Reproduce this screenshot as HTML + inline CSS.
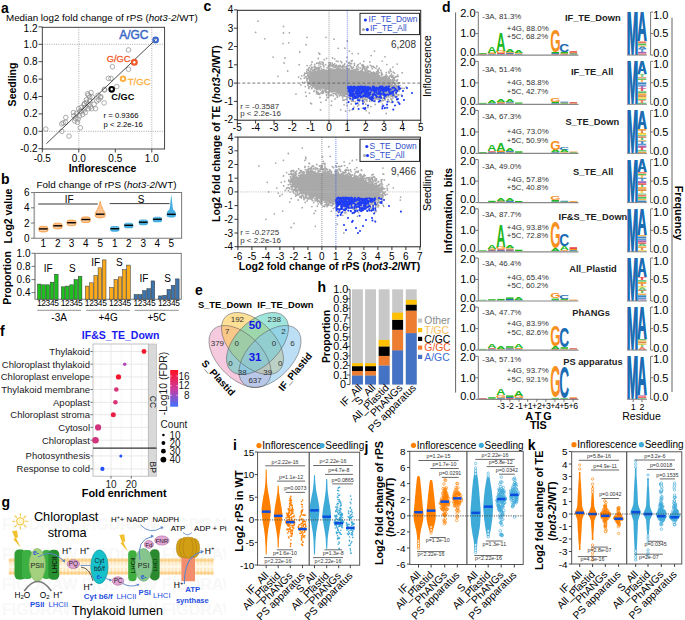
<!DOCTYPE html><html><head><meta charset="utf-8"><style>html,body{margin:0;padding:0;background:#fff}svg{display:block;font-family:"Liberation Sans",sans-serif}</style></head><body><svg width="685" height="620" viewBox="0 0 685 620" font-size="10"><g id="pa"><text x="1" y="12.5" font-size="14" font-weight="bold">a</text><text x="6" y="21" font-size="9.8">Median log2 fold change of rPS (<tspan font-style="italic">hot3-2</tspan>/WT)</text><line x1="78.8" y1="27.3" x2="78.8" y2="149" stroke="#888" stroke-width="0.7" stroke-dasharray="1 1.3"/><line x1="42.3" y1="131.3" x2="164.6" y2="131.3" stroke="#888" stroke-width="0.7" stroke-dasharray="1 1.3"/><line x1="151.8" y1="27.3" x2="151.8" y2="149" stroke="#888" stroke-width="0.7" stroke-dasharray="1 1.3"/><line x1="42.3" y1="44.3" x2="164.6" y2="44.3" stroke="#888" stroke-width="0.7" stroke-dasharray="1 1.3"/><g fill="none" stroke="#8a8a8a" stroke-width="0.7"><circle cx="45.8" cy="129.1" r="2.3"/><circle cx="61.9" cy="131.3" r="2.3"/><circle cx="69" cy="136.1" r="2.3"/><circle cx="80.3" cy="127.8" r="2.3"/><circle cx="61.7" cy="123.9" r="2.3"/><circle cx="65.5" cy="122.3" r="2.3"/><circle cx="65.8" cy="117.5" r="2.3"/><circle cx="63.2" cy="122.9" r="2.3"/><circle cx="73.5" cy="112.6" r="2.3"/><circle cx="73.8" cy="115.8" r="2.3"/><circle cx="75.5" cy="118.4" r="2.3"/><circle cx="77.4" cy="122.3" r="2.3"/><circle cx="74.8" cy="121" r="2.3"/><circle cx="78.1" cy="119" r="2.3"/><circle cx="82.6" cy="114.5" r="2.3"/><circle cx="81.3" cy="111.3" r="2.3"/><circle cx="83.9" cy="110" r="2.3"/><circle cx="85.2" cy="107.4" r="2.3"/><circle cx="84.5" cy="103.5" r="2.3"/><circle cx="86.5" cy="102.3" r="2.3"/><circle cx="89" cy="104.2" r="2.3"/><circle cx="90.3" cy="106.8" r="2.3"/><circle cx="91.6" cy="108.7" r="2.3"/><circle cx="88.4" cy="108.7" r="2.3"/><circle cx="94.2" cy="104.2" r="2.3"/><circle cx="95.5" cy="108.7" r="2.3"/><circle cx="89.7" cy="101" r="2.3"/><circle cx="88.4" cy="95.2" r="2.3"/><circle cx="91" cy="92.6" r="2.3"/><circle cx="89.7" cy="97.1" r="2.3"/><circle cx="92.3" cy="97.1" r="2.3"/><circle cx="98.1" cy="95.2" r="2.3"/><circle cx="100.6" cy="97.7" r="2.3"/><circle cx="98.7" cy="99.7" r="2.3"/><circle cx="104.1" cy="102.9" r="2.3"/><circle cx="104.5" cy="90" r="2.3"/><circle cx="108.4" cy="78.4" r="2.3"/><circle cx="111" cy="78.4" r="2.3"/><circle cx="116.8" cy="86.6" r="2.3"/><circle cx="80" cy="111.3" r="2.3"/><circle cx="78.7" cy="108.7" r="2.3"/><circle cx="81.3" cy="107.4" r="2.3"/><circle cx="96.8" cy="101" r="2.3"/><circle cx="86.5" cy="99.7" r="2.3"/><circle cx="83.9" cy="104.8" r="2.3"/><circle cx="85.2" cy="112.6" r="2.3"/><circle cx="128.5" cy="49.9" r="2.3"/><circle cx="112.4" cy="66.7" r="2.3"/><circle cx="128.5" cy="69.3" r="2.3"/><circle cx="104.4" cy="89.3" r="2.3"/><circle cx="100.7" cy="96.6" r="2.3"/><circle cx="87.5" cy="93.8" r="2.3"/><circle cx="76.5" cy="113.5" r="2.3"/><circle cx="79.5" cy="116" r="2.3"/></g><line x1="46.4" y1="143.7" x2="155.5" y2="39.7" stroke="#222" stroke-width="0.8" /><circle cx="155.6" cy="39.9" r="2.3" fill="none" stroke="#3a67c8" stroke-width="2.1" /><circle cx="134.3" cy="62.3" r="2.4" fill="none" stroke="#f05a28" stroke-width="2.2" /><circle cx="123" cy="78.7" r="2.3" fill="none" stroke="#fbb040" stroke-width="2.0" /><circle cx="111.7" cy="89.3" r="2.3" fill="none" stroke="#000" stroke-width="2.1" /><text x="119.2" y="39" font-size="12" fill="#3a67c8" stroke="#3a67c8" stroke-width="0.45">A/GC</text><text x="106.7" y="62.2" font-size="9.3" fill="#f05a28" stroke="#f05a28" stroke-width="0.3">G/GC</text><text x="127.8" y="85.2" font-size="9.5" fill="#fbb040" stroke="#fbb040" stroke-width="0.3">T/GC</text><text x="111.3" y="100.3" font-size="9.2" font-weight="bold">C/GC</text><text x="103.6" y="118.2" font-size="7.7">r = 0.9366</text><text x="103.6" y="127.3" font-size="7.7">p &lt; 2.2e-16</text><rect x="42.3" y="27.3" width="122.3" height="121.7" fill="none" stroke="#333" stroke-width="0.9"/><line x1="38.5" y1="26.9" x2="42.3" y2="26.9" stroke="#333" stroke-width="0.9" /><text x="37.5" y="32" text-anchor="end">1.2</text><line x1="38.5" y1="44.3" x2="42.3" y2="44.3" stroke="#333" stroke-width="0.9" /><text x="37.5" y="47.8" text-anchor="end">1.0</text><line x1="38.5" y1="61.7" x2="42.3" y2="61.7" stroke="#333" stroke-width="0.9" /><text x="37.5" y="65.2" text-anchor="end">0.8</text><line x1="38.5" y1="79.1" x2="42.3" y2="79.1" stroke="#333" stroke-width="0.9" /><text x="37.5" y="82.6" text-anchor="end">0.6</text><line x1="38.5" y1="96.5" x2="42.3" y2="96.5" stroke="#333" stroke-width="0.9" /><text x="37.5" y="100" text-anchor="end">0.4</text><line x1="38.5" y1="113.9" x2="42.3" y2="113.9" stroke="#333" stroke-width="0.9" /><text x="37.5" y="117.4" text-anchor="end">0.2</text><line x1="38.5" y1="131.3" x2="42.3" y2="131.3" stroke="#333" stroke-width="0.9" /><text x="37.5" y="134.8" text-anchor="end">0.0</text><line x1="38.5" y1="148.7" x2="42.3" y2="148.7" stroke="#333" stroke-width="0.9" /><text x="37.5" y="152.2" text-anchor="end">-0.2</text><line x1="42.3" y1="149" x2="42.3" y2="152.5" stroke="#333" stroke-width="0.9" /><text x="42.3" y="162" text-anchor="middle">-0.5</text><line x1="78.8" y1="149" x2="78.8" y2="152.5" stroke="#333" stroke-width="0.9" /><text x="78.8" y="162" text-anchor="middle">0.0</text><line x1="115.3" y1="149" x2="115.3" y2="152.5" stroke="#333" stroke-width="0.9" /><text x="115.3" y="162" text-anchor="middle">0.5</text><line x1="151.8" y1="149" x2="151.8" y2="152.5" stroke="#333" stroke-width="0.9" /><text x="151.8" y="162" text-anchor="middle">1.0</text><text x="102.5" y="172" font-size="10.5" text-anchor="middle" font-weight="bold">Inflorescence</text><text x="15.5" y="84.5" font-size="10.5" text-anchor="middle" font-weight="bold" transform="rotate(-90 15.5 84.5)">Seedling</text></g><g id="pb"><text x="1" y="184" font-size="14" font-weight="bold">b</text><text x="36.5" y="188.2" font-size="9.9">Fold change of rPS (<tspan font-style="italic">hot3-2</tspan>/WT)</text><rect x="34.3" y="192.6" width="147.4" height="45.6" fill="none" stroke="#555" stroke-width="0.8"/><line x1="34.3" y1="192.6" x2="34.3" y2="238.2" stroke="#aaa" stroke-width="1.6" /><line x1="31" y1="238.2" x2="34.3" y2="238.2" stroke="#555" stroke-width="0.8" /><text x="29.5" y="241.7" text-anchor="end">0</text><line x1="31" y1="223" x2="34.3" y2="223" stroke="#555" stroke-width="0.8" /><text x="29.5" y="226.5" text-anchor="end">2</text><line x1="31" y1="207.8" x2="34.3" y2="207.8" stroke="#555" stroke-width="0.8" /><text x="29.5" y="211.3" text-anchor="end">4</text><line x1="31" y1="192.6" x2="34.3" y2="192.6" stroke="#555" stroke-width="0.8" /><text x="29.5" y="196.1" text-anchor="end">6</text><line x1="38.2" y1="204" x2="97.8" y2="204" stroke="#7a7a7a" stroke-width="1.3" /><line x1="109.7" y1="203.6" x2="169.6" y2="203.6" stroke="#444" stroke-width="1.0" /><text x="69.3" y="203" text-anchor="middle">IF</text><text x="141" y="202.5" text-anchor="middle">S</text><rect x="38.7" y="226.3" width="9.4" height="5.6" rx="2.6" fill="#fbbd85" stroke="#f79a40" stroke-width="0.8"/><path d="M40.2 230.5h6.4" stroke="#fde8d0" stroke-width="0.9" stroke-dasharray="0.9 0.7"/><rect x="110.1" y="226.1" width="9.4" height="5.6" rx="2.6" fill="#46aee0"/><path d="M111.8 227.2h6" stroke="#bfe4f6" stroke-width="0.8" stroke-dasharray="0.8 1"/><rect x="53" y="223.2" width="9.4" height="5.6" rx="2.6" fill="#fbbd85" stroke="#f79a40" stroke-width="0.8"/><path d="M54.5 227.4h6.4" stroke="#fde8d0" stroke-width="0.9" stroke-dasharray="0.9 0.7"/><rect x="124" y="222.7" width="9.4" height="5.6" rx="2.6" fill="#46aee0"/><path d="M125.7 223.8h6" stroke="#bfe4f6" stroke-width="0.8" stroke-dasharray="0.8 1"/><rect x="66.8" y="220.1" width="9.4" height="5.6" rx="2.6" fill="#fbbd85" stroke="#f79a40" stroke-width="0.8"/><path d="M68.3 224.3h6.4" stroke="#fde8d0" stroke-width="0.9" stroke-dasharray="0.9 0.7"/><rect x="138.6" y="219.6" width="9.4" height="5.6" rx="2.6" fill="#46aee0"/><path d="M140.3 220.7h6" stroke="#bfe4f6" stroke-width="0.8" stroke-dasharray="0.8 1"/><rect x="81.1" y="216.9" width="9.4" height="5.6" rx="2.6" fill="#fbbd85" stroke="#f79a40" stroke-width="0.8"/><path d="M82.6 221.1h6.4" stroke="#fde8d0" stroke-width="0.9" stroke-dasharray="0.9 0.7"/><rect x="152.7" y="216.7" width="9.4" height="5.6" rx="2.6" fill="#46aee0"/><path d="M154.4 217.8h6" stroke="#bfe4f6" stroke-width="0.8" stroke-dasharray="0.8 1"/><path d="M100.2 201.4 L101.3 205.5 L103 209.5 L104.8 212.5 C105.3 214 105.3 215.5 105 216.5 C104 218.4 96.4 218.4 95.4 216.5 C95.1 215.5 95.1 214 95.6 212.5 L97.4 209.5 L99.1 205.5Z" fill="#fbbd85" stroke="#f79a40" stroke-width="0.8"/><path d="M100.2 204v8M98.4 209v6M102 209v6" stroke="#fde8d0" stroke-width="0.7" stroke-dasharray="0.8 0.9"/><path d="M171.3 194.8 C172.2 200 172.2 206 173.2 209.5 C175.5 211 176 212.5 176 215.5 C176 218.3 166.6 218.3 166.6 215.5 C166.6 212.5 167.1 211 169.4 209.5 C170.4 206 170.4 200 171.3 194.8Z" fill="#46aee0"/><line x1="39.1" y1="228.9" x2="47.7" y2="228.9" stroke="#000" stroke-width="1.4" /><line x1="110.5" y1="228.7" x2="119.1" y2="228.7" stroke="#000" stroke-width="1.4" /><line x1="53.4" y1="225.8" x2="62" y2="225.8" stroke="#000" stroke-width="1.4" /><line x1="124.4" y1="225.3" x2="133" y2="225.3" stroke="#000" stroke-width="1.4" /><line x1="67.2" y1="222.7" x2="75.8" y2="222.7" stroke="#000" stroke-width="1.4" /><line x1="139" y1="222.2" x2="147.6" y2="222.2" stroke="#000" stroke-width="1.4" /><line x1="81.5" y1="219.5" x2="90.1" y2="219.5" stroke="#000" stroke-width="1.4" /><line x1="153.1" y1="219.3" x2="161.7" y2="219.3" stroke="#000" stroke-width="1.4" /><line x1="95.9" y1="214.2" x2="104.5" y2="214.2" stroke="#000" stroke-width="1.4" /><line x1="167" y1="214.3" x2="175.6" y2="214.3" stroke="#000" stroke-width="1.4" /><text x="43.4" y="247.4" text-anchor="middle">1</text><text x="114.8" y="247.4" text-anchor="middle">1</text><text x="57.7" y="247.4" text-anchor="middle">2</text><text x="128.7" y="247.4" text-anchor="middle">2</text><text x="71.5" y="247.4" text-anchor="middle">3</text><text x="143.3" y="247.4" text-anchor="middle">3</text><text x="85.8" y="247.4" text-anchor="middle">4</text><text x="157.4" y="247.4" text-anchor="middle">4</text><text x="100.2" y="247.4" text-anchor="middle">5</text><text x="171.3" y="247.4" text-anchor="middle">5</text><text x="11.5" y="216" font-size="10.5" text-anchor="middle" font-weight="bold" transform="rotate(-90 11.5 216)">Log2 value</text><rect x="35" y="253.3" width="146.2" height="45.9" fill="none" stroke="#555" stroke-width="0.8"/><line x1="35" y1="253.3" x2="35" y2="299.2" stroke="#aaa" stroke-width="1.6" /><line x1="31.5" y1="253.3" x2="35" y2="253.3" stroke="#555" stroke-width="0.8" /><text x="30.5" y="256.9" text-anchor="end">1.0</text><line x1="31.5" y1="266.4" x2="35" y2="266.4" stroke="#555" stroke-width="0.8" /><text x="30.5" y="269.9" text-anchor="end">0.8</text><line x1="31.5" y1="279.6" x2="35" y2="279.6" stroke="#555" stroke-width="0.8" /><text x="30.5" y="283.1" text-anchor="end">0.6</text><line x1="31.5" y1="292.6" x2="35" y2="292.6" stroke="#555" stroke-width="0.8" /><text x="30.5" y="296.1" text-anchor="end">0.4</text><rect x="37.5" y="284.1" width="3.6" height="15.1" fill="#1ec01e" stroke="#333" stroke-width="0.5"/><rect x="41.8" y="284.8" width="3.6" height="14.4" fill="#1ec01e" stroke="#333" stroke-width="0.5"/><rect x="46" y="284.8" width="3.6" height="14.4" fill="#1ec01e" stroke="#333" stroke-width="0.5"/><rect x="50.2" y="282.2" width="3.6" height="17" fill="#1ec01e" stroke="#333" stroke-width="0.5"/><rect x="54.5" y="274.3" width="3.6" height="24.9" fill="#1ec01e" stroke="#333" stroke-width="0.5"/><text x="47.8" y="306.3" font-size="8.4" text-anchor="middle" letter-spacing="-0.3">12345</text><rect x="61.3" y="286.8" width="3.6" height="12.4" fill="#1ec01e" stroke="#333" stroke-width="0.5"/><rect x="65.5" y="286.1" width="3.6" height="13.1" fill="#1ec01e" stroke="#333" stroke-width="0.5"/><rect x="69.8" y="284.8" width="3.6" height="14.4" fill="#1ec01e" stroke="#333" stroke-width="0.5"/><rect x="74" y="279.6" width="3.6" height="19.6" fill="#1ec01e" stroke="#333" stroke-width="0.5"/><rect x="78.3" y="276.3" width="3.6" height="22.9" fill="#1ec01e" stroke="#333" stroke-width="0.5"/><text x="71.6" y="306.3" font-size="8.4" text-anchor="middle" letter-spacing="-0.3">12345</text><rect x="85.4" y="286.1" width="3.6" height="13.1" fill="#fbaa1a" stroke="#333" stroke-width="0.5"/><rect x="89.6" y="282.8" width="3.6" height="16.4" fill="#fbaa1a" stroke="#333" stroke-width="0.5"/><rect x="93.9" y="275.6" width="3.6" height="23.6" fill="#fbaa1a" stroke="#333" stroke-width="0.5"/><rect x="98.1" y="267.8" width="3.6" height="31.4" fill="#fbaa1a" stroke="#333" stroke-width="0.5"/><rect x="102.4" y="259.9" width="3.6" height="39.3" fill="#fbaa1a" stroke="#333" stroke-width="0.5"/><text x="95.7" y="306.3" font-size="8.4" text-anchor="middle" letter-spacing="-0.3">12345</text><rect x="109.7" y="287.4" width="3.6" height="11.8" fill="#fbaa1a" stroke="#333" stroke-width="0.5"/><rect x="114" y="279.6" width="3.6" height="19.6" fill="#fbaa1a" stroke="#333" stroke-width="0.5"/><rect x="118.2" y="276.9" width="3.6" height="22.3" fill="#fbaa1a" stroke="#333" stroke-width="0.5"/><rect x="122.5" y="269.7" width="3.6" height="29.5" fill="#fbaa1a" stroke="#333" stroke-width="0.5"/><rect x="126.7" y="265.1" width="3.6" height="34.1" fill="#fbaa1a" stroke="#333" stroke-width="0.5"/><text x="120" y="306.3" font-size="8.4" text-anchor="middle" letter-spacing="-0.3">12345</text><rect x="134.1" y="294.6" width="3.6" height="4.6" fill="#3d74ab" stroke="#333" stroke-width="0.5"/><rect x="138.4" y="294.6" width="3.6" height="4.6" fill="#3d74ab" stroke="#333" stroke-width="0.5"/><rect x="142.6" y="290.7" width="3.6" height="8.5" fill="#3d74ab" stroke="#333" stroke-width="0.5"/><rect x="146.9" y="288.7" width="3.6" height="10.5" fill="#3d74ab" stroke="#333" stroke-width="0.5"/><rect x="151.1" y="280.9" width="3.6" height="18.3" fill="#3d74ab" stroke="#333" stroke-width="0.5"/><text x="144.4" y="306.3" font-size="8.4" text-anchor="middle" letter-spacing="-0.3">12345</text><rect x="158.5" y="295.9" width="3.6" height="3.3" fill="#3d74ab" stroke="#333" stroke-width="0.5"/><rect x="162.8" y="295.3" width="3.6" height="3.9" fill="#3d74ab" stroke="#333" stroke-width="0.5"/><rect x="167" y="289.4" width="3.6" height="9.8" fill="#3d74ab" stroke="#333" stroke-width="0.5"/><rect x="171.2" y="285.4" width="3.6" height="13.8" fill="#3d74ab" stroke="#333" stroke-width="0.5"/><rect x="175.5" y="278.9" width="3.6" height="20.3" fill="#3d74ab" stroke="#333" stroke-width="0.5"/><text x="168.8" y="306.3" font-size="8.4" text-anchor="middle" letter-spacing="-0.3">12345</text><text x="48.2" y="272" text-anchor="middle">IF</text><text x="72.3" y="272" text-anchor="middle">S</text><text x="95.6" y="266.3" text-anchor="middle">IF</text><text x="119.3" y="266.3" text-anchor="middle">S</text><text x="143.9" y="282.3" text-anchor="middle">IF</text><text x="167.5" y="282.3" text-anchor="middle">S</text><line x1="37.2" y1="310.3" x2="81" y2="310.3" stroke="#777" stroke-width="0.8" /><text x="59.1" y="320.9" text-anchor="middle">-3A</text><line x1="86.1" y1="310.3" x2="130.1" y2="310.3" stroke="#777" stroke-width="0.8" /><text x="108.1" y="320.9" text-anchor="middle">+4G</text><line x1="134.6" y1="310.3" x2="178.8" y2="310.3" stroke="#777" stroke-width="0.8" /><text x="156.7" y="320.9" text-anchor="middle">+5C</text><text x="11" y="278" font-size="10.5" text-anchor="middle" font-weight="bold" transform="rotate(-90 11 278)">Proportion</text></g><g id="pg"><text x="1.5" y="506.5" font-size="14" font-weight="bold">g</text><clipPath id="gwm"><rect x="0" y="512" width="226" height="108"/></clipPath><g clip-path="url(#gwm)"><text x="2" y="530" font-size="16" font-weight="bold" fill="#f8f8f8">FIGDRAW  FIGDRAW  FIGDRAW  FIGDRAW</text><text x="2" y="560" font-size="16" font-weight="bold" fill="#f8f8f8">FIGDRAW  FIGDRAW  FIGDRAW  FIGDRAW</text><text x="2" y="590" font-size="16" font-weight="bold" fill="#f8f8f8">FIGDRAW  FIGDRAW  FIGDRAW  FIGDRAW</text><text x="2" y="615" font-size="16" font-weight="bold" fill="#f8f8f8">FIGDRAW  FIGDRAW  FIGDRAW  FIGDRAW</text></g><text x="33.9" y="520.8" font-size="12.75">Chloroplast</text><text x="67.2" y="537.4" font-size="12.75" text-anchor="middle">stroma</text><text x="71.9" y="614.7" font-size="12.5">Thylakoid lumen</text><g stroke="#f7c948" stroke-width="1.1" fill="none"><circle cx="20.3" cy="521.3" r="3.6" fill="#fff7d0"/><path d="M25.7 521.3L28.1 521.3M24.1 525.1L25.8 526.8M20.3 526.7L20.3 529.1M16.5 525.1L14.8 526.8M14.9 521.3L12.5 521.3M16.5 517.5L14.8 515.8M20.3 515.9L20.3 513.5M24.1 517.5L25.8 515.8" stroke-linecap="round"/></g><path d="M12.1 531l5 -0.6l0.9 7.2l-1.9 0.4l4.6 9.6l-7.6 -8.6l1.9 -0.5z" fill="#f2c12e"/><path d="M119.3 534.9l5 -0.6l0.9 7.2l-1.9 0.4l4.6 9.6l-7.6 -8.6l1.9 -0.5z" fill="#f2c12e"/><defs><pattern id="mem" x="8.7" y="558.3" width="3.6" height="16.6" patternUnits="userSpaceOnUse"><rect width="3.6" height="16.6" fill="#fff8e8"/><path d="M1.2 3v4M2.4 3v4M1.2 9.6v4M2.4 9.6v4" stroke="#fbd9a0" stroke-width="0.6"/><circle cx="1.8" cy="1.9" r="1.8" fill="#fcd086"/><circle cx="1.8" cy="14.7" r="1.8" fill="#fcd086"/></pattern></defs><rect x="8.7" y="558.3" width="205" height="16.6" fill="url(#mem)" /><rect x="14.5" y="549.4" width="11" height="30.1" rx="4.5" fill="#2f9e35"/><rect x="22" y="550" width="10" height="29" rx="4" fill="#3cb043"/><rect x="42" y="550" width="9" height="29" rx="4" fill="#3cb043"/><rect x="48.4" y="549.8" width="10.8" height="30" rx="4.5" fill="#279030"/><ellipse cx="37.3" cy="564.9" rx="8.2" ry="16.5" fill="#a3d17e" stroke="#7fb35a" stroke-width="0.6"/><text x="37.3" y="567.6" font-size="7.2" text-anchor="middle" fill="#222">PSII</text><text x="56.8" y="565" font-size="6.6" text-anchor="middle" font-weight="bold" fill="#123012" transform="rotate(-90 56.8 565)">LHCII</text><text x="35.9" y="554.6" font-size="6.5" text-anchor="middle" font-weight="bold" fill="#1f4fe0">e-</text><path d="M38 557 Q52 548 64 561" fill="none" stroke="#5b86c8" stroke-width="1"/><path d="M65.0 562.5L64.8 559.0L61.8 561.1Z" fill="#5b86c8"/><path d="M24.2 591 Q37.8 572 51.4 591" fill="none" stroke="#7a7a7a" stroke-width="1.6"/><text x="14.5" y="597.9" font-size="8.3">H<tspan font-size="6" dy="1">2</tspan><tspan dy="-1">O</tspan></text><text x="39.7" y="597.9" font-size="8.3">O<tspan font-size="6" dy="1">2</tspan></text><text x="53.3" y="597.9" font-size="8.3">H<tspan font-size="5.8" dy="-3.5">+</tspan></text><text x="30" y="606.6" font-size="7.6" font-weight="bold" fill="#1f4fe0">PSII</text><text x="48.4" y="606.6" font-size="7.7" fill="#1f4fe0">LHCII</text><text x="62.1" y="553.5" font-size="8.5">H<tspan font-size="5.9" dy="-3.5">+</tspan></text><text x="79.9" y="553.5" font-size="8.5">H<tspan font-size="5.9" dy="-3.5">+</tspan></text><ellipse cx="73.3" cy="564.1" rx="6.2" ry="4.4" fill="#e2a5d6" stroke="#a66a9c" stroke-width="0.6"/><text x="73.3" y="566.3" font-size="6.3" text-anchor="middle" fill="#222">PQ</text><ellipse cx="99.4" cy="566.8" rx="8.6" ry="16.9" fill="#17c1c9" stroke="#0b9aa2" stroke-width="0.7"/><text x="99.4" y="563" font-size="6.5" text-anchor="middle" fill="#123">Cyt</text><text x="99.4" y="571.2" font-size="6.5" text-anchor="middle" fill="#123">b6/f</text><text x="99.4" y="579" font-size="6.5" text-anchor="middle" font-weight="bold" fill="#1f4fe0">e-</text><path d="M81 567 Q90 568 93 581" fill="none" stroke="#333" stroke-width="0.8"/><line x1="80.5" y1="565.5" x2="90.5" y2="565.5" stroke="#5b86c8" stroke-width="0.8" /><text x="83.4" y="589.5" font-size="8.5">H<tspan font-size="5.9" dy="-3.5">+</tspan></text><path d="M104 576 Q106 580 111.5 580" fill="none" stroke="#5b86c8" stroke-width="0.9"/><path d="M112.0 580.2L109.5 578.4L109.3 581.5Z" fill="#5b86c8"/><ellipse cx="118" cy="581" rx="5.8" ry="4.2" fill="#e2a5d6" stroke="#a66a9c" stroke-width="0.6"/><text x="118" y="583.2" font-size="6.3" text-anchor="middle" fill="#222">PC</text><path d="M123 583.5 Q130 588 138.5 584.5" fill="none" stroke="#5b86c8" stroke-width="0.9"/><path d="M139.5 584.0L136.5 583.7L137.8 586.5Z" fill="#5b86c8"/><text x="83.8" y="598.8" font-size="7.9" font-weight="bold" fill="#1f4fe0">Cyt b6/f</text><text x="116.4" y="598.8" font-size="7.9" fill="#1f4fe0">LHCII</text><rect x="128.2" y="550.2" width="8.5" height="31" rx="4" fill="#3fae3f"/><rect x="149.8" y="549.3" width="9.8" height="31.1" rx="4.5" fill="#2b8a2f"/><ellipse cx="143.6" cy="564.9" rx="8.9" ry="16.4" fill="#86c68e" stroke="#5fa86a" stroke-width="0.6"/><text x="134.6" y="565.5" font-size="6.2" text-anchor="middle" font-weight="bold" fill="#173817" transform="rotate(-90 134.6 565.5)">LHCII</text><text x="156.9" y="565" font-size="5.6" text-anchor="middle" fill="#102810" transform="rotate(-90 156.9 565)">LHCI</text><text x="143.6" y="567.5" font-size="7.2" text-anchor="middle" fill="#222">PSI</text><text x="143.6" y="578.5" font-size="6.5" text-anchor="middle" font-weight="bold" fill="#1f4fe0">e-</text><path d="M140 560 Q136 540 152 536.5" fill="none" stroke="#5b86c8" stroke-width="1"/><path d="M154.0 536.0L150.9 534.5L151.2 538.1Z" fill="#5b86c8"/><ellipse cx="148.9" cy="544.4" rx="4.6" ry="3.9" fill="#e2a5d6" stroke="#a66a9c" stroke-width="0.6"/><text x="148.9" y="546.5" font-size="6.2" text-anchor="middle" fill="#222">Fd</text><ellipse cx="161.9" cy="540.5" rx="7.2" ry="4.6" fill="#e2a5d6" stroke="#a66a9c" stroke-width="0.6"/><text x="161.9" y="542.7" font-size="6.2" text-anchor="middle" fill="#222">FNR</text><text x="111" y="522.2" font-size="7.8">H<tspan font-size="5.5" dy="-3.5">+</tspan><tspan dy="3.5">+ NADP</tspan></text><text x="152.5" y="522.2" font-size="7.6">NADPH</text><path d="M140.5 525 Q150 535 162 527.5" fill="none" stroke="#5b86c8" stroke-width="0.9"/><path d="M163.5 526.7L160.2 526.6L161.9 529.6Z" fill="#5b86c8"/><text x="138.6" y="594.5" font-size="7.6" font-weight="bold" fill="#1f4fe0">PSI</text><text x="153" y="598.1" font-size="7.7" fill="#1f4fe0">LHCI</text><rect x="181.4" y="557" width="13.6" height="24.2" fill="#f28e6e" /><g fill="#d19e14" stroke="#a87a08" stroke-width="0.5"><ellipse cx="181.5" cy="548" rx="5.2" ry="9.5"/><ellipse cx="194.5" cy="548" rx="5.2" ry="9.5"/><ellipse cx="184.8" cy="547.6" rx="5.2" ry="10.4"/><ellipse cx="191.2" cy="547.6" rx="5.2" ry="10.4"/><ellipse cx="188" cy="547.6" rx="5" ry="10.7"/></g><text x="170.7" y="530.7" font-size="7.8">ATP</text><text x="194.1" y="530.7" font-size="8">ADP + Pi</text><path d="M192 532.5 Q188 537 183 532.5" fill="none" stroke="#5b86c8" stroke-width="0.8"/><path d="M184.4 584 Q184 556 202 551.8" fill="none" stroke="#5b86c8" stroke-width="1.1"/><path d="M204.0 551.3L200.5 550.1L201.3 553.8Z" fill="#5b86c8"/><text x="204.8" y="553.8" font-size="8.5">H<tspan font-size="5.9" dy="-3.5">+</tspan></text><text x="173.8" y="588.3" font-size="8.5">H<tspan font-size="5.9" dy="-3.5">+</tspan></text><text x="185.3" y="592.2" font-size="7.8" font-weight="bold" fill="#1f4fe0">ATP</text><text x="175.9" y="602.5" font-size="7.6" font-weight="bold" fill="#1f4fe0">synthase</text></g><text x="203.5" y="10.5" font-size="14" font-weight="bold">c</text><g id="pc"><clipPath id="c1"><rect x="237.3" y="10.3" width="183.4" height="109.9"/></clipPath><clipPath id="c2"><rect x="237.9" y="137.1" width="182.5" height="109.7"/></clipPath><g clip-path="url(#c1)"><ellipse cx="352" cy="82.5" rx="41" ry="12.5" transform="rotate(7 352 82.5)" fill="#a9a9a9"/><path d="M367.1 73.1h0M368.3 70.9h0M312.1 76.5h0M341.1 95.3h0M392.3 94.9h0M318.1 92.5h0M317.2 84.7h0M389.7 89.6h0M394.5 96.5h0M393.4 87.5h0M329.8 69.3h0M354.4 95.2h0M314.6 82.3h0M394.7 84.5h0M385 79.9h0M376 74.9h0M316.6 91.5h0M304.3 78.2h0M335.2 65.6h0M390 93.2h0M313.4 72.2h0M344.7 96h0M382.4 78.2h0M389.6 93.4h0M335.9 70.5h0M381.5 75.7h0M356.4 94.2h0M384.8 79.6h0M382.4 74.6h0M395.4 90.6h0M342.7 69.5h0M395.4 88h0M311.1 77.2h0M311.6 85.2h0M362.2 98.8h0M331.2 94.7h0M368 70.6h0M333.1 95.8h0M375.1 97.4h0M340.7 61.3h0M312 82.5h0M365.8 72.2h0M354.3 94.3h0M333.5 90.9h0M367.3 66.5h0M311.8 77.1h0M312.7 77.4h0M353.7 98.3h0M393.7 89.2h0M389.2 82.6h0M388.4 99.5h0M376.4 74.3h0M322.5 90.4h0M391.9 83h0M318.8 84.8h0M390.5 81.8h0M313 71.4h0M352.9 95.8h0M351.6 66.8h0M334.6 63.8h0M337.1 69.7h0M310.2 81.5h0M357.5 98.2h0M327.2 67.8h0M382.8 93.8h0M339 70.1h0M325.6 64.6h0M322.1 87h0M365.8 71.6h0M364.6 94.4h0M316.4 92.6h0M365.9 70.5h0M321.7 86.2h0M344.4 64.8h0M321.7 68.9h0M394.3 78.9h0M394.8 86.7h0M346.8 69h0M368.3 72h0M374 94.6h0M344.1 69.2h0M378.5 69.9h0M317.6 86.3h0M310.9 69h0M306.9 80.4h0M394.3 82.3h0M334.2 90.6h0M318 85.4h0M391.5 87.4h0M315.9 83.6h0M325.6 70.6h0M389.6 82.5h0M388.3 81.9h0M330.4 95.4h0M395.6 86.3h0M366.1 97h0M371.3 74.1h0M373.1 95.7h0M313.9 91.3h0M387.5 91.8h0M378.7 76h0M372.8 73.5h0M377.2 98.3h0M306.7 71.5h0M348 97.5h0M310.2 78.2h0M314.5 74.4h0M383.8 97.2h0M379.8 76.7h0M342.8 95.9h0M314 81h0M392.5 96.3h0M397.6 88.6h0M364.3 99.4h0M328.8 89.5h0M392.8 77.3h0M386.3 74.6h0M311.4 79.1h0M311.3 82.1h0M332.5 58h0M379 75.6h0M328.4 94h0M365.1 69.2h0M318 86.3h0M318.6 70.1h0M350.2 71h0M312 77.5h0M338.6 65.6h0M340.3 65.5h0M393.3 88.1h0M392.8 92.2h0M375.3 99.5h0M359.5 100.3h0M362.2 100.3h0M394.5 96.5h0M358.9 95.2h0M319.2 68h0M384.3 76.9h0M327.4 88.4h0M322.7 90.9h0M316 84.4h0M336.2 70.6h0M363.5 66h0M393.8 79.3h0M322 87.8h0M342.6 68.4h0M329 88.9h0M371.9 72.6h0M355.5 94.7h0M380.7 77.9h0M310.5 76.9h0M347.1 70.5h0M312.1 74.4h0M334.3 91.4h0M308.6 77.9h0M389.7 90.5h0M392.5 92.6h0M310.2 73.5h0M311.6 79.3h0M373.9 73.2h0M395.7 91h0M314.5 73.7h0M306.6 78.6h0M319.7 71.4h0M348.3 70.2h0M311.3 75.2h0M314.6 72.3h0M308.1 78.3h0M322.8 72h0M350.9 95.5h0M311.1 69.5h0M334.3 69.9h0M365.3 95.8h0M392 86.8h0M352.7 68.8h0M393.3 82.6h0M339.4 93.3h0M312.9 82.5h0M347.2 97.3h0M389.6 89.7h0M392.3 88.8h0M351.4 94.3h0M379 77.2h0M372 100.1h0M338.3 66.7h0M350.5 96.1h0M391 96.4h0M365 97h0M335.6 70h0M308.9 77h0M313.9 74.3h0M313.4 80.7h0M344 95.5h0M312.3 78.3h0M389.5 80h0M362.7 96.4h0M349.2 68.4h0M350.2 94.6h0M364.7 96.2h0M332.7 90.4h0M385.2 93.7h0M393.1 78.8h0M322 93.1h0M368.9 95.3h0M391.3 87.3h0M392.9 98h0M359.2 101.5h0M314.9 85.7h0M320.2 71.1h0M392.1 86.1h0M385.8 75.8h0M352.1 98.8h0M319.9 62h0M391.4 77.3h0M383.4 92.5h0M379.1 72.6h0M316.9 89.5h0M362.4 66.9h0M332.8 90.9h0M323.9 66.8h0M307.5 75.9h0M384.9 100h0M356.5 66.8h0M371.1 74.7h0M310.7 79h0M320 86.7h0M390.4 83.7h0M319.7 93.6h0M382.1 78.8h0M316.1 83.7h0M322.8 86.9h0M323.4 92h0M390.9 94.5h0M343.5 94.2h0M355.6 97.2h0M391.3 95.8h0M310.6 71.6h0M312.7 82.9h0M395.9 92.1h0M373.4 95.4h0M389.1 79.6h0M377.9 94.3h0M322 88.9h0M391.3 83.4h0M383.1 100.4h0M315.7 86.8h0M367.7 66.3h0M391.5 88.5h0M389.6 94.4h0M389 82.3h0M337 68.5h0M346.9 99.7h0M312.1 78.9h0M350.5 97.3h0M384.6 78.8h0M392.4 82.4h0M391.9 100.5h0M309.5 74h0M367 99.4h0M314.5 90.6h0M351.2 70.9h0M344.3 66.9h0M365.6 99.2h0M330.5 90.9h0M315.2 83.5h0M319.7 87.9h0M336.5 65.5h0M362.9 73h0M330.2 89.7h0M311.5 84.3h0M389 93.2h0M324.1 87.2h0M394.4 80.1h0M306.9 76.6h0M314.8 74h0M320.9 70.8h0M315.3 72.4h0M367 72.9h0M348.2 93.5h0M331.6 101.1h0M384.5 76.8h0M311 77.5h0M396.8 80.9h0M377.4 98.4h0M363.1 65h0M312.3 79.4h0M309.7 80.3h0M383.3 76.9h0M378.6 95h0M311.3 76.3h0M350.5 95.3h0M326.6 95.3h0M371.9 66.5h0M318.1 86.5h0M362.2 71.8h0M396.7 90.3h0M392.2 87.4h0M392.8 82.9h0M335.6 66.4h0M363.9 94.7h0M330.3 62.7h0M365.5 94.6h0M319.6 94.3h0M392.8 91.4h0M389.3 94.6h0M373.4 100.1h0M367.5 97.7h0M375.2 73.2h0M352 94.7h0M372.1 73h0M393 88.1h0M389.7 92h0M388.9 91.3h0M389.3 82.3h0M371.8 66.7h0M397.6 91.1h0M391.1 80.1h0M356.5 95.3h0M346 99.2h0M317.6 71.7h0M362 95.5h0M399.4 82.9h0M323.8 88.2h0M315.6 71.9h0M314.7 69.4h0M342.6 93.2h0M349.6 69.9h0M396.3 86.8h0M318.6 69h0M386.2 92.5h0M367.7 73.7h0M332.9 66.7h0M307.7 78.6h0M329.9 65.2h0M347.6 94.7h0M337.1 92.3h0M312.8 76.9h0M388.4 92.4h0M318 71.3h0M367.4 97.4h0M349.6 94.3h0M387.4 76.5h0M317 68.3h0M351.5 100.4h0M340.6 69.7h0M395.2 87.4h0M386.1 77.9h0M366.7 68h0M328.5 97.5h0M315.5 66.8h0M317.6 71.5h0M386.7 96h0M339.1 68.3h0M311.7 75.8h0M311.5 75.6h0M350.2 70.9h0M386.9 91.9h0M360 95.2h0M399.9 85.6h0M338 93h0M349.2 94.6h0M391.2 99.3h0M334.6 93.6h0M315.4 74.3h0M392.7 92.1h0M340.4 94.5h0M349 93.3h0M373.9 95.8h0M365.1 66.8h0M391.1 85h0M391.1 75.8h0M308.7 87.2h0M389.9 94.6h0M326.4 91.4h0M312.6 76h0M321.1 87.6h0M349.3 62.8h0M351.9 68.7h0M385.7 78.3h0M310.8 80.5h0M353.5 95h0M388.7 78.1h0M383.8 77.2h0M380 98.7h0M360.2 98.5h0M331.2 65.6h0M372.2 68.7h0M392.1 84.1h0M391 88.4h0M365.8 104.3h0M313.2 86.5h0M313.5 73.4h0M361.8 65.3h0M311.3 68.6h0M306.6 73.3h0M352.9 98h0M328.7 62.8h0M317.2 71.4h0M398 76.5h0M365.6 99.3h0M379.9 95.5h0M325.6 90.8h0M331.8 92h0M313 81h0M370 98.5h0M342.6 67h0M373.3 66.4h0M395 88.6h0M387.9 79h0M386.8 97.3h0M336.3 93.1h0M310.8 78.7h0M315.3 83.5h0M358.8 104.8h0M348.6 65.8h0M375.3 73.3h0M356.3 94.9h0M371.7 100.7h0M312.7 76.6h0M375.2 97.9h0M390.3 82.6h0M378 73.7h0M373.9 74.7h0M314.6 87.8h0M362.7 72.1h0M319.2 86.9h0M310.9 81.9h0M384 97.8h0M397.1 96.2h0M333.9 69.9h0M364.8 95.9h0M391.6 84h0M315.9 74.2h0M314.8 68.2h0M388.8 71.8h0M338.3 94.1h0M399.2 90.7h0M358 99.1h0M310.5 82.2h0M374.2 94.7h0M342.9 92.5h0M350.7 66.5h0M321.6 88h0M329 89h0M354.8 94.3h0M310.5 73.5h0M392.7 87.1h0M371 106.6h0M375.5 75.9h0M360.3 68.2h0M317.9 63.1h0M311.2 72h0M311.8 76h0M383.9 95.3h0M311.5 64.3h0M397.6 86.1h0M348.7 63.3h0M311.8 80.3h0M311.3 84.2h0M381.8 74.8h0M396.1 88.9h0M363 102.3h0M397.2 80.2h0M329.8 65.9h0M374.2 67.6h0M309 71.8h0M391.9 91.6h0M310.3 72.5h0M325.3 70.8h0M386.2 94.5h0M312.4 78.8h0M391.3 82.1h0M391 95.4h0M394.4 95.7h0M383.3 93h0M336.5 65.2h0M384.4 79.3h0M373.3 94.9h0M376.6 73.5h0M357.4 98.1h0M308.5 70.2h0M356.9 71.7h0M381.3 95.8h0M312.2 79.1h0M381.4 74h0M325.3 90.9h0M365.2 73.1h0M311.5 82h0M391.1 82.4h0M318.7 84.7h0M371.6 72.6h0M388 93.8h0M328.6 92.1h0M375.9 98.2h0M317.8 85.1h0M317.5 85.2h0M352.9 94.9h0M316 83.8h0M336.3 61.1h0M314.2 66.3h0M352 96.1h0M343.6 70.4h0M343.2 65.9h0M311.8 88.7h0M309.1 82.9h0M369.7 100.7h0M374.4 73h0M325.3 89.7h0M340 91.7h0M390.6 80.1h0M336.1 94.7h0M363.6 94.6h0M320 89h0M304.9 73.2h0M320.9 63.9h0M317.5 87.6h0M337 67.1h0M392.6 89.6h0M388.2 82.6h0M312.1 80.7h0M312.5 82.1h0M313.4 81.5h0M343.6 96.1h0M370 71.2h0M309.6 83.7h0M384.4 92.7h0M325.8 92.5h0M312 78.6h0M323.4 92.9h0M383.7 94.2h0M385.4 75.9h0M375 100.9h0M348.7 62.8h0M312 87.7h0M310.7 77.8h0M335.3 67.4h0M393 89.2h0M309.7 78.5h0M311.5 81.3h0M313.3 85h0M398.9 88.5h0M395.1 89.3h0M308.8 78.5h0M313.1 80.6h0M329.8 91.6h0M382.4 99.9h0M324.4 88h0M334.3 67.6h0M370.3 74.6h0M357.3 69.8h0M392.9 87.7h0M329.5 89.4h0M312.8 78.2h0M369.9 71.3h0M313.8 70.5h0M366.4 72.6h0M338.2 68.6h0M388 92.8h0M395 85.4h0M312.7 70.6h0M320.5 70.9h0M348.2 94.3h0M391 71.5h0M401.9 88.2h0M326.7 95h0M307 78.8h0M388.5 91.2h0M357.2 68.9h0M326.6 58.3h0M354.6 96.8h0M373.5 72.1h0M312.7 73h0M388.9 82.2h0M370.8 73.2h0M384.7 96.5h0M353.6 96.9h0M378.2 71.3h0M396.9 94.4h0M379 97.3h0M389.6 79.2h0M370.4 65.4h0M349.3 94h0M328.9 91.4h0M393.1 92.2h0M380.4 101.1h0M392.5 88.4h0M317.9 71.5h0M320.7 66.4h0M375.8 94.1h0M373.4 75.2h0M309.6 78.7h0M318.9 67.8h0M332.1 70.3h0M361.8 96.7h0M368.1 67.3h0M315.8 86.2h0M312 77.7h0M379.8 96.5h0M349.2 95.2h0M311.8 81.7h0M346.9 70.4h0M309.8 82.7h0M314 71.9h0M355.2 71.1h0M316.7 87.4h0M396.1 90.5h0M313 69.9h0M393.7 80.2h0M391 90.1h0M313.3 79.8h0M330.3 70.4h0M312.6 78.2h0M384.1 96.5h0M310.3 75.9h0M388.2 96h0M387.8 91.7h0M327.1 97.4h0M368.6 95.8h0M308.7 76.6h0M392.5 81.3h0M359.4 95.2h0M396.7 86.2h0M326.5 91.1h0M374 74.9h0M312.2 76h0M361.4 70.5h0M379.9 77.1h0M376.6 71.6h0M375.4 97.2h0M385 77.6h0M382.5 104.1h0M349.9 65.2h0M393.3 94.1h0M337.2 96h0M378.3 94.5h0M323.8 70.9h0M334.6 91.5h0M314.6 71.3h0M358.5 95.9h0M317.7 86.9h0M387.6 76.7h0M318.9 69.2h0M309.4 78.8h0M347.6 65.7h0M392.6 86.9h0M329.9 91.7h0M382.6 95.1h0M352.5 98.5h0M373.7 101h0M317 86h0M351.7 68.1h0M357.8 69.7h0M383.4 97.1h0M372.1 96.6h0M324.3 90.3h0M376.8 72.7h0M312.8 78.5h0M310.5 72.1h0M340.3 92.3h0M309.2 67.7h0M320.7 70.6h0M328.9 93.1h0M319.4 68.1h0M354.4 71.2h0M326.2 89h0M313.1 80.6h0M379 97h0M346.9 102.8h0M390.3 89.7h0M392 95.2h0M386.4 93.2h0M386.4 77.4h0M349.1 69.1h0M317.3 70.4h0M365.5 72.8h0M368.9 97.7h0M327 88.1h0M316.2 69.1h0M377.7 77.1h0M313.4 75h0M380.7 101.5h0M394.8 95.6h0M392 90.7h0M355.2 69.6h0M385.6 77.6h0M375.9 97.6h0M368.2 73.5h0M392.4 92.2h0M376 68.2h0M341.4 70.6h0M304.9 82.3h0M312.1 79.1h0M358.2 96h0M389.7 81.6h0M344.7 94.9h0M346.4 96.4h0M360.1 63.5h0M317 73.2h0M311.4 76.1h0M316.5 73.7h0M383.2 98.2h0M382.6 94.3h0M395.2 85h0M341.8 62.6h0M322.5 71h0M315.4 74.3h0M354.4 95h0M373.4 97.7h0M314.8 64.4h0M397.2 89.9h0M391.6 89.4h0M327.4 92.5h0M317.4 70.6h0M390.7 80.2h0M308 85h0M336.8 91.6h0M392.4 83.1h0M338.4 93.9h0M307 80.1h0M312.8 78.9h0M394 94.6h0M383.3 94.8h0M391.7 87.9h0M365.2 69.1h0M320.2 89.9h0M336.2 69.3h0M310.4 84.3h0M312.2 77.9h0M381.5 72.4h0M318.8 86.5h0M385.1 98.9h0M333.3 66.5h0M396 93.1h0M305.2 73.3h0M321.6 92.1h0M312.4 86.7h0M348 68.6h0M374.9 74.8h0M396.5 81.7h0M361 71.7h0M370.8 72.7h0M392.8 79.5h0M320.6 86.8h0M326.5 95.2h0M390.9 88.9h0M313.4 80.6h0M389.3 91h0M359.4 99.1h0M314.8 87.3h0M315.4 86.7h0M358.2 64.7h0M308.7 82.4h0M342.5 69.2h0M395.6 91.4h0M346.3 67.2h0M356.7 69h0M398.6 90.9h0M327.2 88.1h0M326.7 71.2h0M377.8 99h0M367.7 71.5h0M396 83.8h0M362.4 69.5h0M323.2 69.9h0M362.8 67.6h0M395.3 77.2h0M397.4 79.6h0M329.1 95.5h0M328.4 66h0M385.7 96.1h0M388.4 79.7h0M389.3 91.4h0M341.2 92.6h0M316.1 72.4h0M357.2 98h0M314.5 85.3h0M326.2 90.9h0M332.8 65.7h0M308.1 74.3h0M372.5 75.4h0M322 62.1h0M346.2 68.4h0M391.4 88.3h0M334.7 58.8h0M389.9 75.9h0M377.6 94.9h0M361.7 72.9h0M362.2 71.8h0M386.2 92.4h0M322.5 70.7h0M335.5 91.4h0M323.5 87.1h0M394.1 87h0M315.7 72.4h0M302.4 82.4h0M365.2 72.7h0M319.3 86.9h0M379 95.8h0M393.1 85.8h0M372.2 95.1h0M386 79.4h0M391.6 85.9h0M312.7 79.6h0M381 96.9h0M308 83.4h0M312.9 74h0M362.5 72.9h0M396.1 87.8h0M351.4 98.4h0M390.7 89.4h0M391.9 86.2h0M391.3 87.4h0M394.7 82.8h0M384.2 79.8h0M389.2 73.1h0M316 88.7h0M363 97.7h0M319.3 69.9h0M313.6 83.8h0M343.4 66.7h0M365.1 95.8h0M312.8 79.4h0M389.1 78h0M318.3 71.6h0M389 81.9h0M353.5 70.9h0M378.1 96.7h0M328.1 67.9h0M366.9 101.2h0M389.1 94.8h0M320.4 70.4h0M391.4 87.8h0M390.8 92.4h0M318.1 89.3h0M367.9 107.4h0M332.4 66.1h0M342.7 97.8h0M351.9 101.3h0M313.5 73.3h0M311.9 75.6h0M377.1 72.7h0M370.6 74.3h0M393.9 77.5h0M382.3 94.6h0M391.7 94.7h0M354.5 65.2h0M317.4 87h0M392.1 94.5h0M312.2 75.2h0M333.2 91.5h0M359.4 100.7h0M332.2 63.2h0M349.5 69.9h0M348 93.5h0M332.8 69.3h0M356.5 97.6h0M386.3 72.6h0M319.1 84.7h0M309.7 80.4h0M370.9 99.6h0M309.2 82h0M343.3 95.7h0M362.7 68h0M377.5 93.9h0M310.8 73.4h0M317 86.3h0M387.7 80h0M330.3 68.8h0M311.8 67.3h0M375.3 94.2h0M383.6 94.9h0M319.9 67.5h0M389 80.2h0M388 96.2h0M314.8 84.7h0M321.1 92.7h0M395.8 91.5h0M324 69.3h0M310.6 81.3h0M312.1 78.7h0M372.6 75.2h0M322.8 64.4h0M353 95.1h0M394.6 82.6h0M388.2 82.1h0M339.1 68.3h0M380.4 95.8h0M324.3 59.7h0M396.6 88.2h0M341.6 92.1h0M308.9 88.5h0M309.8 82.1h0M363.1 72.1h0M315.1 74.2h0M328.8 69.7h0M308.4 85.3h0M348.7 69.7h0M366.2 97.1h0M390.4 70.4h0M374.7 75.8h0M388.1 79.4h0M390.6 84.1h0M363.8 61.3h0M340.3 93.3h0M390.9 75.9h0M368.3 74.2h0M312.9 79.2h0M384.2 93.4h0M391.6 85.8h0M359.5 99.8h0M369.8 101.3h0M313.8 73.2h0M379.2 75.6h0M344.4 100.1h0M361 94.4h0M362.3 71.1h0M312.6 67.6h0M315.8 73.4h0M318.4 68.7h0M368.4 71.8h0M362.4 65h0M346.8 93.8h0M322.5 93.4h0M393.2 87.4h0M374.7 74.3h0M311.7 73.2h0M333.3 91.4h0M385.3 80.2h0M341.8 95.7h0M312.4 80.3h0M318.7 70.7h0M358.5 67.3h0M342.7 66.9h0M337.7 68.8h0M361.2 97.7h0M326.1 100.2h0M353.5 70.2h0M317.2 73.3h0M391.5 74.2h0M391.6 99.6h0M392.9 86.2h0M311 78h0M339 93h0M384 93.7h0M387.7 91h0M398.3 86.5h0M362.8 71.4h0M393.2 85.6h0M377.1 73.8h0M312.8 85.2h0M365 99h0M311.9 74h0M353.2 95.6h0M372.7 96.7h0M314.4 73.8h0M315 70.8h0M394 86h0M366.8 73.4h0M393.5 89.5h0M369.8 94.7h0M313.7 71.8h0M342.9 65.5h0M391.7 86.7h0M313.2 73.1h0M307.3 82.1h0M393.1 88.5h0M312.4 84.6h0M381.3 72.2h0M390.6 93.6h0M307.9 72.8h0M391.1 83.6h0M390.9 85.1h0M394.5 89.8h0M335.9 94h0M364.4 102h0M393.4 85.8h0M366 70.4h0M344.1 104.8h0M316.9 93.7h0M334.8 67.2h0M394.7 91.3h0M371.1 97.3h0M364 68.4h0M335.1 98.9h0M353.6 97.6h0M388.4 78.2h0M346.5 61.4h0M380.8 70.2h0M362.6 67.5h0M308.1 75h0M366.8 95.3h0M339.7 66.4h0M307.1 65.6h0M348.3 69.5h0M334.8 69.8h0M364.5 66.7h0M391.1 93.5h0M371.6 99h0M383.1 78.1h0M337.3 68.9h0M381.7 73.6h0M390.9 93.5h0M310.9 75.3h0M395.8 89.7h0M373.1 96.9h0M390.6 91.1h0M365.7 104.1h0M348.7 94.7h0M387.7 92.1h0M328.7 65.3h0M318 72.4h0M337.3 69h0M398.1 83.8h0M342.5 93.2h0M351.2 104h0M336.3 94.7h0M369.8 71.5h0M329.8 64.6h0M354.4 63.5h0M353.5 101.1h0M378.7 99.6h0M309.7 80.5h0M386.8 78.8h0M348.1 94.7h0M357.5 65.4h0M341.5 67.1h0M320 97.5h0M340.9 66.5h0M389.6 79.5h0M360.4 94.5h0M347.8 94.5h0M318.6 88.7h0M363.6 100h0M317.4 86.9h0M348.8 70.9h0M378.1 76.6h0M332.5 69.5h0M310.7 71.7h0M388.9 80.4h0M366.3 100.2h0M340.1 66.4h0M318.2 94.2h0M389.4 83h0M364.3 99h0M348.9 97.3h0M382.9 100.5h0M305.3 86.6h0M338 61.5h0M339.4 95.9h0M385 79.6h0M366.9 68.9h0M345.1 94.6h0M319 65.1h0M330.3 64.2h0M377.3 94h0M328.8 67.5h0M323.2 63.1h0M382.2 74.5h0M338.9 91.5h0M377.8 99.3h0M310.4 71h0M378.2 77.3h0M381.7 100.7h0M361.3 97.3h0M382.9 92.6h0M391.3 86.7h0M356.7 66.7h0M384.9 92.8h0M379.2 68.2h0M310.2 86.6h0M395.6 91.7h0M389.9 93.2h0M350.8 95.3h0M390.1 89.3h0M370.6 95h0M389.1 92.2h0M376.5 95.4h0M384.9 96.2h0M312.8 86.6h0M372.1 73.6h0M362.5 69.1h0M312.9 75.7h0M389.9 93.3h0M391.7 82.7h0M389.5 93.8h0M394 89.1h0M353.5 67.2h0M323.6 65.5h0M355.3 71.6h0M343.1 100h0M385.9 76.6h0M382.4 74.5h0M396.5 97.6h0M396.2 80.7h0M358.5 69.7h0M378 75.3h0M309.9 79.6h0M365.1 70.6h0M389.2 77.3h0M385.1 79.5h0M313.5 80.2h0M310.7 80.5h0M394.9 94.2h0M311.5 103.8h0M341.5 93.6h0M310.4 82.2h0M340.7 109.8h0M381.8 78.5h0M360.5 71.2h0M397.2 64.1h0M337.3 97.3h0M310.4 65.8h0M318.8 53.1h0M389.1 101.5h0M375.2 104.5h0M305.5 92.3h0M305.5 76.9h0M383.7 92.4h0M306.2 96.2h0M391.2 90.8h0M379.3 99.1h0M352.2 53.6h0M334 64.6h0M378.5 76.2h0M355.4 69.4h0M349.3 51.1h0M316.8 68h0M386.2 113.5h0M344.9 48.2h0M375.7 99.2h0M340 68.4h0M398.1 82.9h0M385 56.8h0M391.4 74.4h0M326.2 100h0M312.5 75.4h0M304.6 74h0M323.2 62.7h0M391.9 86.9h0M387.9 99.6h0M319.8 88.4h0M277.9 76.3h0M312 62h0M357.6 106.1h0M311.1 77h0M394.5 73.2h0M350.4 95.6h0M389 97.1h0M309 76h0M318.3 58.5h0M393.2 81.1h0M367.3 72.2h0M304.1 75.4h0M350.7 63.4h0M352.3 109.7h0M392.2 76.9h0M395.7 86.6h0M333.2 93.6h0M370.3 74.6h0M362.9 94.9h0M384.3 98.7h0M331 68.4h0M404.1 88.4h0M314.6 68.5h0M347 57.3h0M334.7 91.3h0M397.8 75.1h0M382 93.5h0M349.6 110.5h0M362.6 72.5h0M390.1 81.5h0M386.8 64.6h0M351.5 61h0M358.5 100.6h0M320.5 109.9h0M315.5 71.4h0M319.8 54.2h0M307.1 69.6h0M352.2 60.7h0M355.3 101.9h0M331.2 105.3h0M401.4 94.9h0M398.8 95h0M346.1 66.7h0M311.9 79.7h0M366.2 110.6h0M391.2 102.4h0M299.2 64.7h0M395.9 85.7h0M385.6 80.8h0M351.6 63.7h0M374.5 51.1h0M331.5 94.9h0M382.8 93h0M309.5 93.2h0M398.7 85.8h0M325.9 88.7h0M392 77h0M332.4 64.6h0M364.6 72.4h0M346.2 94.1h0M321 102.3h0M369.2 112.9h0M300.8 78.7h0M385.1 107.9h0M390.3 69.2h0M345.6 111.2h0M347 105.7h0M392.6 93.9h0M377.5 74.6h0M358 98h0M353.9 107.3h0M358.3 53.6h0M311.3 77.9h0M342.9 95h0M377.7 70h0M392 89h0M376.8 66.2h0M343.6 66h0M348.9 69.9h0M355.7 96.1h0M311.6 77.4h0M319.3 63.1h0M387.9 91.8h0M396.3 76.5h0M318.4 67.5h0M383.1 92.8h0M301.8 75.8h0M391.3 82.9h0M393.1 75.6h0M316.8 63.2h0M358.1 97.5h0M326.4 70.2h0M317.4 87.5h0M308.6 69h0M369.8 62h0M349.3 62.3h0M300.8 84.8h0M402.2 72.7h0M356.4 71.5h0M343 100.3h0M393 67.1h0M393.4 95.6h0M391 98.7h0M346.9 67.8h0M311.1 83h0M344.8 63.8h0M392.4 91.8h0M397.6 101.9h0M298.6 77.1h0M258 21.2h0M255.6 32.4h0M264.8 38.8h0M283.5 26.4h0M283.5 33h0M289.4 32.8h0M283.1 43.6h0M288.7 42.8h0M307 37.3h0M325.9 37.3h0M334 39.2h0M338.2 48.3h0M347.3 41h0M273.1 57.1h0M285 58h0M284.1 63h0M287.7 71h0M306.1 44.7h0M299.7 52h0M371.2 55.6h0M382.2 61.1h0M393.2 72.1h0M406 86.8h0M296 94.1h0M310.7 103.2h0" stroke="#a9a9a9" stroke-width="1.8" stroke-linecap="round" fill="none"/><line x1="329" y1="10.3" x2="329" y2="120.2" stroke="#777" stroke-width="0.7" stroke-dasharray="1 1"/><line x1="237.3" y1="83.1" x2="420.7" y2="83.1" stroke="#555" stroke-width="0.8" stroke-dasharray="3 2"/><path d="M368 90.8h0M371.4 90.4h0M389 86.6h0M358.7 89h0M374.6 92h0M365.8 88.4h0M349.3 95.6h0M369.4 93.6h0M382.1 88.9h0M376.2 87.5h0M389.2 91.9h0M356.1 91.7h0M354.4 95.2h0M358.7 95.3h0M354.2 87.9h0M348.2 88.4h0M373.9 90.1h0M348.5 89.4h0M370.4 88.9h0M397.2 91.1h0M358 86.9h0M374.9 88.6h0M352.5 89.2h0M370.6 99h0M358.7 93.7h0M355.8 87.4h0M363.8 91.3h0M349 90.3h0M379.3 91.4h0M352.6 92.8h0M364.3 87.4h0M397 99.2h0M373.6 88h0M368 88.4h0M356 97.9h0M395.4 88.7h0M381.5 87.4h0M348.6 87.5h0M351.4 94.2h0M361.5 89.1h0M370.9 89.7h0M360.3 89.5h0M367.1 88.8h0M365.3 90.2h0M375.6 89.9h0M372.6 96h0M364.7 87.9h0M369.9 92.5h0M379.1 97.2h0M382.1 86.6h0M365.8 96.4h0M360.7 94.1h0M366.8 93.3h0M368.7 89.5h0M380.5 96.3h0M354.5 89.9h0M355.7 97.7h0M388.4 89.4h0M376.9 96.5h0M367.3 87h0M367.3 96.8h0M359 89.7h0M351.9 93.2h0M349.1 87.5h0M374.6 92.2h0M382.2 89.3h0M367 92.6h0M375.6 91.3h0M373.2 94.3h0M369.2 98.1h0M361.9 88.1h0M358.3 87.9h0M384.5 90.1h0M380.2 86.6h0M384.2 87.7h0M384 89.5h0M380.7 88.7h0M373.4 98.5h0M377.3 89.3h0M366.1 88.5h0M379 92.5h0M349.8 92.9h0M373.4 87.3h0M394.8 90.2h0M363.3 96.1h0M375.8 89.9h0M351.6 87.2h0M365.5 95.1h0M350.8 91.7h0M376.9 87.9h0M382 89.4h0M357.9 92.1h0M383.5 92.7h0M360.8 87.9h0M357.1 90.1h0M373.8 89.4h0M348.7 90.8h0M383.9 88.2h0M363.7 87.4h0M355.2 93.6h0M378.8 90.9h0M365.2 92.3h0M349.1 89.4h0M374 86.9h0M381.1 97.9h0M363.3 91.4h0M381.7 89.7h0M365.2 88.4h0M357 90.9h0M350.5 93.4h0M360.2 89.4h0M353.2 89.4h0M361.4 96.8h0M357.9 91.4h0M362.7 101h0M360.4 87.4h0M366.4 90.6h0M399 87.3h0M370.2 87.6h0M361.5 86.8h0M361.1 89.1h0M374.6 91.1h0M364.5 95h0M353.8 87.3h0M353.2 93.9h0M368.2 87h0M359.3 89.5h0M374.8 92.2h0M366.5 93.2h0M356.8 88.3h0M367.9 88.9h0M378.5 89.4h0M359 95.7h0M352.3 91h0M353.1 91.5h0M354.7 87.6h0M381 90.5h0M358.7 90.7h0M354.9 86.7h0M359.5 100.3h0M399.5 87.5h0M352.3 95.9h0M358.9 94.9h0M369.6 93.7h0M358.9 93.3h0M372.9 89.1h0M348.6 91h0M353.1 97.7h0M378.8 87.7h0M354.3 89.5h0M390.8 93.1h0M362.5 90.6h0M365.3 92.9h0M366.6 87.5h0M384.7 94.3h0M364.8 94h0M350.9 88.7h0M386 86.9h0M364.9 89.8h0M369.8 87.9h0M384.9 88.5h0M351.8 95.4h0M350.5 91.1h0M400.2 88.7h0M349.7 89.1h0M367.6 92.9h0M360 88.3h0M358.5 92.7h0M376.5 89h0M369 88h0M352.1 90.6h0M356.2 87.9h0M360.7 89h0M393.3 92.8h0M353.6 86.7h0M358.1 92.7h0M386.9 89.3h0M369.2 89.7h0M351.7 88.8h0M354.6 88.5h0M373 94.5h0M398.4 86.9h0M372.9 87.5h0M369.2 94.9h0M396.9 90.8h0M370.4 92.4h0M360.4 93h0M371 97.3h0M364.2 89.1h0M366 87.7h0M363.5 89.1h0M372.1 100.4h0M363.8 89.2h0M359.9 88.8h0M369.7 93.1h0M372.7 86.7h0M365.5 93.2h0M361.8 90.7h0M363.7 91h0M396.2 92.7h0M358.8 86.8h0M357.2 94.6h0M356.7 91h0M369.3 93.3h0M354.9 97.4h0M350.1 94.5h0M366.1 94.1h0M366.5 92.8h0M359 91.1h0M376 90.6h0M350.6 95.9h0M372.2 98.7h0M361.6 93.1h0M357 89h0M361.5 88.3h0M363.5 91.6h0M397 99.5h0M382.6 88.8h0M355.8 92.9h0M357.8 97.6h0M358.5 87.4h0M361.4 91.3h0M365.9 88.1h0M357.6 88.6h0M359.6 87.7h0M353.7 86.8h0M362.7 96h0M350.7 89.4h0M349.7 91.2h0M353.1 94h0M385.9 87.6h0M360.1 96h0M354.5 87.5h0M359.4 96.2h0M348.8 88h0M391 92.3h0M388 87.9h0M395.7 89.7h0M380 92.8h0M366 88.7h0M363.2 92.3h0M350.9 86.6h0M348.1 88.3h0M350.6 93.3h0M358.8 91.4h0M373.8 94.6h0M359.4 90.1h0M379.9 94h0M366.4 88.1h0M384.4 90.4h0M398.8 89.1h0M373.1 89.1h0M376.6 91.6h0M356.8 87.8h0M362.2 96.8h0M356 92.3h0M367.5 89.9h0M389.4 89.1h0M360.9 93.2h0M361.9 87.6h0M383.2 91.8h0M385.4 89.1h0M374.5 89.9h0M367.2 93.5h0M370.8 88.2h0M354.2 90.7h0M354.7 88.5h0M357.7 100.2h0M375.9 95.8h0M357 94.6h0M383.9 91.3h0M351.2 91.1h0M381.1 93.9h0M353.3 89.6h0M372.6 97.4h0M376.8 88.7h0M350 90.6h0M367 91.6h0M379.9 88.1h0M388.3 90h0M393.4 91.6h0M352.4 89.4h0M387.1 87.7h0M359.1 93.9h0M348.2 86.7h0M382.6 86.6h0M356.4 96.7h0M369.8 87.6h0M356 88.2h0M358.5 87.8h0M350.4 93.9h0M387 104.6h0M367.7 91.2h0M363.9 87.5h0M363.5 90.7h0M368.3 87.4h0M370.4 94.3h0M376.7 97.1h0M358.2 89.2h0M353.9 95.8h0M362.7 86.7h0M358.7 86.7h0M373 86.9h0M373.7 86.8h0M350.2 87.3h0M379.8 86.7h0M368.8 92.5h0M361.8 90h0M376.1 90.3h0M356.7 89.5h0M349 87.1h0M360.6 97.1h0M377.1 93.6h0M348.9 91.4h0M371.8 90.3h0M357.5 94.1h0M365 95.7h0M354.5 90.4h0M358.1 95.6h0M378.8 94h0M374.2 94.5h0M352.1 87.7h0M363.4 91.9h0M373.1 95.8h0M379.5 91.9h0M390.2 93.8h0M352.6 92.4h0M351 93.5h0M352.8 89.5h0M363.4 90h0M384.6 95.4h0M375.5 95h0M380.3 96.4h0M380.3 88.8h0M370.2 92.5h0M357.6 87.5h0M355.8 92.5h0M373 90.4h0M388.9 94.6h0M386.9 90h0M384.7 89.8h0M364 87.6h0M374.4 88.6h0M390.8 89.6h0M373.6 86.8h0M350.5 92.3h0M393.2 95.2h0M369.2 96h0M381.7 87.9h0M353.2 87.8h0M371.1 89.2h0M388.4 87h0M363.4 95.4h0M394 87.5h0M352.8 90.3h0M363.2 90.5h0M392.5 87.9h0M373.2 87.4h0M358.4 87.5h0M384.1 95.2h0M387.5 94.5h0M372.7 89.6h0M373.1 88.4h0M368.1 94.7h0M364.1 89.3h0M362.7 91h0M367.4 96h0M357.2 95.6h0M352 88.1h0M381.8 86.8h0M352.4 87.4h0M392.8 91.5h0M374.5 93.6h0M386.1 95.1h0M352 91.5h0M365 95.2h0M380.7 94.3h0M360.7 86.6h0M374.5 92.1h0M387.8 89h0M385.1 96.2h0M374.2 91.4h0M369.4 89h0M359.9 92.1h0M389 91h0M365.1 86.5h0M384.1 93.9h0M388.6 86.6h0M362.9 91.5h0M366.9 90.6h0M386.1 91h0M359.2 88.4h0M383.1 93.9h0M383.3 93.8h0M351.8 88.2h0M373.8 89.1h0M351.2 95.7h0M382.5 90.7h0M358.4 94.1h0M391.7 93.5h0M363.9 96.3h0M352.1 93.5h0M354.7 95.8h0M348.6 102.1h0M354.8 98.3h0M387.5 101.8h0M395 105.5h0M370.1 98.7h0M358.6 109h0M378.8 101.7h0M382.3 108.5h0M371.5 97.3h0M350.1 98.7h0M357.5 103.3h0M387.2 107.7h0M384.5 98.1h0M380 100.6h0M393.3 109.6h0M382.5 106.5h0M363.4 108.3h0M398.6 102.5h0M399.5 103.9h0M363 103.8h0M364.9 108.9h0M352.8 99.8h0M365.4 108.1h0M353.2 108.9h0M355.9 103.7h0M392.6 102.1h0M383.4 105.8h0M374.4 101.3h0M368 105.6h0M384.8 108.1h0M403 91h0M407 88h0M402 96h0M398 99h0M396 97h0M412 93h0M404 100h0" stroke="#1f3df5" stroke-width="2.1" stroke-linecap="round" fill="none"/><line x1="347.3" y1="10.3" x2="347.3" y2="120.2" stroke="#3355ee" stroke-width="0.7" stroke-dasharray="1 1"/></g><rect x="237.3" y="10.3" width="183.4" height="109.9" fill="none" stroke="#222" stroke-width="1"/><line x1="234" y1="119.7" x2="237.3" y2="119.7" stroke="#222" stroke-width="0.9" /><text x="233.2" y="123.2" text-anchor="end">-2</text><line x1="234" y1="101.4" x2="237.3" y2="101.4" stroke="#222" stroke-width="0.9" /><text x="233.2" y="104.9" text-anchor="end">-1</text><line x1="234" y1="83.1" x2="237.3" y2="83.1" stroke="#222" stroke-width="0.9" /><text x="233.2" y="86.6" text-anchor="end">0</text><line x1="234" y1="64.8" x2="237.3" y2="64.8" stroke="#222" stroke-width="0.9" /><text x="233.2" y="68.3" text-anchor="end">1</text><line x1="234" y1="46.5" x2="237.3" y2="46.5" stroke="#222" stroke-width="0.9" /><text x="233.2" y="50" text-anchor="end">2</text><line x1="234" y1="28.2" x2="237.3" y2="28.2" stroke="#222" stroke-width="0.9" /><text x="233.2" y="31.7" text-anchor="end">3</text><line x1="234" y1="9.9" x2="237.3" y2="9.9" stroke="#222" stroke-width="0.9" /><text x="233.2" y="13.4" text-anchor="end">4</text><line x1="237.3" y1="120.2" x2="237.3" y2="123.5" stroke="#222" stroke-width="0.9" /><text x="237.3" y="130.9" text-anchor="middle">-5</text><line x1="255.6" y1="120.2" x2="255.6" y2="123.5" stroke="#222" stroke-width="0.9" /><text x="255.6" y="130.9" text-anchor="middle">-4</text><line x1="274" y1="120.2" x2="274" y2="123.5" stroke="#222" stroke-width="0.9" /><text x="274" y="130.9" text-anchor="middle">-3</text><line x1="292.3" y1="120.2" x2="292.3" y2="123.5" stroke="#222" stroke-width="0.9" /><text x="292.3" y="130.9" text-anchor="middle">-2</text><line x1="310.7" y1="120.2" x2="310.7" y2="123.5" stroke="#222" stroke-width="0.9" /><text x="310.7" y="130.9" text-anchor="middle">-1</text><line x1="329" y1="120.2" x2="329" y2="123.5" stroke="#222" stroke-width="0.9" /><text x="329" y="130.9" text-anchor="middle">0</text><line x1="347.3" y1="120.2" x2="347.3" y2="123.5" stroke="#222" stroke-width="0.9" /><text x="347.3" y="130.9" text-anchor="middle">1</text><line x1="365.7" y1="120.2" x2="365.7" y2="123.5" stroke="#222" stroke-width="0.9" /><text x="365.7" y="130.9" text-anchor="middle">2</text><line x1="384" y1="120.2" x2="384" y2="123.5" stroke="#222" stroke-width="0.9" /><text x="384" y="130.9" text-anchor="middle">3</text><line x1="402.4" y1="120.2" x2="402.4" y2="123.5" stroke="#222" stroke-width="0.9" /><text x="402.4" y="130.9" text-anchor="middle">4</text><line x1="420.7" y1="120.2" x2="420.7" y2="123.5" stroke="#222" stroke-width="0.9" /><text x="420.7" y="130.9" text-anchor="middle">5</text><rect x="360" y="13.3" width="59.5" height="21.3" fill="#fff" stroke="#222" stroke-width="1"/><circle cx="365.4" cy="20" r="1.6" fill="#1f3df5" /><text x="368.6" y="21.8" font-size="8.4" fill="#3050c8">IF_TE_Down</text><circle cx="363.4" cy="29.6" r="1.5" fill="#aaa" /><circle cx="367.3" cy="29.6" r="1.6" fill="#1f3df5" /><text x="369.9" y="31.3" font-size="8.4" fill="#3050c8">IF_TE_All</text><text x="416" y="48.3" text-anchor="end" fill="#333">6,208</text><text x="240.2" y="108.7" font-size="8" fill="#333">r = -0.3587</text><text x="240.2" y="115.6" font-size="8" fill="#333">p &lt; 2.2e-16</text><g clip-path="url(#c2)"><ellipse cx="337" cy="188" rx="42" ry="13.8" transform="rotate(8 337 188)" fill="#a9a9a9"/><path d="M362.2 181.6h0M300.4 177.7h0M378.7 190.2h0M295.9 180.5h0M376.7 187.5h0M314.8 172.7h0M300.5 191.5h0M364.3 207.1h0M359.2 178.2h0M350.8 202.2h0M295.7 182.3h0M378.1 193.1h0M343.9 202.2h0M378.3 187.5h0M354.6 177.5h0M337.6 203.5h0M333.6 167.7h0M306 175.3h0M344 173.2h0M377.3 197h0M349.4 204.3h0M295.3 184.2h0M340.3 203.5h0M309.4 163.7h0M338.7 202.8h0M345.8 175h0M375.1 198.8h0M361.8 204h0M351.2 211.4h0M355 177.5h0M359.1 204.5h0M377 187.4h0M292.2 189.5h0M369.6 180.7h0M298.6 178h0M374.6 201.1h0M375.4 186.3h0M369.9 181.3h0M362.2 181.1h0M295.2 185h0M323.9 172.7h0M360.5 201.8h0M295.9 173.6h0M311.2 175.3h0M296.7 184.1h0M311.3 168.7h0M326.5 172.8h0M376.4 197.2h0M347.3 167.7h0M387.4 190.1h0M339.4 169.6h0M306.2 194.3h0M341.5 207.5h0M327 206.5h0M322 199.8h0M331.3 173h0M360.7 175.5h0M335 171.8h0M367 202.8h0M317.2 197.7h0M326.3 168.8h0M288.3 184.8h0M294.1 183.8h0M302.5 174.7h0M375.9 201.5h0M371.1 183.3h0M372.3 203h0M326.9 200.2h0M290.4 174.1h0M322.1 199.1h0M311.6 167.4h0M360.4 208.2h0M382.4 188.2h0M320.4 174h0M295.2 175.6h0M371.7 199.8h0M305.7 196h0M304.7 192.7h0M366.3 203.1h0M381.5 191h0M344.1 161.9h0M370.9 207.5h0M379.8 187.9h0M368.6 183h0M372.5 179.7h0M290.5 180.8h0M349.9 174h0M377.1 195h0M367 200.6h0M380.2 194.9h0M302.4 177.4h0M335.9 204.7h0M306.8 173.1h0M311.7 196.3h0M345.4 171.3h0M314.9 172h0M300.8 174.8h0M345.3 202.3h0M306.5 172.1h0M374.7 198.1h0M375.6 181h0M295.1 186.2h0M378.7 205.7h0M294.1 179.6h0M331.7 171.9h0M377.5 195.3h0M366.2 178.5h0M382.8 195.7h0M368.4 201.9h0M356.1 176.8h0M297.1 187.4h0M372.8 200.7h0M311.7 199.7h0M329.6 174.1h0M354 208.2h0M371.5 185.3h0M324.5 202.2h0M322.2 168.2h0M321.4 200h0M376.5 188.5h0M351.7 201.6h0M369.3 199.4h0M326.9 205.1h0M294.8 178.4h0M365.5 201.9h0M358.4 171.2h0M301.1 196.1h0M368 204.6h0M303.3 196.1h0M382.1 201.2h0M301.3 176.1h0M299.6 178.1h0M321.9 173.5h0M382.8 194.8h0M365.6 202.2h0M292.2 187h0M374.2 204.4h0M347.4 202.2h0M320.7 203.9h0M337.8 170.9h0M297.9 190.3h0M294.7 186.7h0M293.7 183.4h0M298.8 179.4h0M295.4 187.8h0M381.1 191.4h0M294.5 182.3h0M325.7 168.4h0M370.8 199.8h0M325.9 199.5h0M309.8 197.1h0M301.4 196.7h0M292 185.6h0M354.3 205.6h0M329 173.8h0M370.8 178.9h0M352.1 207h0M355.9 178.3h0M368.2 182.4h0M301.2 171.8h0M374.1 199.3h0M298.8 187.3h0M354 202h0M301 174.7h0M299.8 178.1h0M317.2 199.8h0M360.6 206.9h0M310.6 168.2h0M359.4 206.1h0M340.3 201.5h0M305.5 193.4h0M346.8 203.8h0M312.6 195.7h0M363.3 208.4h0M365.8 180.6h0M351.1 176.3h0M373.4 198.8h0M285.3 190.4h0M343.9 203.2h0M295.4 180.8h0M376.7 187.1h0M370.3 185.1h0M308.5 198.4h0M295.6 194.2h0M308.9 195.1h0M377.1 191.2h0M364.4 203.4h0M336.4 205h0M302.4 190.8h0M372.4 182.1h0M318.2 171.6h0M295.8 174.6h0M304.6 174.1h0M293.6 170.5h0M383.2 205.2h0M333.4 201h0M304.1 199.6h0M299.4 176h0M323.3 172h0M377.7 186.6h0M377.7 192.8h0M341.8 203.3h0M354.8 169.4h0M373.4 201.5h0M364.7 202.5h0M354.5 174.9h0M293.3 177.2h0M379.3 195.4h0M290.2 184.5h0M376.1 189.3h0M325.5 174.4h0M371.2 179.2h0M293.6 181.4h0M342.9 203.9h0M363 206.2h0M329.5 171.4h0M305.2 202.4h0M324.9 163.5h0M378.8 188.8h0M382.4 184.5h0M381.8 186.5h0M290.4 176.7h0M346.7 170.5h0M377 189.5h0M318.1 173.2h0M328.6 172.7h0M291.4 179.6h0M294.2 185.8h0M374.4 176.9h0M381.8 195.2h0M348.6 207.9h0M357.5 202.9h0M298.5 175.3h0M369.8 204.6h0M311.5 199h0M293.1 184.3h0M360.9 179h0M309.1 163.2h0M370 201.2h0M381.5 190.7h0M362.2 180.5h0M342.8 174.6h0M311 174h0M298.5 179.7h0M319.6 202h0M373.8 186h0M336.5 202.9h0M316.5 200.4h0M372.5 183.6h0M304.6 175.6h0M362.4 202.3h0M297.2 177.7h0M378.8 181.6h0M288.4 187.6h0M352.2 175h0M306.2 171.9h0M304.2 176.5h0M373.9 198.6h0M371.2 177.3h0M349.9 205.6h0M370.3 180.7h0M350.5 169.9h0M296.8 191.3h0M348.1 204.2h0M335.8 170.8h0M304.6 191.4h0M296.2 178.6h0M360.6 177.4h0M376.5 189.2h0M295.9 191.3h0M330.9 205.3h0M368.1 179.9h0M346.7 175.5h0M315.6 196.3h0M298.7 188.4h0M328 203.8h0M347.4 203.9h0M340.6 204.5h0M292.9 183.8h0M363.4 209.1h0M379.8 198.1h0M344.6 201.8h0M290.5 182.5h0M296.7 181.9h0M313.9 172h0M292 184.3h0M316.3 174.4h0M308.2 198.9h0M375.3 186.4h0M316.7 168.1h0M362.1 178.5h0M321.2 198.2h0M350.8 206.1h0M358.8 202.6h0M336.3 206.5h0M375.8 203.5h0M296.6 189.8h0M363.3 179.9h0M323.5 173.4h0M371 202.3h0M369.5 199.3h0M375.5 197.6h0M299.8 196.9h0M295.7 191.7h0M300.8 188.9h0M376.1 183.5h0M311.4 174.4h0M375.5 188.4h0M372.4 179h0M354.3 175.3h0M375.5 196.4h0M375.6 187.9h0M288.7 181h0M378 189.1h0M326.4 202.5h0M292.6 184.5h0M323.3 161.4h0M332.7 204.1h0M291.1 181h0M321.2 203.6h0M361.3 178.6h0M331.3 200.2h0M322.5 166.3h0M301.3 192h0M371.8 203.5h0M336.4 173.6h0M301.5 177.6h0M356.9 204.7h0M320.4 174.6h0M325.2 173.1h0M357.3 202.8h0M383.2 195.8h0M315.3 168h0M335.4 170.5h0M323.7 168.9h0M314.8 198.7h0M296.2 183.5h0M334.6 174.9h0M343.5 209.4h0M351.4 204.5h0M355.1 207h0M364.5 204.2h0M332.2 202.6h0M303.2 175.8h0M375.8 186.4h0M294.2 176.5h0M324.2 200h0M296.8 187.9h0M373.9 202.1h0M296 179.4h0M371.1 199.4h0M369.5 179.3h0M307.2 200.9h0M376.2 187.7h0M336.9 204.5h0M296.3 176.3h0M303.3 176h0M296.8 195.1h0M292 187.5h0M313.7 195.8h0M337.4 171.6h0M356.5 205h0M344.9 203.6h0M290.2 192.1h0M326.4 204h0M333.5 201.3h0M344.1 202.6h0M381.9 199.3h0M317.7 172.9h0M323.8 169.9h0M295.8 177.4h0M317.8 174.1h0M321.8 165.3h0M371 184.5h0M370.4 202h0M295.7 181.5h0M365.5 208.4h0M339.1 174.1h0M291 178.2h0M377 195.1h0M366.2 182.1h0M382.3 189.5h0M372.6 203.5h0M378.6 196.9h0M375.3 178.5h0M368.4 182.2h0M298.2 200h0M316 199.3h0M375.9 188.5h0M329.1 173.9h0M366.9 177.7h0M361.3 210.8h0M302.3 191.2h0M320.1 168.8h0M378.2 191.5h0M340.2 170.3h0M344.8 202.4h0M382.6 193.9h0M376.4 183.1h0M296.1 183.5h0M327.7 205h0M295.3 173.1h0M371.5 181.6h0M292.6 174.1h0M376.8 196.8h0M315.2 172.6h0M351.5 201.9h0M314.7 173.9h0M369.6 201.5h0M296.7 171.1h0M359.1 180h0M302.4 193.7h0M292.6 180.4h0M347.4 175.2h0M325 166.8h0M374.8 187.9h0M373.4 181.7h0M371.8 202.3h0M325.1 167.9h0M368.1 178h0M362.1 179.8h0M367.6 200.1h0M299.8 176.9h0M380.1 192.4h0M296.7 183.4h0M371.9 184.6h0M382.6 187.1h0M344.9 172.7h0M296 182.6h0M372.8 199.6h0M384.7 188.6h0M383 192.8h0M317.3 206.2h0M381.9 186.6h0M345.9 172.7h0M306.3 193.9h0M357.8 178.1h0M331.4 211.2h0M332.2 201.1h0M291 179h0M333.6 203.1h0M364.5 181.2h0M297.4 178.9h0M299.7 177.9h0M315.9 169.7h0M367.2 201.1h0M355 173.1h0M297 185.6h0M339.9 208.8h0M361 174.6h0M365.3 204.6h0M311.1 171.4h0M371.3 199.7h0M298.6 189.5h0M341.7 166h0M301.9 174.5h0M332.3 200.2h0M339.8 211.4h0M377.7 192.5h0M305.1 193.5h0M341.7 202.1h0M361.4 203.7h0M347.6 207.3h0M311 194.5h0M294.3 189.5h0M374.5 183.7h0M379.9 185.9h0M324.9 164.8h0M331.3 201.3h0M368.9 183.4h0M338.1 202h0M311 173h0M387 194.3h0M376.7 190.2h0M365.1 175.6h0M292.1 175.1h0M370.6 201.1h0M370.8 185h0M304 171.9h0M358.5 212.5h0M371.8 182.8h0M379.4 195.3h0M296.3 182.7h0M378.1 195.2h0M323.8 198.1h0M364 182.2h0M356 176.8h0M329.4 174.8h0M305.8 175.3h0M360.1 207h0M363.4 179.2h0M357.6 204.9h0M371 201.5h0M373.5 198.4h0M307.2 170.9h0M336.9 209.2h0M368.2 201.5h0M309.8 172.1h0M337.4 211.2h0M365.5 202h0M360.1 202.4h0M369.8 208.7h0M317.4 173.6h0M340.6 171.4h0M358.5 176.2h0M308.3 168.9h0M299.1 173.2h0M293.9 182.7h0M356.2 203h0M378.6 199.2h0M375.6 205.9h0M366.5 205.1h0M331 171.8h0M291.1 186.6h0M356.8 178.8h0M377.4 193.2h0M373.6 201.5h0M380.8 191.9h0M377.4 204.1h0M306.1 193.7h0M288.9 179.8h0M347.8 201.8h0M378.5 185.7h0M318.4 198.3h0M385.2 195.1h0M374.2 187.6h0M296.4 184h0M308.9 195h0M345.9 212.8h0M358 178.4h0M374.3 200.2h0M374.5 200.7h0M374.5 199.2h0M325.1 204.9h0M319.6 170.4h0M382.3 199.3h0M294.8 186.9h0M376.9 197.1h0M307.4 174.6h0M292.9 186.8h0M306.7 172.4h0M322.9 200.2h0M290.9 181.7h0M312.2 170.8h0M373.6 185.3h0M380.7 188.5h0M304 173.5h0M361 210.1h0M293.9 193.1h0M303.4 172h0M295.4 186.9h0M361.1 203.8h0M340 166.6h0M332.2 205.7h0M308.8 171.2h0M326.2 169.8h0M338.3 174.7h0M283.5 176h0M360.1 174.1h0M367.8 183.8h0M365.6 201.7h0M288.9 174.3h0M372.4 182.4h0M365.8 181.9h0M362.9 181.1h0M296.7 187h0M307.6 175.6h0M330.8 174.2h0M377.5 190.2h0M328.9 205h0M318 174.4h0M365.4 206.6h0M374.6 180.3h0M319.9 173.8h0M318.8 200.8h0M358.8 203.1h0M328.4 205.3h0M378.1 206.9h0M349.2 202.7h0M291.2 171.4h0M324.4 173.7h0M306.6 195.8h0M348.3 204.8h0M314.9 198.4h0M307 194.8h0M291.9 178.3h0M377.5 191.8h0M365.3 182.9h0M293 189.8h0M322 168.9h0M315.1 200.8h0M313.2 197.6h0M344.6 175.5h0M311.9 196.4h0M331.1 199.6h0M329.2 201.9h0M317.7 201.7h0M321 167.3h0M376.4 183.8h0M303 176.5h0M340.6 202.3h0M372.5 178.8h0M366.9 182.9h0M356.5 209h0M376.5 199.2h0M364.6 203.2h0M339.1 174.2h0M309.3 173.9h0M344.8 201.6h0M365.6 180.1h0M354.8 209h0M345.2 211.1h0M361.8 176.4h0M309.4 196.5h0M372 175h0M335.5 173.4h0M301.2 171.7h0M348 175.9h0M300.2 188h0M297.3 180.4h0M298.3 179.9h0M376 188.7h0M373.1 207.4h0M316.8 197.8h0M378.4 200.1h0M363.9 182.1h0M364.1 174.7h0M354.4 206.4h0M371.2 203.5h0M296.3 184.1h0M306.6 175.7h0M379 185.9h0M377.9 199.9h0M319.5 166h0M320.6 202.2h0M372.1 185.3h0M286.7 188.5h0M346 169.6h0M296.6 182.4h0M359.7 203.6h0M319.5 173.6h0M296.5 182.8h0M310.8 195.7h0M297.4 194.9h0M361.1 206h0M313.1 173.3h0M310.9 197.4h0M304.4 192.8h0M324.6 206.5h0M300.9 193.2h0M316.4 173.2h0M334.6 201.1h0M323 206.2h0M377.6 198.8h0M297.7 186.3h0M303.8 176.7h0M343.9 175.4h0M317.9 168.9h0M376.7 185.4h0M297 191.7h0M328.7 201.1h0M300.5 171.1h0M322 203.8h0M373.4 187.2h0M332.4 166.7h0M378.9 192.4h0M338.7 203.6h0M343.5 202.7h0M310.8 169.9h0M295.9 187.8h0M334.7 207.6h0M340 204.8h0M320.1 199h0M305.3 198.1h0M297.5 180.2h0M301.4 170.7h0M378.8 191.6h0M292.3 181.2h0M332.4 201.2h0M377.4 194.2h0M291.9 189.5h0M341.1 174.4h0M311.5 171.8h0M371.4 199h0M309.6 174.6h0M328 200.3h0M376.6 185.6h0M334.5 175h0M339.1 175.6h0M320 171.5h0M380.8 202.6h0M356 171.6h0M370.5 205.5h0M377.2 194.2h0M382.1 199.4h0M329.2 202.9h0M378.9 189.1h0M301.2 193.3h0M310.6 195.7h0M316.1 199.1h0M378.2 204.9h0M295.3 182.9h0M379.9 192.2h0M350.5 174.8h0M381.3 190.9h0M367.3 207.6h0M325.6 199.3h0M294.3 178.1h0M381.4 196.9h0M376.4 204.3h0M297.1 186.9h0M302.2 195.4h0M373.3 201.4h0M306.3 172.2h0M348.8 173h0M341.2 202.4h0M348.8 170.6h0M378.5 188.7h0M356.2 178.6h0M368.1 199.9h0M350.2 204.7h0M345 170.4h0M340.5 175.9h0M372.6 204.4h0M325.1 199.2h0M320.8 199.9h0M369.1 184.7h0M378.9 187.8h0M341.4 202.7h0M312.4 197.1h0M364.2 202.6h0M376.6 195.8h0M379 189.7h0M309.6 174h0M353.2 209.4h0M297 179.7h0M312.9 197.2h0M379.7 190.1h0M323.2 174.2h0M296.5 183.8h0M292 181.6h0M375.6 196.2h0M369.2 201.9h0M305.5 195.1h0M370.4 202.3h0M321 168.1h0M318.1 170.8h0M351.9 204.6h0M302.2 190.9h0M341.6 173.7h0M378.6 196.1h0M355.2 204.7h0M376 196.1h0M296.4 186.4h0M368.2 184h0M328.1 201.6h0M345.2 175.7h0M295.7 183.2h0M291.4 173.5h0M354.8 176.7h0M354.9 176.8h0M338.6 200.8h0M300 178.5h0M314.2 172.1h0M355.5 208.3h0M295 189.3h0M382.8 196.6h0M293.4 191.3h0M350.9 176.1h0M359.4 203.3h0M337.2 169.8h0M364.4 202.5h0M297.9 190.6h0M339.1 168.9h0M309.3 196.4h0M294.8 175.3h0M290.6 171.4h0M358.7 178.9h0M298.7 169h0M355 206.5h0M343.5 205.7h0M330.6 201.4h0M356.8 171.7h0M324.7 170.4h0M372 178h0M323 174.1h0M294.1 181.4h0M295.8 182.6h0M378.1 190.8h0M296.4 181.6h0M293.6 174.8h0M349.4 174.8h0M364.3 206h0M322 202.1h0M349.9 176.9h0M353.5 208.2h0M350.3 206.6h0M345 201.5h0M379.9 185.2h0M377.6 192.8h0M363.5 202.4h0M303.6 192.9h0M316.2 198.5h0M320.5 200.1h0M329.2 202.3h0M307.7 171.3h0M328.7 172.1h0M367.7 204.1h0M382 194.4h0M354.1 203.3h0M300.5 174.9h0M330.6 170.9h0M369.3 177.7h0M294.1 184.6h0M379.7 199.3h0M294.9 172.3h0M364.5 178.3h0M291.6 186.4h0M378.8 193.3h0M368.4 179.3h0M333.7 200.8h0M371.7 186.2h0M364.1 209.5h0M335.7 165.9h0M350 205.1h0M372.9 201.2h0M344.8 201.4h0M305 174.9h0M377.8 190.2h0M342.2 201.7h0M343.6 172.5h0M303.6 197.4h0M367.5 206.3h0M357.5 177.2h0M314.7 196.1h0M375.2 201.7h0M296.6 182.9h0M308.3 173.5h0M342.9 176h0M356.5 179.2h0M303.9 199.2h0M375.5 186.4h0M339.9 174.9h0M316.4 198.9h0M374.8 212.2h0M313.3 169.2h0M338 201.2h0M300.2 175.4h0M350.9 175.1h0M349.8 205.4h0M296.6 190.8h0M307.8 193.1h0M297.5 177.7h0M299.8 189.7h0M318.2 198h0M314.3 173.9h0M293.1 183.7h0M349.7 177.7h0M362.3 202.7h0M379 189.1h0M369.8 204.8h0M356.5 202.4h0M352.7 178.5h0M336.9 175.4h0M363.1 179h0M325.3 171.6h0M310.1 195.6h0M305.4 174.9h0M327.6 200.7h0M311 168.7h0M315.5 169.6h0M297.2 191.7h0M292.5 176.7h0M294 186h0M374.1 187.3h0M303.8 172.4h0M302.2 191.1h0M333.3 208.6h0M360.5 177.6h0M382.8 197.7h0M305.8 193.8h0M329.2 200.4h0M309.3 197.6h0M313.7 166.2h0M349.5 173.6h0M340.4 170.1h0M364.5 208h0M350.2 204.2h0M318 201.4h0M342.8 172.1h0M383 192.2h0M380.6 202.6h0M354.1 177.2h0M348.1 169.9h0M302.6 172.4h0M378.7 191.7h0M308.5 172.2h0M320.5 169.6h0M303 174.8h0M375.1 199.6h0M294.1 185.4h0M328.9 200.7h0M348.3 206.4h0M338.8 202.8h0M378.5 196.1h0M293.9 179.1h0M360.5 179.4h0M325.7 173.3h0M309.8 194.2h0M294.2 185h0M379 192.6h0M303.8 196.7h0M363.2 175.9h0M302.5 192.6h0M369.3 200h0M299.8 172.9h0M316 196.5h0M340.2 203.1h0M310 171.5h0M355.9 178.7h0M322.8 169.8h0M377.2 190h0M366.4 200.5h0M372.9 201h0M383.7 188.6h0M311.2 172.9h0M295.8 185.5h0M336.8 174h0M305.4 169.6h0M292.9 178.3h0M293.2 185.3h0M376.8 205.2h0M336.9 204.4h0M294.3 185h0M381.5 182.8h0M293.7 174h0M311.1 171.6h0M378.5 197.1h0M372.2 198.3h0M365.4 205h0M377.5 185.8h0M299.6 190.7h0M359.9 175.3h0M383.7 193.2h0M377.8 190.3h0M379.3 193.7h0M374.8 187.7h0M362.2 201.6h0M299.2 189.2h0M317.7 174.4h0M317.9 198.8h0M359.3 205.6h0M325.4 201.8h0M370.2 199.1h0M373 199.7h0M297.1 184.3h0M377.2 194.9h0M326 200.8h0M380 185.5h0M301 175.5h0M293.8 175.8h0M365.5 179.8h0M353 204h0M301.2 192.6h0M379.1 193.5h0M378.2 201.3h0M290.2 181.5h0M309.8 172.1h0M303.8 193.6h0M319.3 174.5h0M375.5 197.2h0M355.9 178h0M301.3 198h0M297.2 180.5h0M321.6 201.1h0M294.8 187.1h0M377.3 199.2h0M372.6 198.5h0M299.7 193.2h0M360.2 178h0M379.6 190.9h0M379.7 196.8h0M293.3 182.4h0M309.5 175.1h0M306.2 197.4h0M338.9 203h0M356.1 175.9h0M296.8 185.5h0M296.5 173.8h0M330.6 202.1h0M373 180.9h0M359.9 202.9h0M368 201.3h0M306.9 193.1h0M384.8 194.2h0M297 177.6h0M371.5 201h0M333.5 204.4h0M381 183.7h0M368.4 204.5h0M328.8 204.1h0M308.8 194.5h0M295.9 177.7h0M317.4 201.3h0M291.4 187.3h0M295.7 196.1h0M348.8 206.6h0M378.2 197.4h0M345.2 204.4h0M326.8 200.7h0M306.8 174.6h0M373.7 184.7h0M345.9 204.1h0M379.7 197.9h0M344.5 175.8h0M367.1 200.5h0M308.2 193.4h0M299.9 178.3h0M354.7 209.1h0M322.5 198.3h0M330.7 203.1h0M296 189.9h0M334.2 200.6h0M336.3 171.9h0M302.1 176.2h0M339.1 174.9h0M383.9 192.7h0M375.2 200h0M363.2 203h0M335.4 203.5h0M312 198.5h0M374.4 198.9h0M290.1 182.5h0M344.4 209.9h0M327.3 171.7h0M335.6 201.6h0M311.9 195.4h0M342.2 208h0M358.9 206.7h0M356.5 206.8h0M363.8 176.8h0M338.9 175.1h0M376.7 186.8h0M306.8 176.1h0M354.1 203.1h0M314.5 195.7h0M378.7 201.1h0M338.8 173.7h0M377.3 197.2h0M327.7 201.8h0M296 180.3h0M329.1 172.4h0M307.4 197.9h0M326.1 199.9h0M370.8 182.8h0M297.5 193h0M371.5 185.2h0M360.7 205.7h0M339 205.2h0M302.3 207.7h0M301.2 191.2h0M367.9 200.5h0M303.6 176.4h0M296.2 178.3h0M296.8 183.7h0M294.1 189.3h0M357.6 202.2h0M376.2 211.3h0M371.7 201.7h0M302.6 172.8h0M328.3 205.3h0M363.4 207.4h0M376.3 185.9h0M366.1 181.5h0M375.2 183.7h0M381 189.4h0M351.1 171.6h0M374.6 180.1h0M364.8 181.9h0M292.3 182.4h0M292.3 184.7h0M356 203.2h0M292.6 179.4h0M293 174.7h0M375.8 201.1h0M338.3 173h0M377.6 202.7h0M294.8 184h0M329.7 174.9h0M379.2 202.3h0M374.9 202.3h0M354 176.8h0M298.3 187.2h0M378.9 191.7h0M362.9 177h0M298 194.4h0M302 176.7h0M378.2 194.9h0M296.5 180.3h0M385.2 191.8h0M377.1 204.6h0M372.7 185.7h0M387.2 188.4h0M312.3 165.8h0M278.3 193.2h0M337.3 224.1h0M288.5 190.7h0M283.4 160.3h0M368.2 207.7h0M307.1 170.1h0M342.8 173.2h0M377.8 193.8h0M382.1 188.3h0M388.8 184.5h0M369.7 181.7h0M400.6 197.1h0M325.8 174.7h0M382 191.6h0M373.2 174.4h0M371.7 209.2h0M307.2 174.2h0M299.1 194.7h0M327.8 173h0M307.1 170.8h0M356.2 207.1h0M309.7 168.9h0M361.2 170h0M295.7 189.2h0M370.2 199.2h0M300.2 170.6h0M384.3 179.9h0M342.8 215.3h0M316.6 199.7h0M375.9 207.1h0M365.5 202h0M301 190.7h0M383.1 174h0M381.4 181.2h0M358.3 171.8h0M304.9 167.3h0M382.9 168.1h0M370.5 204.4h0M299.8 187.9h0M308 169.8h0M299.8 189.6h0M313.7 202.6h0M356.6 159.8h0M361.6 180.6h0M360.9 176h0M292 170.7h0M303.6 191.2h0M336.8 166.9h0M312.3 172.9h0M306.6 172.1h0M377.4 191h0M379.4 195.1h0M335.3 202.9h0M346.7 208.4h0M377.2 191.3h0M330.3 156.4h0M307.4 198.9h0M284.6 181.4h0M377.6 192.8h0M379.3 184.3h0M346.1 201.5h0M374 185.7h0M327.7 169.4h0M375.6 155.8h0M294.6 190.2h0M311.9 206.6h0M304.9 160.4h0M357.4 216.3h0M347.8 173.8h0M310.2 171.8h0M305.9 158.7h0M377.6 203.7h0M356.7 167.6h0M323 163.7h0M288.9 187.8h0M382.5 189.7h0M361.3 156.1h0M293 191.8h0M344.3 207.4h0M313.5 168.5h0M376.5 199.4h0M314.1 213.4h0M327.7 171.3h0M357.4 210.6h0M289.7 202.1h0M305.1 166.5h0M373.3 177h0M352.3 160.5h0M337.1 163.3h0M282.1 194.4h0M305.7 157.2h0M353.2 208.5h0M354.2 213h0M283.7 186h0M315.4 226.3h0M321 165.7h0M328.8 174.5h0M308.5 166.7h0M373.6 185.8h0M295.8 171.9h0M377.4 195.2h0M344.9 212.8h0M374.8 183.9h0M329.8 170h0M344.6 165.6h0M343.9 233h0M276.8 188.1h0M348.6 176.5h0M381 180.1h0M381.7 188.5h0M316.8 164.5h0M318.2 203.8h0M325.9 200.4h0M361.8 170.4h0M322.4 156.9h0M349.5 163.4h0M379.1 195.2h0M340.1 202.6h0M293.3 171.6h0M374.4 186.9h0M387 185.8h0M378 182.1h0M289.8 188.7h0M380.8 202.4h0M371.3 184.9h0M360.2 178.7h0M380 192.7h0M312.7 200.5h0M357.4 172.3h0M315.5 210.8h0M332.7 201h0M310 198.8h0M313.1 171.6h0M286.6 172.6h0M291.2 198.6h0M304 175.7h0M383.6 206.3h0M299.6 173.1h0M339.8 201.9h0M338.8 166.4h0M297.8 178.2h0M376.4 178.9h0M383.7 174.2h0M362.6 208.9h0M359.9 180.4h0M376.6 180.3h0M258.9 165.9h0M267.3 182.3h0M281.3 182.3h0M286.9 187.8h0M275.7 163.1h0M288.3 153.5h0M265.9 219.3h0M274.3 213.8h0M282.7 211.1h0M291.1 227.5h0M293.9 223.4h0M302.3 148.1h0M328.9 146.7h0M393.3 187.8h0M400.3 200.1h0M382.1 179.6h0M268.7 191.9h0M279.9 196h0" stroke="#a9a9a9" stroke-width="1.8" stroke-linecap="round" fill="none"/><line x1="321.9" y1="137.1" x2="321.9" y2="246.8" stroke="#666" stroke-width="0.7" stroke-dasharray="1 1"/><line x1="237.9" y1="191.9" x2="420.4" y2="191.9" stroke="#bbb" stroke-width="0.8" stroke-dasharray="1.2 1"/><path d="M349.9 204.1h0M339.7 201.7h0M361.2 198.9h0M337.8 198.6h0M360.1 198.9h0M336.4 208.2h0M346.4 198.8h0M344.2 202.6h0M349 207.9h0M372.6 199.2h0M356.8 199.3h0M348.7 198h0M357.5 199.9h0M336.8 204.8h0M353.7 203.3h0M374.1 213.5h0M361.4 205.3h0M345.1 203.4h0M356.1 200.5h0M337.1 199.8h0M347.4 202.5h0M359.4 206.9h0M340.6 198.7h0M338.4 209.3h0M343 197.5h0M339.9 203.1h0M359.3 200.2h0M369.3 201.2h0M336.5 210.1h0M350.9 211.1h0M364 205.4h0M341.3 213.1h0M351.4 204.3h0M381.4 201.9h0M341.3 205.7h0M358.1 199.6h0M345.1 210.3h0M354.4 200.3h0M364.8 207h0M366.4 204.1h0M343.1 201.2h0M338.5 201.7h0M381.1 198.9h0M361.9 198.9h0M362.2 203.3h0M345.2 197.5h0M350.1 198.9h0M339.1 198.1h0M337.9 202.2h0M381.6 203h0M356.1 199.9h0M372 201.8h0M350.4 200.6h0M353.3 202.1h0M338.2 198.4h0M344.3 198.3h0M364.3 203.4h0M361.6 200.3h0M341.1 199.8h0M362.2 202h0M349.4 202.8h0M369.3 210.5h0M345.8 205h0M360.9 204h0M351.6 200h0M360.8 202.2h0M348.5 199.3h0M341.9 198.4h0M369.2 205.9h0M359.4 206h0M343.7 201.6h0M346 202.3h0M345.7 202.3h0M375.2 204.2h0M350.2 202.6h0M349.3 203.1h0M342.2 208.8h0M337.1 198.2h0M372.7 200.6h0M342.9 200.5h0M352.4 198.3h0M345.8 198.3h0M358.6 202.7h0M343.6 198.4h0M359.5 209.9h0M345.3 200.1h0M339.1 201.1h0M349.3 200.5h0M338.5 204.8h0M345.3 208.8h0M348.4 202.2h0M345.9 206.2h0M339.8 201.5h0M365.8 201h0M351.8 203.5h0M336.5 206.6h0M350.2 199.8h0M354.8 199.9h0M352 200.6h0M337.7 215.6h0M338.2 203h0M345.9 202.6h0M339.1 198.2h0M362.2 201.9h0M352.7 220.9h0M351.1 203.3h0M359.2 202.2h0M341.8 207.7h0M346.7 201.6h0M342.6 206.4h0M338.5 197.8h0M351.3 201.2h0M358.9 205h0M348 204.1h0M365.5 206.2h0M341.4 201.5h0M368.9 206.1h0M340.3 198h0M345.1 199.5h0M356.7 200h0M340.5 197.7h0M354.3 206.8h0M351.3 204.1h0M350.8 199.7h0M339.3 209.5h0M367.3 202.6h0M346.4 197.8h0M364.6 199h0M368.4 203.6h0M348.6 207.4h0M344.4 205.3h0M352.5 213.1h0M363.2 202.4h0M343.8 210h0M355.1 197.8h0M351.7 206.1h0M362.4 203.1h0M348.1 198h0M353.3 199.1h0M372.5 220.5h0M342.4 212.1h0M353.2 201.6h0M359.6 215.7h0M359.6 207.8h0M350.5 202.4h0M347.2 201.5h0M350.4 201.4h0M342.4 204.4h0M364 201h0M355.3 204.4h0M346.8 198.1h0M338.2 205.6h0M336.3 199.5h0M358.1 206.8h0M338.3 197.6h0M372.3 210.3h0M339.7 201.5h0M357.8 198.3h0M342.1 201.4h0M336.3 202.6h0M351.2 198.3h0M344 199h0M354.5 203.6h0M347.6 203.3h0M342.3 201h0M346.5 207.6h0M366.5 200.1h0M355.6 200.9h0M360.4 202.1h0M355.4 199.9h0M365.3 203.4h0M347 197.7h0M351.4 197.6h0M347 206.1h0M364.1 206.8h0M346.2 200.7h0M380.5 202.8h0M341.1 198.6h0M337.7 205.7h0M365.4 201.7h0M346.6 199.8h0M353.9 199.4h0M342.4 202.4h0M368.2 202.9h0M348.1 199.1h0M359.5 210.2h0M359.8 203.9h0M375.3 221.6h0M354 212.6h0M349.1 197.7h0M358.6 197.7h0M342.7 203.3h0M353.8 201.8h0M375.2 208.2h0M347.5 206h0M336.1 200.7h0M352.6 201.9h0M344.1 201.7h0M372.6 198.9h0M336.1 200.5h0M341.3 205.4h0M353.4 202.7h0M363.8 203.2h0M340.7 214.9h0M349 203.9h0M342.2 205.8h0M359.6 198.7h0M367.4 198.6h0M350.7 203.5h0M343.1 201.7h0M338 201.9h0M371.4 200.1h0M346.6 206h0M361.9 199.2h0M355.2 211.7h0M351 208h0M373.2 209.9h0M341.8 202.6h0M347.5 198.9h0M361.2 211.3h0M338.7 212.2h0M380.6 202.4h0M381.1 202.7h0M348.3 203.5h0M363 199h0M350.7 203h0M340.8 200.7h0M375.6 204.5h0M337.2 206.5h0M346.5 208.3h0M362.2 202.2h0M364.1 204.5h0M359.8 199.4h0M365.8 198.5h0M341.4 198.9h0M344.5 205.9h0M357.2 204.5h0M347.1 206.8h0M366.5 202.9h0M374.5 200.5h0M362.7 200.4h0M356.5 206.9h0M339.6 198.9h0M341.1 206.7h0M379 198.1h0M338 209h0M340.2 203.7h0M369.4 198.4h0M348.5 198.1h0M340.6 200.8h0M360.9 210.7h0M345.1 205.3h0M362.9 200.5h0M338.5 202h0M345.1 200.4h0M357.8 203.7h0M339.8 203.9h0M375 202.9h0M372.7 199.6h0M361.1 209.9h0M370.7 201.6h0M365.5 200h0M358.1 199.1h0M339.4 210.1h0M357.9 203.3h0M366.3 199.3h0M355 210.6h0M336.8 202.2h0M340.5 202.8h0M363.1 210.1h0M370.7 199.9h0M366.6 207.3h0M341.1 208.5h0M350.7 211h0M336.8 204.2h0M375 198.2h0M352.6 202.2h0M352.2 207.8h0M365 205h0M372.3 201.4h0M336.8 203.3h0M373.1 208.2h0M359.6 204.7h0M344.8 202.7h0M360 202.1h0M348.3 210.6h0M347 204.3h0M348.7 205.1h0M363.1 208.6h0M367.8 207.1h0M369 206.2h0M342.9 204.2h0M364.5 208.7h0M362.3 207.9h0M360.6 202.8h0M371.3 210.7h0M341.7 200.7h0M375.2 198.8h0M362.6 199.2h0M367.2 210.9h0M354.5 208.1h0M367.8 200.9h0M348.8 201.4h0M361.9 202.9h0M360.2 202.4h0M372.9 210h0M340.8 209.2h0M364.2 199.9h0M370.5 200.9h0M337.1 206.7h0M372.8 200.8h0M369.2 209.2h0M373.1 206h0M362.6 199.8h0M370.1 206.6h0M364.8 206.2h0M346.1 209.2h0M355.9 206.3h0M339.6 209.7h0M339.4 202.5h0M374.6 199.3h0M355.2 206.1h0M370.9 198.8h0M361.1 208.3h0M357.2 210.9h0M343.5 204.1h0M362.2 210.4h0M375.5 210h0M365.8 208.7h0M400.9 211.6h0M384 200h0M389 206h0M360 231h0M356 228h0M363 226h0M346 230h0M358 233h0M352 222h0M366 220h0M344 225h0M372 218h0M348 218h0" stroke="#1f3df5" stroke-width="2.1" stroke-linecap="round" fill="none"/><line x1="335.9" y1="137.1" x2="335.9" y2="246.8" stroke="#3355ee" stroke-width="0.7" stroke-dasharray="1 1"/></g><rect x="237.9" y="137.1" width="182.5" height="109.7" fill="none" stroke="#222" stroke-width="1"/><line x1="234.5" y1="246.7" x2="237.9" y2="246.7" stroke="#222" stroke-width="0.9" /><text x="233.2" y="250.2" text-anchor="end">-4</text><line x1="234.5" y1="233" x2="237.9" y2="233" stroke="#222" stroke-width="0.9" /><text x="233.2" y="236.5" text-anchor="end">-3</text><line x1="234.5" y1="219.3" x2="237.9" y2="219.3" stroke="#222" stroke-width="0.9" /><text x="233.2" y="222.8" text-anchor="end">-2</text><line x1="234.5" y1="205.6" x2="237.9" y2="205.6" stroke="#222" stroke-width="0.9" /><text x="233.2" y="209.1" text-anchor="end">-1</text><line x1="234.5" y1="191.9" x2="237.9" y2="191.9" stroke="#222" stroke-width="0.9" /><text x="233.2" y="195.4" text-anchor="end">0</text><line x1="234.5" y1="178.2" x2="237.9" y2="178.2" stroke="#222" stroke-width="0.9" /><text x="233.2" y="181.7" text-anchor="end">1</text><line x1="234.5" y1="164.5" x2="237.9" y2="164.5" stroke="#222" stroke-width="0.9" /><text x="233.2" y="168" text-anchor="end">2</text><line x1="234.5" y1="150.8" x2="237.9" y2="150.8" stroke="#222" stroke-width="0.9" /><text x="233.2" y="154.3" text-anchor="end">3</text><line x1="234.5" y1="137.1" x2="237.9" y2="137.1" stroke="#222" stroke-width="0.9" /><text x="233.2" y="140.6" text-anchor="end">4</text><line x1="237.9" y1="246.8" x2="237.9" y2="250" stroke="#222" stroke-width="0.9" /><text x="237.9" y="259.6" text-anchor="middle">-6</text><line x1="251.9" y1="246.8" x2="251.9" y2="250" stroke="#222" stroke-width="0.9" /><text x="251.9" y="259.6" text-anchor="middle">-5</text><line x1="265.9" y1="246.8" x2="265.9" y2="250" stroke="#222" stroke-width="0.9" /><text x="265.9" y="259.6" text-anchor="middle">-4</text><line x1="279.9" y1="246.8" x2="279.9" y2="250" stroke="#222" stroke-width="0.9" /><text x="279.9" y="259.6" text-anchor="middle">-3</text><line x1="293.9" y1="246.8" x2="293.9" y2="250" stroke="#222" stroke-width="0.9" /><text x="293.9" y="259.6" text-anchor="middle">-2</text><line x1="307.9" y1="246.8" x2="307.9" y2="250" stroke="#222" stroke-width="0.9" /><text x="307.9" y="259.6" text-anchor="middle">-1</text><line x1="321.9" y1="246.8" x2="321.9" y2="250" stroke="#222" stroke-width="0.9" /><text x="321.9" y="259.6" text-anchor="middle">0</text><line x1="335.9" y1="246.8" x2="335.9" y2="250" stroke="#222" stroke-width="0.9" /><text x="335.9" y="259.6" text-anchor="middle">1</text><line x1="349.9" y1="246.8" x2="349.9" y2="250" stroke="#222" stroke-width="0.9" /><text x="349.9" y="259.6" text-anchor="middle">2</text><line x1="363.9" y1="246.8" x2="363.9" y2="250" stroke="#222" stroke-width="0.9" /><text x="363.9" y="259.6" text-anchor="middle">3</text><line x1="377.9" y1="246.8" x2="377.9" y2="250" stroke="#222" stroke-width="0.9" /><text x="377.9" y="259.6" text-anchor="middle">4</text><line x1="391.9" y1="246.8" x2="391.9" y2="250" stroke="#222" stroke-width="0.9" /><text x="391.9" y="259.6" text-anchor="middle">5</text><line x1="405.9" y1="246.8" x2="405.9" y2="250" stroke="#222" stroke-width="0.9" /><text x="405.9" y="259.6" text-anchor="middle">6</text><line x1="419.9" y1="246.8" x2="419.9" y2="250" stroke="#222" stroke-width="0.9" /><text x="419.9" y="259.6" text-anchor="middle">7</text><rect x="360" y="139.2" width="59.5" height="22.2" fill="#fff" stroke="#222" stroke-width="1"/><circle cx="366.8" cy="146.5" r="1.6" fill="#1f3df5" /><text x="369.6" y="148.6" font-size="8.4" fill="#3050c8">S_TE_Down</text><circle cx="364.5" cy="155.5" r="1.5" fill="#aaa" /><circle cx="367.5" cy="155.5" r="1.6" fill="#1f3df5" /><text x="369.6" y="157.7" font-size="8.4" fill="#3050c8">S_TE_All</text><text x="416" y="174.7" text-anchor="end" fill="#333">9,466</text><text x="240.2" y="235" font-size="8" fill="#333">r = -0.2725</text><text x="240.2" y="242.9" font-size="8" fill="#333">p &lt; 2.2e-16</text><text x="238.8" y="270" font-size="10.5" font-weight="bold">Log2 fold change of rPS (<tspan font-style="italic">hot3-2</tspan>/WT)</text><text x="216.3" y="133.5" font-size="10.5" font-weight="bold" text-anchor="middle" transform="rotate(-90 216.3 133.5)" dy="3.7">Log2 fold change of TE (<tspan font-style="italic">hot3-2</tspan>/WT)</text><text x="431.5" y="66.2" font-size="10.4" text-anchor="middle" transform="rotate(-90 431.5 66.2)">Inflorescence</text><text x="431.5" y="190.4" font-size="10.6" text-anchor="middle" transform="rotate(-90 431.5 190.4)">Seedling</text></g><g id="pd"><text x="442" y="11.5" font-size="14" font-weight="bold">d</text><line x1="455.6" y1="12.4" x2="455.6" y2="392.6" stroke="#666" stroke-width="1" /><line x1="672" y1="17.7" x2="672" y2="392" stroke="#666" stroke-width="1" /><text x="452.3" y="210.5" font-size="10.9" text-anchor="middle" font-weight="bold" transform="rotate(-90 452.3 210.5)">Information, bits</text><text x="675.3" y="213" font-size="10.8" text-anchor="middle" font-weight="bold" transform="rotate(90 675.3 213)">Frequency</text><line x1="478.3" y1="12.1" x2="478.3" y2="55.1" stroke="#555" stroke-width="0.8" /><line x1="475.5" y1="12.1" x2="478.3" y2="12.1" stroke="#555" stroke-width="0.8" /><line x1="475.5" y1="33.6" x2="478.3" y2="33.6" stroke="#555" stroke-width="0.8" /><line x1="475.5" y1="55.1" x2="478.3" y2="55.1" stroke="#555" stroke-width="0.8" /><text x="475.5" y="17.1" font-size="11" text-anchor="end">2.0</text><text x="475.5" y="37.4" font-size="11" text-anchor="end">1.0</text><text x="475.5" y="55.7" font-size="11" text-anchor="end">0.0</text><rect x="479.2" y="53.9" width="7.4" height="0.6" fill="#e0262b" /><rect x="479.2" y="53.1" width="7.4" height="0.8" fill="#21b721" /><rect x="488" y="53.7" width="7.8" height="0.8" fill="#1b6db3" /><rect x="488" y="52.5" width="7.8" height="1.2" fill="#f7901e" /><text transform="matrix(0.1284 0 0 0.0945 487.28 52.50)" font-size="100" font-weight="bold" fill="#21b721">A</text><rect x="497" y="53.7" width="7.8" height="0.8" fill="#1b6db3" /><rect x="497.2" y="52.9" width="7.4" height="0.8" fill="#e0262b" /><text transform="matrix(0.1335 0 0 0.0255 495.85 52.88)" font-size="100" font-weight="bold" fill="#f7901e">G</text><text transform="matrix(0.1284 0 0 0.2616 496.28 51.10)" font-size="100" font-weight="bold" fill="#21b721">A</text><rect x="506.1" y="53.7" width="7.4" height="0.8" fill="#e0262b" /><rect x="505.9" y="52.7" width="7.8" height="1" fill="#1b6db3" /><rect x="505.9" y="51.9" width="7.8" height="0.8" fill="#f7901e" /><text transform="matrix(0.1284 0 0 0.0363 505.18 51.90)" font-size="100" font-weight="bold" fill="#21b721">A</text><rect x="514.8" y="53.9" width="7.8" height="0.6" fill="#1b6db3" /><rect x="514.8" y="53.3" width="7.8" height="0.6" fill="#f7901e" /><text transform="matrix(0.1284 0 0 0.0262 514.08 53.30)" font-size="100" font-weight="bold" fill="#21b721">A</text><rect x="551.6" y="53.9" width="7.4" height="0.6" fill="#e0262b" /><rect x="551.4" y="53.1" width="7.8" height="0.8" fill="#1b6db3" /><rect x="551.6" y="51.9" width="7.4" height="1.2" fill="#21b721" /><text transform="matrix(0.1335 0 0 0.3182 550.25 51.61)" font-size="100" font-weight="bold" fill="#f7901e">G</text><rect x="560.6" y="53.9" width="7.4" height="0.6" fill="#e0262b" /><rect x="560.4" y="53.3" width="7.8" height="0.6" fill="#f7901e" /><rect x="560.6" y="51.8" width="7.4" height="1.5" fill="#21b721" /><text transform="matrix(0.1378 0 0 0.1132 559.23 51.70)" font-size="100" font-weight="bold" fill="#1b6db3">C</text><rect x="569.6" y="53.9" width="7.4" height="0.6" fill="#21b721" /><rect x="569.4" y="53.3" width="7.8" height="0.6" fill="#1b6db3" /><rect x="569.4" y="52.3" width="7.8" height="1" fill="#f7901e" /><rect x="569.6" y="51.3" width="7.4" height="1" fill="#e0262b" /><line x1="478.3" y1="55.1" x2="578.5" y2="55.1" stroke="#888" stroke-width="1.2" /><text x="482.3" y="19.2" font-size="7.9" fill="#333">-3A, 81.3%</text><text x="506.8" y="31.1" font-size="7.9" fill="#333">+4G, 88.0%</text><text x="506.8" y="39.3" font-size="7.9" fill="#333">+5C, 68.2%</text><text x="564.9" y="20.7" font-size="9.3" font-weight="bold" fill="#222">IF_TE_Down</text><text transform="matrix(0.1375 0 0 0.6250 626.38 55.10)" font-size="100" font-weight="bold" fill="#1b6db3">M</text><text transform="matrix(0.1375 0 0 0.6250 626.98 55.10)" font-size="100" font-weight="bold" fill="#1b6db3">M</text><text transform="matrix(0.1328 0 0 0.4188 636.97 40.91)" font-size="100" font-weight="bold" fill="#1b6db3">A</text><text transform="matrix(0.1328 0 0 0.4188 637.47 40.91)" font-size="100" font-weight="bold" fill="#1b6db3">A</text><rect x="638" y="53.5" width="8.3" height="1.1" fill="#ee4a4a" /><rect x="638" y="51.8" width="8.3" height="1.4" fill="#a066b8" /><text transform="matrix(0.1412 0 0 0.0356 637.84 51.69)" font-size="100" font-weight="bold" fill="#5a9ad0">T</text><text transform="matrix(0.1239 0 0 0.0301 637.69 49.04)" font-size="100" font-weight="bold" fill="#3d86c6">A</text><rect x="638" y="45.5" width="8.3" height="1.1" fill="#f6b45a" /><rect x="638" y="43.5" width="8.3" height="1.7" fill="#4cc25e" /><rect x="638" y="41.4" width="8.3" height="1.8" fill="#f07a5a" /><line x1="627" y1="55.1" x2="647" y2="55.1" stroke="#888" stroke-width="1" /><line x1="650.6" y1="12.1" x2="650.6" y2="55.1" stroke="#555" stroke-width="0.8" /><line x1="650.6" y1="12.1" x2="653" y2="12.1" stroke="#555" stroke-width="0.8" /><line x1="650.6" y1="33.6" x2="653" y2="33.6" stroke="#555" stroke-width="0.8" /><line x1="650.6" y1="55.1" x2="653" y2="55.1" stroke="#555" stroke-width="0.8" /><text x="653.2" y="18.9" font-size="11">1.0</text><text x="653.2" y="37.4" font-size="11">0.5</text><text x="653.2" y="56.7" font-size="11">0.0</text><line x1="478.3" y1="61.3" x2="478.3" y2="104.3" stroke="#555" stroke-width="0.8" /><line x1="475.5" y1="61.3" x2="478.3" y2="61.3" stroke="#555" stroke-width="0.8" /><line x1="475.5" y1="82.8" x2="478.3" y2="82.8" stroke="#555" stroke-width="0.8" /><line x1="475.5" y1="104.3" x2="478.3" y2="104.3" stroke="#555" stroke-width="0.8" /><text x="475.5" y="66.3" font-size="11" text-anchor="end">2.0</text><text x="475.5" y="86.6" font-size="11" text-anchor="end">1.0</text><text x="475.5" y="104.9" font-size="11" text-anchor="end">0.0</text><rect x="479.2" y="102.9" width="7.4" height="0.8" fill="#21b721" /><rect x="488" y="103.2" width="7.8" height="0.5" fill="#1b6db3" /><text transform="matrix(0.1284 0 0 0.0262 487.28 103.17)" font-size="100" font-weight="bold" fill="#21b721">A</text><rect x="497.2" y="103.2" width="7.4" height="0.5" fill="#e0262b" /><rect x="497" y="102.7" width="7.8" height="0.5" fill="#1b6db3" /><rect x="497" y="102" width="7.8" height="0.7" fill="#f7901e" /><text transform="matrix(0.1284 0 0 0.0407 496.28 101.97)" font-size="100" font-weight="bold" fill="#21b721">A</text><rect x="505.9" y="103.2" width="7.8" height="0.5" fill="#f7901e" /><rect x="505.9" y="102.4" width="7.8" height="0.8" fill="#1b6db3" /><text transform="matrix(0.1284 0 0 0.0320 505.18 102.37)" font-size="100" font-weight="bold" fill="#21b721">A</text><rect x="515" y="102.5" width="7.4" height="1.2" fill="#21b721" /><rect x="551.4" y="103.1" width="7.8" height="0.6" fill="#1b6db3" /><rect x="551.6" y="101.6" width="7.4" height="1.5" fill="#21b721" /><text transform="matrix(0.1335 0 0 0.0566 550.25 101.52)" font-size="100" font-weight="bold" fill="#f7901e">G</text><rect x="560.6" y="103.1" width="7.4" height="0.6" fill="#21b721" /><rect x="560.4" y="102.5" width="7.8" height="0.6" fill="#f7901e" /><rect x="560.4" y="101.7" width="7.8" height="0.8" fill="#1b6db3" /><rect x="569.4" y="103.1" width="7.8" height="0.6" fill="#f7901e" /><rect x="569.6" y="102.3" width="7.4" height="0.8" fill="#e0262b" /><line x1="478.3" y1="104.3" x2="578.5" y2="104.3" stroke="#888" stroke-width="1.2" /><text x="482.3" y="71.8" font-size="7.9" fill="#333">-3A, 51.4%</text><text x="506.8" y="85.4" font-size="7.9" fill="#333">+4G, 58.8%</text><text x="506.8" y="94.2" font-size="7.9" fill="#333">+5C, 42.7%</text><text x="571" y="74.5" font-size="9.3" font-weight="bold" fill="#222">IF_TE_All</text><text transform="matrix(0.1375 0 0 0.6250 626.38 104.27)" font-size="100" font-weight="bold" fill="#1b6db3">M</text><text transform="matrix(0.1375 0 0 0.6250 626.98 104.27)" font-size="100" font-weight="bold" fill="#1b6db3">M</text><text transform="matrix(0.1328 0 0 0.1875 636.97 74.17)" font-size="100" font-weight="bold" fill="#1b6db3">A</text><text transform="matrix(0.1328 0 0 0.1875 637.47 74.17)" font-size="100" font-weight="bold" fill="#1b6db3">A</text><rect x="638" y="102.7" width="8.3" height="1.1" fill="#4cc25e" /><text transform="matrix(0.1412 0 0 0.0310 637.84 102.54)" font-size="100" font-weight="bold" fill="#f07a5a">T</text><rect x="638" y="99" width="8.3" height="1.1" fill="#7ac87a" /><rect x="638" y="97.2" width="8.3" height="1.5" fill="#f3cc3a" /><rect x="638" y="95.2" width="8.3" height="1.7" fill="#d68a48" /><rect x="638" y="93.4" width="8.3" height="1.6" fill="#f8a440" /><rect x="638" y="91.3" width="8.3" height="1.8" fill="#60c070" /><text transform="matrix(0.1412 0 0 0.0311 637.84 91.11)" font-size="100" font-weight="bold" fill="#ee4a4a">T</text><text transform="matrix(0.1412 0 0 0.0361 637.84 88.77)" font-size="100" font-weight="bold" fill="#a066b8">T</text><rect x="638" y="84.6" width="8.3" height="1.3" fill="#5a9ad0" /><rect x="638" y="82.4" width="8.3" height="1.9" fill="#3d86c6" /><text transform="matrix(0.1412 0 0 0.0301 637.84 82.27)" font-size="100" font-weight="bold" fill="#f6b45a">T</text><rect x="638" y="78.5" width="8.3" height="1.3" fill="#4cc25e" /><rect x="638" y="77.3" width="8.3" height="0.9" fill="#f07a5a" /><text transform="matrix(0.1412 0 0 0.0365 637.84 77.18)" font-size="100" font-weight="bold" fill="#7ac87a">T</text><line x1="627" y1="104.3" x2="647" y2="104.3" stroke="#888" stroke-width="1" /><line x1="650.6" y1="61.3" x2="650.6" y2="104.3" stroke="#555" stroke-width="0.8" /><line x1="650.6" y1="61.3" x2="653" y2="61.3" stroke="#555" stroke-width="0.8" /><line x1="650.6" y1="82.8" x2="653" y2="82.8" stroke="#555" stroke-width="0.8" /><line x1="650.6" y1="104.3" x2="653" y2="104.3" stroke="#555" stroke-width="0.8" /><text x="653.2" y="68.1" font-size="11">1.0</text><text x="653.2" y="86.6" font-size="11">0.5</text><text x="653.2" y="105.9" font-size="11">0.0</text><line x1="478.3" y1="110.4" x2="478.3" y2="153.4" stroke="#555" stroke-width="0.8" /><line x1="475.5" y1="110.4" x2="478.3" y2="110.4" stroke="#555" stroke-width="0.8" /><line x1="475.5" y1="131.9" x2="478.3" y2="131.9" stroke="#555" stroke-width="0.8" /><line x1="475.5" y1="153.4" x2="478.3" y2="153.4" stroke="#555" stroke-width="0.8" /><text x="475.5" y="115.4" font-size="11" text-anchor="end">2.0</text><text x="475.5" y="135.7" font-size="11" text-anchor="end">1.0</text><text x="475.5" y="154" font-size="11" text-anchor="end">0.0</text><rect x="479.2" y="152" width="7.4" height="0.8" fill="#21b721" /><rect x="488" y="152.2" width="7.8" height="0.6" fill="#1b6db3" /><rect x="488.2" y="151.4" width="7.4" height="0.8" fill="#e0262b" /><text transform="matrix(0.1284 0 0 0.0872 487.28 151.44)" font-size="100" font-weight="bold" fill="#21b721">A</text><rect x="497" y="152" width="7.8" height="0.8" fill="#1b6db3" /><rect x="497" y="150.5" width="7.8" height="1.5" fill="#f7901e" /><text transform="matrix(0.1284 0 0 0.1163 496.28 150.54)" font-size="100" font-weight="bold" fill="#21b721">A</text><rect x="505.9" y="152.2" width="7.8" height="0.6" fill="#f7901e" /><rect x="505.9" y="151.2" width="7.8" height="1" fill="#1b6db3" /><text transform="matrix(0.1284 0 0 0.0291 505.18 151.24)" font-size="100" font-weight="bold" fill="#21b721">A</text><rect x="515" y="151.3" width="7.4" height="1.5" fill="#21b721" /><rect x="551.4" y="152.2" width="7.8" height="0.6" fill="#1b6db3" /><text transform="matrix(0.1284 0 0 0.0291 550.68 152.24)" font-size="100" font-weight="bold" fill="#21b721">A</text><text transform="matrix(0.1335 0 0 0.1273 550.25 150.13)" font-size="100" font-weight="bold" fill="#f7901e">G</text><rect x="560.4" y="152.3" width="7.8" height="0.5" fill="#f7901e" /><text transform="matrix(0.1284 0 0 0.0291 559.68 152.34)" font-size="100" font-weight="bold" fill="#21b721">A</text><text transform="matrix(0.1378 0 0 0.0424 559.23 150.30)" font-size="100" font-weight="bold" fill="#1b6db3">C</text><rect x="569.6" y="152.2" width="7.4" height="0.6" fill="#21b721" /><rect x="569.4" y="151.6" width="7.8" height="0.6" fill="#f7901e" /><line x1="478.3" y1="153.4" x2="578.5" y2="153.4" stroke="#888" stroke-width="1.2" /><text x="482.3" y="118.5" font-size="7.9" fill="#333">-3A, 67.3%</text><text x="506.8" y="133.7" font-size="7.9" fill="#333">+4G, 73.0%</text><text x="506.8" y="142.9" font-size="7.9" fill="#333">+5C, 50.9%</text><text x="565.4" y="124.9" font-size="9.3" font-weight="bold" fill="#222">S_TE_Down</text><text transform="matrix(0.1375 0 0 0.6250 626.38 153.44)" font-size="100" font-weight="bold" fill="#1b6db3">M</text><text transform="matrix(0.1375 0 0 0.6250 626.98 153.44)" font-size="100" font-weight="bold" fill="#1b6db3">M</text><text transform="matrix(0.1328 0 0 0.2625 636.97 128.50)" font-size="100" font-weight="bold" fill="#1b6db3">A</text><text transform="matrix(0.1328 0 0 0.2625 637.47 128.50)" font-size="100" font-weight="bold" fill="#1b6db3">A</text><rect x="638" y="151.7" width="8.3" height="1.3" fill="#f8a440" /><rect x="638" y="150.1" width="8.3" height="1.3" fill="#60c070" /><text transform="matrix(0.1412 0 0 0.0332 637.84 149.94)" font-size="100" font-weight="bold" fill="#ee4a4a">T</text><rect x="638" y="145.6" width="8.3" height="1.7" fill="#a066b8" /><rect x="638" y="143.7" width="8.3" height="1.5" fill="#5a9ad0" /><text transform="matrix(0.1412 0 0 0.0306 637.84 143.59)" font-size="100" font-weight="bold" fill="#3d86c6">T</text><rect x="638" y="140.3" width="8.3" height="0.9" fill="#f6b45a" /><text transform="matrix(0.1412 0 0 0.0291 637.84 140.11)" font-size="100" font-weight="bold" fill="#4cc25e">T</text><rect x="638" y="136.3" width="8.3" height="1.4" fill="#f07a5a" /><rect x="638" y="135.1" width="8.3" height="1" fill="#7ac87a" /><rect x="638" y="132.9" width="8.3" height="1.8" fill="#f3cc3a" /><text transform="matrix(0.1412 0 0 0.0341 637.84 132.79)" font-size="100" font-weight="bold" fill="#d68a48">T</text><rect x="638" y="129" width="8.3" height="1.1" fill="#f8a440" /><line x1="627" y1="153.4" x2="647" y2="153.4" stroke="#888" stroke-width="1" /><line x1="650.6" y1="110.4" x2="650.6" y2="153.4" stroke="#555" stroke-width="0.8" /><line x1="650.6" y1="110.4" x2="653" y2="110.4" stroke="#555" stroke-width="0.8" /><line x1="650.6" y1="131.9" x2="653" y2="131.9" stroke="#555" stroke-width="0.8" /><line x1="650.6" y1="153.4" x2="653" y2="153.4" stroke="#555" stroke-width="0.8" /><text x="653.2" y="117.2" font-size="11">1.0</text><text x="653.2" y="135.7" font-size="11">0.5</text><text x="653.2" y="155" font-size="11">0.0</text><line x1="478.3" y1="159.6" x2="478.3" y2="202.6" stroke="#555" stroke-width="0.8" /><line x1="475.5" y1="159.6" x2="478.3" y2="159.6" stroke="#555" stroke-width="0.8" /><line x1="475.5" y1="181.1" x2="478.3" y2="181.1" stroke="#555" stroke-width="0.8" /><line x1="475.5" y1="202.6" x2="478.3" y2="202.6" stroke="#555" stroke-width="0.8" /><text x="475.5" y="164.6" font-size="11" text-anchor="end">2.0</text><text x="475.5" y="184.9" font-size="11" text-anchor="end">1.0</text><text x="475.5" y="203.2" font-size="11" text-anchor="end">0.0</text><rect x="488.2" y="200.8" width="7.4" height="1.2" fill="#21b721" /><rect x="497" y="201.5" width="7.8" height="0.5" fill="#1b6db3" /><rect x="497" y="200.9" width="7.8" height="0.6" fill="#f7901e" /><text transform="matrix(0.1284 0 0 0.0363 496.28 200.91)" font-size="100" font-weight="bold" fill="#21b721">A</text><rect x="505.9" y="201.2" width="7.8" height="0.8" fill="#1b6db3" /><text transform="matrix(0.1284 0 0 0.0291 505.18 201.21)" font-size="100" font-weight="bold" fill="#21b721">A</text><rect x="515" y="201" width="7.4" height="1" fill="#21b721" /><rect x="551.4" y="201.5" width="7.8" height="0.5" fill="#1b6db3" /><rect x="551.6" y="200" width="7.4" height="1.5" fill="#21b721" /><text transform="matrix(0.1335 0 0 0.0495 550.25 199.97)" font-size="100" font-weight="bold" fill="#f7901e">G</text><rect x="560.6" y="201.4" width="7.4" height="0.6" fill="#21b721" /><rect x="560.4" y="200.8" width="7.8" height="0.6" fill="#1b6db3" /><rect x="569.4" y="201.2" width="7.8" height="0.8" fill="#f7901e" /><line x1="478.3" y1="202.6" x2="578.5" y2="202.6" stroke="#888" stroke-width="1.2" /><text x="482.3" y="168.5" font-size="7.9" fill="#333">-3A, 49.0%</text><text x="506.8" y="182.1" font-size="7.9" fill="#333">+4G, 57.8%</text><text x="506.8" y="190.1" font-size="7.9" fill="#333">+5C, 40.8%</text><text x="573" y="174.5" font-size="9.3" font-weight="bold" fill="#222">S_TE_All</text><text transform="matrix(0.1375 0 0 0.6250 626.38 202.61)" font-size="100" font-weight="bold" fill="#1b6db3">M</text><text transform="matrix(0.1375 0 0 0.6250 626.98 202.61)" font-size="100" font-weight="bold" fill="#1b6db3">M</text><text transform="matrix(0.1328 0 0 0.1750 636.97 171.65)" font-size="100" font-weight="bold" fill="#1b6db3">A</text><text transform="matrix(0.1328 0 0 0.1750 637.47 171.65)" font-size="100" font-weight="bold" fill="#1b6db3">A</text><rect x="638" y="200.5" width="8.3" height="1.6" fill="#3d86c6" /><rect x="638" y="199" width="8.3" height="1.2" fill="#f6b45a" /><rect x="638" y="196.9" width="8.3" height="1.8" fill="#4cc25e" /><rect x="638" y="194.8" width="8.3" height="1.8" fill="#f07a5a" /><rect x="638" y="193.5" width="8.3" height="1.1" fill="#7ac87a" /><text transform="matrix(0.1412 0 0 0.0295 637.84 193.32)" font-size="100" font-weight="bold" fill="#f3cc3a">T</text><rect x="638" y="189.3" width="8.3" height="1.7" fill="#d68a48" /><rect x="638" y="187.2" width="8.3" height="1.7" fill="#f8a440" /><text transform="matrix(0.1412 0 0 0.0293 637.84 187.08)" font-size="100" font-weight="bold" fill="#60c070">T</text><rect x="638" y="183.3" width="8.3" height="1.4" fill="#ee4a4a" /><rect x="638" y="181.2" width="8.3" height="1.8" fill="#a066b8" /><text transform="matrix(0.1412 0 0 0.0305 637.84 181.07)" font-size="100" font-weight="bold" fill="#5a9ad0">T</text><rect x="638" y="177.7" width="8.3" height="0.9" fill="#3d86c6" /><text transform="matrix(0.1412 0 0 0.0299 637.84 177.56)" font-size="100" font-weight="bold" fill="#f6b45a">T</text><rect x="638" y="173.8" width="8.3" height="1.3" fill="#4cc25e" /><rect x="638" y="172.1" width="8.3" height="1.4" fill="#f07a5a" /><line x1="627" y1="202.6" x2="647" y2="202.6" stroke="#888" stroke-width="1" /><line x1="650.6" y1="159.6" x2="650.6" y2="202.6" stroke="#555" stroke-width="0.8" /><line x1="650.6" y1="159.6" x2="653" y2="159.6" stroke="#555" stroke-width="0.8" /><line x1="650.6" y1="181.1" x2="653" y2="181.1" stroke="#555" stroke-width="0.8" /><line x1="650.6" y1="202.6" x2="653" y2="202.6" stroke="#555" stroke-width="0.8" /><text x="653.2" y="166.4" font-size="11">1.0</text><text x="653.2" y="184.9" font-size="11">0.5</text><text x="653.2" y="204.2" font-size="11">0.0</text><line x1="478.3" y1="208.8" x2="478.3" y2="251.8" stroke="#555" stroke-width="0.8" /><line x1="475.5" y1="208.8" x2="478.3" y2="208.8" stroke="#555" stroke-width="0.8" /><line x1="475.5" y1="230.3" x2="478.3" y2="230.3" stroke="#555" stroke-width="0.8" /><line x1="475.5" y1="251.8" x2="478.3" y2="251.8" stroke="#555" stroke-width="0.8" /><text x="475.5" y="213.8" font-size="11" text-anchor="end">2.0</text><text x="475.5" y="234.1" font-size="11" text-anchor="end">1.0</text><text x="475.5" y="252.4" font-size="11" text-anchor="end">0.0</text><rect x="479.2" y="250.4" width="7.4" height="0.8" fill="#21b721" /><rect x="488.2" y="250.4" width="7.4" height="0.8" fill="#e0262b" /><rect x="488" y="249.6" width="7.8" height="0.8" fill="#1b6db3" /><rect x="488" y="248.6" width="7.8" height="1" fill="#f7901e" /><text transform="matrix(0.1284 0 0 0.0581 487.28 248.58)" font-size="100" font-weight="bold" fill="#21b721">A</text><rect x="497" y="250.2" width="7.8" height="1" fill="#1b6db3" /><rect x="497.2" y="249.4" width="7.4" height="0.8" fill="#e0262b" /><text transform="matrix(0.1335 0 0 0.0283 495.85 249.35)" font-size="100" font-weight="bold" fill="#f7901e">G</text><text transform="matrix(0.1284 0 0 0.3052 496.28 247.38)" font-size="100" font-weight="bold" fill="#21b721">A</text><rect x="506.1" y="250.4" width="7.4" height="0.8" fill="#e0262b" /><rect x="505.9" y="249.4" width="7.8" height="1" fill="#1b6db3" /><rect x="505.9" y="248.4" width="7.8" height="1" fill="#f7901e" /><text transform="matrix(0.1284 0 0 0.0363 505.18 248.38)" font-size="100" font-weight="bold" fill="#21b721">A</text><rect x="515" y="249.7" width="7.4" height="1.5" fill="#21b721" /><rect x="551.4" y="250.6" width="7.8" height="0.6" fill="#1b6db3" /><text transform="matrix(0.1284 0 0 0.0291 550.68 250.58)" font-size="100" font-weight="bold" fill="#21b721">A</text><text transform="matrix(0.1335 0 0 0.3678 550.25 248.25)" font-size="100" font-weight="bold" fill="#f7901e">G</text><rect x="560.6" y="250.7" width="7.4" height="0.5" fill="#e0262b" /><rect x="560.4" y="250.2" width="7.8" height="0.5" fill="#f7901e" /><text transform="matrix(0.1284 0 0 0.0581 559.68 250.18)" font-size="100" font-weight="bold" fill="#21b721">A</text><text transform="matrix(0.1378 0 0 0.1697 559.23 246.03)" font-size="100" font-weight="bold" fill="#1b6db3">C</text><rect x="569.6" y="250.6" width="7.4" height="0.6" fill="#21b721" /><rect x="569.4" y="250" width="7.8" height="0.6" fill="#1b6db3" /><rect x="569.4" y="248.8" width="7.8" height="1.2" fill="#f7901e" /><rect x="569.6" y="247.3" width="7.4" height="1.5" fill="#e0262b" /><line x1="478.3" y1="251.8" x2="578.5" y2="251.8" stroke="#888" stroke-width="1.2" /><text x="482.3" y="216.9" font-size="7.9" fill="#333">-3A, 87.7%</text><text x="506.8" y="229.7" font-size="7.9" fill="#333">+4G, 93.8%</text><text x="506.8" y="237.7" font-size="7.9" fill="#333">+5C, 72.8%</text><text x="558.6" y="220.2" font-size="9.3" font-weight="bold" fill="#222">IF&amp;S_TE_Down</text><text transform="matrix(0.1375 0 0 0.6250 626.38 251.78)" font-size="100" font-weight="bold" fill="#1b6db3">M</text><text transform="matrix(0.1375 0 0 0.6250 626.98 251.78)" font-size="100" font-weight="bold" fill="#1b6db3">M</text><text transform="matrix(0.1328 0 0 0.3750 636.97 234.58)" font-size="100" font-weight="bold" fill="#1b6db3">A</text><text transform="matrix(0.1328 0 0 0.3750 637.47 234.58)" font-size="100" font-weight="bold" fill="#1b6db3">A</text><rect x="638" y="250.3" width="8.3" height="1.1" fill="#f3cc3a" /><text transform="matrix(0.1412 0 0 0.0294 637.84 250.10)" font-size="100" font-weight="bold" fill="#d68a48">T</text><rect x="638" y="246.4" width="8.3" height="1.3" fill="#f8a440" /><text transform="matrix(0.1239 0 0 0.0333 637.69 246.28)" font-size="100" font-weight="bold" fill="#60c070">A</text><rect x="638" y="242.4" width="8.3" height="1.3" fill="#ee4a4a" /><rect x="638" y="240.3" width="8.3" height="1.7" fill="#a066b8" /><rect x="638" y="238.6" width="8.3" height="1.5" fill="#5a9ad0" /><rect x="638" y="236.5" width="8.3" height="1.8" fill="#3d86c6" /><rect x="638" y="235" width="8.3" height="1.2" fill="#f6b45a" /><line x1="627" y1="251.8" x2="647" y2="251.8" stroke="#888" stroke-width="1" /><line x1="650.6" y1="208.8" x2="650.6" y2="251.8" stroke="#555" stroke-width="0.8" /><line x1="650.6" y1="208.8" x2="653" y2="208.8" stroke="#555" stroke-width="0.8" /><line x1="650.6" y1="230.3" x2="653" y2="230.3" stroke="#555" stroke-width="0.8" /><line x1="650.6" y1="251.8" x2="653" y2="251.8" stroke="#555" stroke-width="0.8" /><text x="653.2" y="215.6" font-size="11">1.0</text><text x="653.2" y="234.1" font-size="11">0.5</text><text x="653.2" y="253.4" font-size="11">0.0</text><line x1="478.3" y1="258" x2="478.3" y2="301" stroke="#555" stroke-width="0.8" /><line x1="475.5" y1="258" x2="478.3" y2="258" stroke="#555" stroke-width="0.8" /><line x1="475.5" y1="279.5" x2="478.3" y2="279.5" stroke="#555" stroke-width="0.8" /><line x1="475.5" y1="301" x2="478.3" y2="301" stroke="#555" stroke-width="0.8" /><text x="475.5" y="263" font-size="11" text-anchor="end">2.0</text><text x="475.5" y="283.3" font-size="11" text-anchor="end">1.0</text><text x="475.5" y="301.6" font-size="11" text-anchor="end">0.0</text><rect x="479.2" y="299.8" width="7.4" height="0.6" fill="#21b721" /><rect x="488.2" y="299.2" width="7.4" height="1.2" fill="#21b721" /><rect x="497.2" y="298.9" width="7.4" height="1.5" fill="#21b721" /><rect x="505.9" y="298.9" width="7.8" height="1.5" fill="#1b6db3" /><rect x="506.1" y="297.4" width="7.4" height="1.5" fill="#21b721" /><rect x="514.8" y="299.8" width="7.8" height="0.6" fill="#1b6db3" /><text transform="matrix(0.1284 0 0 0.0363 514.08 299.75)" font-size="100" font-weight="bold" fill="#21b721">A</text><rect x="551.4" y="299.8" width="7.8" height="0.6" fill="#1b6db3" /><rect x="551.6" y="298.6" width="7.4" height="1.2" fill="#21b721" /><text transform="matrix(0.1335 0 0 0.0707 550.25 298.49)" font-size="100" font-weight="bold" fill="#f7901e">G</text><rect x="560.4" y="299.8" width="7.8" height="0.6" fill="#f7901e" /><rect x="560.6" y="298.8" width="7.4" height="1" fill="#21b721" /><text transform="matrix(0.1378 0 0 0.0566 559.23 298.70)" font-size="100" font-weight="bold" fill="#1b6db3">C</text><rect x="569.4" y="299.6" width="7.8" height="0.8" fill="#f7901e" /><line x1="478.3" y1="301" x2="578.5" y2="301" stroke="#888" stroke-width="1.2" /><text x="482.3" y="266.1" font-size="7.9" fill="#333">-3A, 46.4%</text><text x="506.8" y="279.7" font-size="7.9" fill="#333">+4G, 65.4%</text><text x="506.8" y="288.2" font-size="7.9" fill="#333">+5C, 60.2%</text><text x="569.2" y="271.9" font-size="9.3" font-weight="bold" fill="#222">All_Plastid</text><text transform="matrix(0.1375 0 0 0.6250 626.38 300.95)" font-size="100" font-weight="bold" fill="#1b6db3">M</text><text transform="matrix(0.1375 0 0 0.6250 626.98 300.95)" font-size="100" font-weight="bold" fill="#1b6db3">M</text><text transform="matrix(0.1328 0 0 0.2813 636.97 277.30)" font-size="100" font-weight="bold" fill="#1b6db3">A</text><text transform="matrix(0.1328 0 0 0.2813 637.47 277.30)" font-size="100" font-weight="bold" fill="#1b6db3">A</text><rect x="638" y="299.5" width="8.3" height="1" fill="#a066b8" /><rect x="638" y="297.4" width="8.3" height="1.8" fill="#5a9ad0" /><rect x="638" y="295.3" width="8.3" height="1.8" fill="#3d86c6" /><rect x="638" y="293.5" width="8.3" height="1.5" fill="#f6b45a" /><text transform="matrix(0.1412 0 0 0.0309 637.84 293.35)" font-size="100" font-weight="bold" fill="#4cc25e">T</text><rect x="638" y="289.8" width="8.3" height="1" fill="#f07a5a" /><text transform="matrix(0.1239 0 0 0.0295 637.69 289.69)" font-size="100" font-weight="bold" fill="#7ac87a">A</text><rect x="638" y="286.3" width="8.3" height="1" fill="#f3cc3a" /><text transform="matrix(0.1412 0 0 0.0318 637.84 286.18)" font-size="100" font-weight="bold" fill="#d68a48">T</text><rect x="638" y="282" width="8.3" height="1.6" fill="#f8a440" /><rect x="638" y="280.1" width="8.3" height="1.6" fill="#60c070" /><text transform="matrix(0.1412 0 0 0.0319 637.84 280.00)" font-size="100" font-weight="bold" fill="#ee4a4a">T</text><line x1="627" y1="301" x2="647" y2="301" stroke="#888" stroke-width="1" /><line x1="650.6" y1="258" x2="650.6" y2="301" stroke="#555" stroke-width="0.8" /><line x1="650.6" y1="258" x2="653" y2="258" stroke="#555" stroke-width="0.8" /><line x1="650.6" y1="279.5" x2="653" y2="279.5" stroke="#555" stroke-width="0.8" /><line x1="650.6" y1="301" x2="653" y2="301" stroke="#555" stroke-width="0.8" /><text x="653.2" y="264.8" font-size="11">1.0</text><text x="653.2" y="283.3" font-size="11">0.5</text><text x="653.2" y="302.6" font-size="11">0.0</text><line x1="478.3" y1="307.1" x2="478.3" y2="350.1" stroke="#555" stroke-width="0.8" /><line x1="475.5" y1="307.1" x2="478.3" y2="307.1" stroke="#555" stroke-width="0.8" /><line x1="475.5" y1="328.6" x2="478.3" y2="328.6" stroke="#555" stroke-width="0.8" /><line x1="475.5" y1="350.1" x2="478.3" y2="350.1" stroke="#555" stroke-width="0.8" /><text x="475.5" y="312.1" font-size="11" text-anchor="end">2.0</text><text x="475.5" y="332.4" font-size="11" text-anchor="end">1.0</text><text x="475.5" y="350.7" font-size="11" text-anchor="end">0.0</text><rect x="479.2" y="348.9" width="7.4" height="0.6" fill="#21b721" /><rect x="488" y="348.9" width="7.8" height="0.6" fill="#1b6db3" /><rect x="488.2" y="348.3" width="7.4" height="0.6" fill="#e0262b" /><text transform="matrix(0.1284 0 0 0.0552 487.28 348.32)" font-size="100" font-weight="bold" fill="#21b721">A</text><rect x="497" y="348.9" width="7.8" height="0.6" fill="#f7901e" /><text transform="matrix(0.1284 0 0 0.0320 496.28 348.92)" font-size="100" font-weight="bold" fill="#21b721">A</text><rect x="505.9" y="348.3" width="7.8" height="1.2" fill="#1b6db3" /><rect x="505.9" y="347.7" width="7.8" height="0.6" fill="#f7901e" /><rect x="506.1" y="346.2" width="7.4" height="1.5" fill="#21b721" /><rect x="514.8" y="348.9" width="7.8" height="0.6" fill="#1b6db3" /><rect x="514.8" y="348.1" width="7.8" height="0.8" fill="#f7901e" /><text transform="matrix(0.1284 0 0 0.0581 514.08 348.12)" font-size="100" font-weight="bold" fill="#21b721">A</text><rect x="551.6" y="348.7" width="7.4" height="0.8" fill="#e0262b" /><text transform="matrix(0.1284 0 0 0.0291 550.68 348.72)" font-size="100" font-weight="bold" fill="#21b721">A</text><text transform="matrix(0.1335 0 0 0.2900 550.25 346.46)" font-size="100" font-weight="bold" fill="#f7901e">G</text><rect x="560.4" y="348.7" width="7.8" height="0.8" fill="#f7901e" /><rect x="560.6" y="347.2" width="7.4" height="1.5" fill="#21b721" /><text transform="matrix(0.1378 0 0 0.2687 559.23 346.98)" font-size="100" font-weight="bold" fill="#1b6db3">C</text><rect x="569.4" y="348.9" width="7.8" height="0.6" fill="#f7901e" /><rect x="569.6" y="348.3" width="7.4" height="0.6" fill="#e0262b" /><line x1="478.3" y1="350.1" x2="578.5" y2="350.1" stroke="#888" stroke-width="1.2" /><text x="482.3" y="315.2" font-size="7.9" fill="#333">-3A, 47.7%</text><text x="506.8" y="326.4" font-size="7.9" fill="#333">+4G, 83.9%</text><text x="506.8" y="335.2" font-size="7.9" fill="#333">+5C, 82.6%</text><text x="572.2" y="316.3" font-size="9.3" font-weight="bold" fill="#222">PhANGs</text><text transform="matrix(0.1375 0 0 0.6250 626.38 350.12)" font-size="100" font-weight="bold" fill="#1b6db3">M</text><text transform="matrix(0.1375 0 0 0.6250 626.98 350.12)" font-size="100" font-weight="bold" fill="#1b6db3">M</text><text transform="matrix(0.1328 0 0 0.4563 636.97 338.51)" font-size="100" font-weight="bold" fill="#1b6db3">A</text><text transform="matrix(0.1328 0 0 0.4563 637.47 338.51)" font-size="100" font-weight="bold" fill="#1b6db3">A</text><text transform="matrix(0.1239 0 0 0.0334 637.69 349.82)" font-size="100" font-weight="bold" fill="#f07a5a">A</text><text transform="matrix(0.1412 0 0 0.0334 637.84 347.32)" font-size="100" font-weight="bold" fill="#7ac87a">T</text><rect x="638" y="343.7" width="8.3" height="1" fill="#f3cc3a" /><rect x="638" y="341.8" width="8.3" height="1.5" fill="#d68a48" /><rect x="638" y="340.5" width="8.3" height="1.1" fill="#f8a440" /><rect x="638" y="339" width="8.3" height="1.2" fill="#60c070" /><line x1="627" y1="350.1" x2="647" y2="350.1" stroke="#888" stroke-width="1" /><line x1="650.6" y1="307.1" x2="650.6" y2="350.1" stroke="#555" stroke-width="0.8" /><line x1="650.6" y1="307.1" x2="653" y2="307.1" stroke="#555" stroke-width="0.8" /><line x1="650.6" y1="328.6" x2="653" y2="328.6" stroke="#555" stroke-width="0.8" /><line x1="650.6" y1="350.1" x2="653" y2="350.1" stroke="#555" stroke-width="0.8" /><text x="653.2" y="313.9" font-size="11">1.0</text><text x="653.2" y="332.4" font-size="11">0.5</text><text x="653.2" y="351.7" font-size="11">0.0</text><line x1="478.3" y1="356.3" x2="478.3" y2="399.3" stroke="#555" stroke-width="0.8" /><line x1="475.5" y1="356.3" x2="478.3" y2="356.3" stroke="#555" stroke-width="0.8" /><line x1="475.5" y1="377.8" x2="478.3" y2="377.8" stroke="#555" stroke-width="0.8" /><line x1="475.5" y1="399.3" x2="478.3" y2="399.3" stroke="#555" stroke-width="0.8" /><text x="475.5" y="361.3" font-size="11" text-anchor="end">2.0</text><text x="475.5" y="381.6" font-size="11" text-anchor="end">1.0</text><text x="475.5" y="399.9" font-size="11" text-anchor="end">0.0</text><rect x="479.2" y="398.1" width="7.4" height="0.6" fill="#e0262b" /><rect x="488.2" y="397.2" width="7.4" height="1.5" fill="#21b721" /><rect x="497" y="397.7" width="7.8" height="1" fill="#1b6db3" /><text transform="matrix(0.1335 0 0 0.0354 495.85 397.66)" font-size="100" font-weight="bold" fill="#f7901e">G</text><text transform="matrix(0.1284 0 0 0.0872 496.28 395.19)" font-size="100" font-weight="bold" fill="#21b721">A</text><rect x="506.1" y="397.9" width="7.4" height="0.8" fill="#e0262b" /><rect x="505.9" y="396.9" width="7.8" height="1" fill="#1b6db3" /><rect x="506.1" y="395.4" width="7.4" height="1.5" fill="#21b721" /><rect x="514.8" y="397.7" width="7.8" height="1" fill="#1b6db3" /><text transform="matrix(0.1335 0 0 0.0283 513.65 397.66)" font-size="100" font-weight="bold" fill="#f7901e">G</text><text transform="matrix(0.1284 0 0 0.0727 514.08 395.69)" font-size="100" font-weight="bold" fill="#21b721">A</text><rect x="551.6" y="397.9" width="7.4" height="0.8" fill="#21b721" /><text transform="matrix(0.1335 0 0 0.4526 550.25 397.48)" font-size="100" font-weight="bold" fill="#f7901e">G</text><rect x="560.6" y="398.1" width="7.4" height="0.6" fill="#21b721" /><text transform="matrix(0.1378 0 0 0.4526 559.23 397.68)" font-size="100" font-weight="bold" fill="#1b6db3">C</text><rect x="569.6" y="397.9" width="7.4" height="0.8" fill="#e0262b" /><rect x="569.4" y="397.3" width="7.8" height="0.6" fill="#f7901e" /><line x1="478.3" y1="399.3" x2="578.5" y2="399.3" stroke="#888" stroke-width="1.2" /><text x="482.3" y="362.3" font-size="7.9" fill="#333">-3A, 57.1%</text><text x="506.8" y="372.7" font-size="7.9" fill="#333">+4G, 93.7%</text><text x="506.8" y="381.5" font-size="7.9" fill="#333">+5C, 92.1%</text><text x="563.2" y="365.4" font-size="9.3" font-weight="bold" fill="#222">PS apparatus</text><text transform="matrix(0.1375 0 0 0.6250 626.38 399.29)" font-size="100" font-weight="bold" fill="#1b6db3">M</text><text transform="matrix(0.1375 0 0 0.6250 626.98 399.29)" font-size="100" font-weight="bold" fill="#1b6db3">M</text><text transform="matrix(0.1328 0 0 0.5625 636.97 394.99)" font-size="100" font-weight="bold" fill="#1b6db3">A</text><text transform="matrix(0.1328 0 0 0.5625 637.47 394.99)" font-size="100" font-weight="bold" fill="#1b6db3">A</text><rect x="638" y="398.1" width="8.3" height="0.7" fill="#60c070" /><rect x="638" y="396.4" width="8.3" height="1.4" fill="#ee4a4a" /><rect x="638" y="395.4" width="8.3" height="0.6" fill="#a066b8" /><line x1="627" y1="399.3" x2="647" y2="399.3" stroke="#888" stroke-width="1" /><line x1="650.6" y1="356.3" x2="650.6" y2="399.3" stroke="#555" stroke-width="0.8" /><line x1="650.6" y1="356.3" x2="653" y2="356.3" stroke="#555" stroke-width="0.8" /><line x1="650.6" y1="377.8" x2="653" y2="377.8" stroke="#555" stroke-width="0.8" /><line x1="650.6" y1="399.3" x2="653" y2="399.3" stroke="#555" stroke-width="0.8" /><text x="653.2" y="363.1" font-size="11">1.0</text><text x="653.2" y="381.6" font-size="11">0.5</text><text x="653.2" y="400.9" font-size="11">0.0</text><line x1="500.9" y1="399.3" x2="500.9" y2="401.8" stroke="#555" stroke-width="0.8" /><text x="500.9" y="409.3" font-size="8.8" text-anchor="middle" letter-spacing="-0.3">-3</text><line x1="509.9" y1="399.3" x2="509.9" y2="401.8" stroke="#555" stroke-width="0.8" /><text x="509.9" y="409.3" font-size="8.8" text-anchor="middle" letter-spacing="-0.3">-2</text><line x1="519" y1="399.3" x2="519" y2="401.8" stroke="#555" stroke-width="0.8" /><text x="519" y="409.3" font-size="8.8" text-anchor="middle" letter-spacing="-0.3">-1</text><line x1="527.7" y1="399.3" x2="527.7" y2="401.8" stroke="#555" stroke-width="0.8" /><text x="527.7" y="409.3" font-size="8.8" text-anchor="middle" letter-spacing="-0.3">+1</text><line x1="536.8" y1="399.3" x2="536.8" y2="401.8" stroke="#555" stroke-width="0.8" /><text x="536.8" y="409.3" font-size="8.8" text-anchor="middle" letter-spacing="-0.3">+2</text><line x1="545.9" y1="399.3" x2="545.9" y2="401.8" stroke="#555" stroke-width="0.8" /><text x="545.9" y="409.3" font-size="8.8" text-anchor="middle" letter-spacing="-0.3">+3</text><line x1="554.9" y1="399.3" x2="554.9" y2="401.8" stroke="#555" stroke-width="0.8" /><text x="554.9" y="409.3" font-size="8.8" text-anchor="middle" letter-spacing="-0.3">+4</text><line x1="564" y1="399.3" x2="564" y2="401.8" stroke="#555" stroke-width="0.8" /><text x="564" y="409.3" font-size="8.8" text-anchor="middle" letter-spacing="-0.3">+5</text><line x1="573.1" y1="399.3" x2="573.1" y2="401.8" stroke="#555" stroke-width="0.8" /><text x="573.1" y="409.3" font-size="8.8" text-anchor="middle" letter-spacing="-0.3">+6</text><text x="538.3" y="419.5" font-size="10.8" text-anchor="middle" font-weight="bold" letter-spacing="-0.5">A T G</text><text x="538.3" y="428.6" font-size="10.8" text-anchor="middle" font-weight="bold">TIS</text><line x1="633.2" y1="399.6" x2="633.2" y2="402" stroke="#555" stroke-width="0.8" /><line x1="642" y1="399.6" x2="642" y2="402" stroke="#555" stroke-width="0.8" /><text x="633.2" y="409.6" font-size="9" text-anchor="middle">1</text><text x="642" y="409.6" font-size="9" text-anchor="middle">2</text><text x="641.5" y="419.7" font-size="10.5" text-anchor="middle">Residue</text></g><g id="pe"><text x="195" y="294.5" font-size="14" font-weight="bold">e</text><text x="197.9" y="307.6" font-size="9.4" font-weight="bold">S_TE_Down</text><text x="257.3" y="307.6" font-size="9.35" font-weight="bold">IF_TE_Down</text><ellipse cx="240" cy="356.5" rx="38" ry="22" transform="rotate(45 240 356.5)" fill="#ec9fc4" fill-opacity="0.55"/><ellipse cx="252.5" cy="343.5" rx="38" ry="22" transform="rotate(45 252.5 343.5)" fill="#fbc540" fill-opacity="0.55"/><ellipse cx="257.5" cy="343.5" rx="38" ry="22" transform="rotate(-45 257.5 343.5)" fill="#52cfc0" fill-opacity="0.55"/><ellipse cx="270" cy="356.5" rx="38" ry="22" transform="rotate(-45 270 356.5)" fill="#86c4ee" fill-opacity="0.55"/><ellipse cx="240" cy="356.5" rx="38" ry="22" transform="rotate(45 240 356.5)" fill="none" stroke="#555" stroke-width="0.5"/><ellipse cx="252.5" cy="343.5" rx="38" ry="22" transform="rotate(45 252.5 343.5)" fill="none" stroke="#555" stroke-width="0.5"/><ellipse cx="257.5" cy="343.5" rx="38" ry="22" transform="rotate(-45 257.5 343.5)" fill="none" stroke="#555" stroke-width="0.5"/><ellipse cx="270" cy="356.5" rx="38" ry="22" transform="rotate(-45 270 356.5)" fill="none" stroke="#555" stroke-width="0.5"/><text x="237.4" y="321.7" font-size="8" text-anchor="middle" fill="#333">192</text><text x="274.3" y="321.7" font-size="8" text-anchor="middle" fill="#333">238</text><text x="227.2" y="333.8" font-size="8" text-anchor="middle" fill="#333">7</text><text x="283.4" y="333.8" font-size="8" text-anchor="middle" fill="#333">2</text><text x="217.4" y="346.2" font-size="8" text-anchor="middle" fill="#333">379</text><text x="236.8" y="346.2" font-size="8" text-anchor="middle" fill="#333">0</text><text x="274" y="346.2" font-size="8" text-anchor="middle" fill="#333">0</text><text x="292.6" y="346.2" font-size="8" text-anchor="middle" fill="#333">6</text><text x="230.5" y="365.5" font-size="8" text-anchor="middle" fill="#333">0</text><text x="280.2" y="365.5" font-size="8" text-anchor="middle" fill="#333">0</text><text x="242.2" y="374.7" font-size="8" text-anchor="middle" fill="#333">38</text><text x="267.8" y="374.7" font-size="8" text-anchor="middle" fill="#333">39</text><text x="255.1" y="383.3" font-size="8" text-anchor="middle" fill="#333">637</text><text x="255.1" y="329.2" font-size="11.5" text-anchor="middle" font-weight="bold" fill="#1515e6">50</text><text x="255.1" y="360.9" font-size="11.5" text-anchor="middle" font-weight="bold" fill="#1515e6">31</text><text x="215.8" y="380.1" font-size="9.8" text-anchor="middle" font-weight="bold" transform="rotate(47.5 215.8 380.1)">S_Plastid</text><text x="297.8" y="373.9" font-size="9.8" text-anchor="middle" font-weight="bold" transform="rotate(-50.2 297.8 373.9)">IF_Plastid</text></g><g id="pf"><text x="0" y="336" font-size="14" font-weight="bold">f</text><text x="81.8" y="338.6" font-size="10.5" font-weight="bold" fill="#1a1af0">IF&amp;S_TE_Down</text><rect x="93" y="344" width="55.3" height="132.2" fill="#fff"/><line x1="100.8" y1="344" x2="100.8" y2="476.2" stroke="#f2f2f2" stroke-width="0.6" /><line x1="121.2" y1="344" x2="121.2" y2="476.2" stroke="#f2f2f2" stroke-width="0.6" /><line x1="141.4" y1="344" x2="141.4" y2="476.2" stroke="#f2f2f2" stroke-width="0.6" /><line x1="111" y1="344" x2="111" y2="476.2" stroke="#e6e6e6" stroke-width="0.9" /><line x1="131.3" y1="344" x2="131.3" y2="476.2" stroke="#e6e6e6" stroke-width="0.9" /><line x1="93" y1="351.5" x2="148.3" y2="351.5" stroke="#e6e6e6" stroke-width="0.9" /><line x1="90.5" y1="351.5" x2="93" y2="351.5" stroke="#333" stroke-width="0.7" /><text x="90" y="354.9" font-size="9.5" text-anchor="end" fill="#1a1a1a">Thylakoid</text><line x1="93" y1="364.2" x2="148.3" y2="364.2" stroke="#e6e6e6" stroke-width="0.9" /><line x1="90.5" y1="364.2" x2="93" y2="364.2" stroke="#333" stroke-width="0.7" /><text x="90" y="367.6" font-size="9.5" text-anchor="end" fill="#1a1a1a">Chloroplast thylakoid</text><line x1="93" y1="376.9" x2="148.3" y2="376.9" stroke="#e6e6e6" stroke-width="0.9" /><line x1="90.5" y1="376.9" x2="93" y2="376.9" stroke="#333" stroke-width="0.7" /><text x="90" y="380.3" font-size="9.5" text-anchor="end" fill="#1a1a1a">Chloroplast envelope</text><line x1="93" y1="389.5" x2="148.3" y2="389.5" stroke="#e6e6e6" stroke-width="0.9" /><line x1="90.5" y1="389.5" x2="93" y2="389.5" stroke="#333" stroke-width="0.7" /><text x="90" y="392.9" font-size="9.5" text-anchor="end" fill="#1a1a1a">Thylakoid membrane</text><line x1="93" y1="402.3" x2="148.3" y2="402.3" stroke="#e6e6e6" stroke-width="0.9" /><line x1="90.5" y1="402.3" x2="93" y2="402.3" stroke="#333" stroke-width="0.7" /><text x="90" y="405.7" font-size="9.5" text-anchor="end" fill="#1a1a1a">Apoplast</text><line x1="93" y1="414.7" x2="148.3" y2="414.7" stroke="#e6e6e6" stroke-width="0.9" /><line x1="90.5" y1="414.7" x2="93" y2="414.7" stroke="#333" stroke-width="0.7" /><text x="90" y="418.1" font-size="9.5" text-anchor="end" fill="#1a1a1a">Chloroplast stroma</text><line x1="93" y1="427.4" x2="148.3" y2="427.4" stroke="#e6e6e6" stroke-width="0.9" /><line x1="90.5" y1="427.4" x2="93" y2="427.4" stroke="#333" stroke-width="0.7" /><text x="90" y="430.8" font-size="9.5" text-anchor="end" fill="#1a1a1a">Cytosol</text><line x1="93" y1="440.2" x2="148.3" y2="440.2" stroke="#e6e6e6" stroke-width="0.9" /><line x1="90.5" y1="440.2" x2="93" y2="440.2" stroke="#333" stroke-width="0.7" /><text x="90" y="443.6" font-size="9.5" text-anchor="end" fill="#1a1a1a">Chloroplast</text><line x1="93" y1="455.9" x2="148.3" y2="455.9" stroke="#e6e6e6" stroke-width="0.9" /><line x1="90.5" y1="455.9" x2="93" y2="455.9" stroke="#333" stroke-width="0.7" /><text x="90" y="459.3" font-size="9.5" text-anchor="end" fill="#1a1a1a">Photosynthesis</text><line x1="93" y1="468.9" x2="148.3" y2="468.9" stroke="#e6e6e6" stroke-width="0.9" /><line x1="90.5" y1="468.9" x2="93" y2="468.9" stroke="#333" stroke-width="0.7" /><text x="90" y="472.3" font-size="9.5" text-anchor="end" fill="#1a1a1a">Response to cold</text><rect x="93" y="344" width="55.3" height="132.2" fill="none" stroke="#b3b3b3" stroke-width="0.8"/><rect x="148.3" y="344" width="8.3" height="103.6" fill="#d9d9d9" stroke="#b3b3b3" stroke-width="0.6"/><rect x="148.3" y="448.6" width="8.3" height="27.6" fill="#d9d9d9" stroke="#b3b3b3" stroke-width="0.6"/><line x1="93" y1="448.1" x2="156.6" y2="448.1" stroke="#333" stroke-width="1.1" /><text x="150" y="395.8" font-size="8.5" fill="#1a1a1a" transform="rotate(90 150 395.8)">CC</text><text x="150" y="461.5" font-size="8.5" fill="#1a1a1a" transform="rotate(90 150 461.5)">BP</text><circle cx="144" cy="351.5" r="2.4" fill="#f2182a" /><circle cx="124.7" cy="364.2" r="1.8" fill="#b44fb8" /><circle cx="118.5" cy="376.9" r="2.6" fill="#f0182e" /><circle cx="116.3" cy="389.5" r="2.3" fill="#d8347a" /><circle cx="115.4" cy="402.3" r="2.3" fill="#d83478" /><circle cx="113.3" cy="414.7" r="2.5" fill="#ea1e44" /><circle cx="98.1" cy="427.4" r="3.1" fill="#d0347c" /><circle cx="95.5" cy="440.2" r="3.3" fill="#d0347c" /><circle cx="120.8" cy="456" r="1.5" fill="#1f4fff" /><circle cx="102.4" cy="468.9" r="2.1" fill="#1f4fff" /><line x1="111" y1="476.2" x2="111" y2="478.6" stroke="#333" stroke-width="0.7" /><text x="111" y="487.6" text-anchor="middle" fill="#1a1a1a">10</text><line x1="131.3" y1="476.2" x2="131.3" y2="478.6" stroke="#333" stroke-width="0.7" /><text x="131.3" y="487.6" text-anchor="middle" fill="#1a1a1a">20</text><text x="81.8" y="497.2" font-size="10.9" font-weight="bold">Fold enrichment</text><defs><linearGradient id="fdr" x1="0" y1="0" x2="0" y2="1"><stop offset="0" stop-color="#ff1020"/><stop offset="0.5" stop-color="#d0389a"/><stop offset="1" stop-color="#3f72ff"/></linearGradient></defs><rect x="170.2" y="370" width="7.9" height="36.7" fill="url(#fdr)" /><line x1="170.2" y1="376" x2="171.8" y2="376" stroke="#fff" stroke-width="0.6" /><line x1="176.5" y1="376" x2="178.1" y2="376" stroke="#fff" stroke-width="0.6" /><text x="189.5" y="379.5" text-anchor="end" fill="#1a1a1a">16</text><line x1="170.2" y1="385.7" x2="171.8" y2="385.7" stroke="#fff" stroke-width="0.6" /><line x1="176.5" y1="385.7" x2="178.1" y2="385.7" stroke="#fff" stroke-width="0.6" /><text x="189.5" y="389.2" text-anchor="end" fill="#1a1a1a">12</text><line x1="170.2" y1="395.3" x2="171.8" y2="395.3" stroke="#fff" stroke-width="0.6" /><line x1="176.5" y1="395.3" x2="178.1" y2="395.3" stroke="#fff" stroke-width="0.6" /><text x="189.5" y="398.8" text-anchor="end" fill="#1a1a1a">8</text><text x="167.2" y="383.5" font-size="10.4" text-anchor="middle" fill="#1a1a1a" transform="rotate(-90 167.2 383.5)">-Log10 (FDR)</text><text x="160.6" y="428" fill="#1a1a1a">Count</text><circle cx="163.4" cy="435" r="1.3" fill="#000" /><text x="169.5" y="438.5" fill="#1a1a1a">10</text><circle cx="163.4" cy="443" r="1.9" fill="#000" /><text x="169.5" y="446.5" fill="#1a1a1a">20</text><circle cx="163.4" cy="451.2" r="2.4" fill="#000" /><text x="169.5" y="454.7" fill="#1a1a1a">30</text><circle cx="163.4" cy="459.6" r="2.9" fill="#000" /><text x="169.5" y="463.1" fill="#1a1a1a">40</text></g><g id="ph"><text x="317.6" y="292" font-size="14" font-weight="bold">h</text><line x1="350" y1="289.3" x2="350" y2="384.5" stroke="#333" stroke-width="0.8" /><line x1="346.8" y1="384.5" x2="350" y2="384.5" stroke="#333" stroke-width="0.8" /><text x="345.9" y="388.3" font-size="10.8" text-anchor="end">0</text><line x1="346.8" y1="375" x2="350" y2="375" stroke="#333" stroke-width="0.8" /><text x="348.3" y="378.8" font-size="10.8" text-anchor="end">0.1</text><line x1="346.8" y1="365.5" x2="350" y2="365.5" stroke="#333" stroke-width="0.8" /><text x="348.3" y="369.3" font-size="10.8" text-anchor="end">0.2</text><line x1="346.8" y1="355.9" x2="350" y2="355.9" stroke="#333" stroke-width="0.8" /><text x="348.3" y="359.7" font-size="10.8" text-anchor="end">0.3</text><line x1="346.8" y1="346.4" x2="350" y2="346.4" stroke="#333" stroke-width="0.8" /><text x="348.3" y="350.2" font-size="10.8" text-anchor="end">0.4</text><line x1="346.8" y1="336.9" x2="350" y2="336.9" stroke="#333" stroke-width="0.8" /><text x="348.3" y="340.7" font-size="10.8" text-anchor="end">0.5</text><line x1="346.8" y1="327.4" x2="350" y2="327.4" stroke="#333" stroke-width="0.8" /><text x="348.3" y="331.2" font-size="10.8" text-anchor="end">0.6</text><line x1="346.8" y1="317.9" x2="350" y2="317.9" stroke="#333" stroke-width="0.8" /><text x="348.3" y="321.7" font-size="10.8" text-anchor="end">0.7</text><line x1="346.8" y1="308.3" x2="350" y2="308.3" stroke="#333" stroke-width="0.8" /><text x="348.3" y="312.1" font-size="10.8" text-anchor="end">0.8</text><line x1="346.8" y1="298.8" x2="350" y2="298.8" stroke="#333" stroke-width="0.8" /><text x="348.3" y="302.6" font-size="10.8" text-anchor="end">0.9</text><line x1="346.8" y1="289.3" x2="350" y2="289.3" stroke="#333" stroke-width="0.8" /><text x="348.3" y="293.1" font-size="10.8" text-anchor="end">1.0</text><rect x="352" y="289.3" width="10.9" height="95.2" fill="#c8c8c8" /><rect x="352" y="375.4" width="10.9" height="9.1" fill="#4472c4" /><rect x="352" y="371" width="10.9" height="4.4" fill="#ed7d31" /><rect x="352" y="366.1" width="10.9" height="4.9" fill="#000000" /><rect x="352" y="363.2" width="10.9" height="3" fill="#ffc000" /><rect x="365.1" y="289.3" width="10.9" height="95.2" fill="#c8c8c8" /><rect x="365.1" y="375.4" width="10.9" height="9.1" fill="#4472c4" /><rect x="365.1" y="371" width="10.9" height="4.4" fill="#ed7d31" /><rect x="365.1" y="366.1" width="10.9" height="4.9" fill="#000000" /><rect x="365.1" y="363.2" width="10.9" height="3" fill="#ffc000" /><rect x="378.7" y="289.3" width="10.9" height="95.2" fill="#c8c8c8" /><rect x="378.7" y="365.5" width="10.9" height="19" fill="#4472c4" /><rect x="378.7" y="355.9" width="10.9" height="9.5" fill="#ed7d31" /><rect x="378.7" y="346.4" width="10.9" height="9.5" fill="#000000" /><rect x="378.7" y="339.9" width="10.9" height="6.5" fill="#ffc000" /><rect x="392.2" y="289.3" width="10.9" height="95.2" fill="#c8c8c8" /><rect x="392.2" y="350.2" width="10.9" height="34.3" fill="#4472c4" /><rect x="392.2" y="329.8" width="10.9" height="20.5" fill="#ed7d31" /><rect x="392.2" y="319.8" width="10.9" height="10" fill="#000000" /><rect x="392.2" y="312.7" width="10.9" height="7" fill="#ffc000" /><rect x="405.8" y="289.3" width="10.9" height="95.2" fill="#c8c8c8" /><rect x="405.8" y="333.1" width="10.9" height="51.4" fill="#4472c4" /><rect x="405.8" y="310.6" width="10.9" height="22.5" fill="#ed7d31" /><rect x="405.8" y="304.5" width="10.9" height="6.1" fill="#000000" /><rect x="405.8" y="299.8" width="10.9" height="4.8" fill="#ffc000" /><rect x="418" y="318.5" width="4.2" height="4.2" fill="#c8c8c8" /><text x="424.3" y="324.4" font-size="10.4" fill="#8c8c8c">Other</text><rect x="418" y="328" width="4.2" height="4.2" fill="#ffc000" /><text x="424.3" y="333.9" font-size="10.4" fill="#f9c05a">T/GC</text><rect x="418" y="336.8" width="4.2" height="4.2" fill="#000" /><text x="424.3" y="342.7" font-size="10.4" fill="#000">C/GC</text><rect x="418" y="345.5" width="4.2" height="4.2" fill="#ed7d31" /><text x="424.3" y="351.4" font-size="10.4" fill="#ee5a2c">G/GC</text><rect x="418" y="354.8" width="4.2" height="4.2" fill="#4472c4" /><text x="424.3" y="360.7" font-size="10.4" fill="#3b6bd0">A/GC</text><text x="330" y="336.5" font-size="10.4" text-anchor="middle" font-weight="bold" transform="rotate(-90 330 336.5)">Proportion</text><text x="363" y="388.5" font-size="10.4" text-anchor="end" transform="rotate(-45 363 388.5)">IF_All</text><text x="376.1" y="388.5" font-size="10.4" text-anchor="end" transform="rotate(-45 376.1 388.5)">S_All</text><text x="389.7" y="388.5" font-size="10.4" text-anchor="end" transform="rotate(-45 389.7 388.5)">All_Plastid</text><text x="403.2" y="388.5" font-size="10.4" text-anchor="end" transform="rotate(-45 403.2 388.5)">PhANGs</text><text x="416.8" y="388.5" font-size="10.4" text-anchor="end" transform="rotate(-45 416.8 388.5)">PS apparatus</text></g><g id="pi"><text x="233" y="450" font-size="14" font-weight="bold">i</text><path d="M265.7 469.4 265.7 471.1 265.6 472.9 265.6 474.6 265.6 476.4 265.5 478.1 265.5 479.8 265.4 481.6 265.3 483.3 265.1 485.0 265.0 486.8 264.7 488.5 264.5 490.3 264.2 492.0 263.9 493.7 263.5 495.5 263.2 497.2 262.9 499.0 262.6 500.7 262.4 502.4 262.1 504.2 261.9 505.9 261.6 507.7 261.6 509.4 261.7 511.1 261.7 512.9 261.8 514.6 262.0 516.3 262.2 518.1 262.5 519.8 262.7 521.6 263.0 523.3 263.3 525.0 263.6 526.8 263.9 528.5 264.2 530.3 264.4 532.0 264.6 533.7 264.8 535.5 265.0 537.2 265.1 539.0 265.2 540.7 265.3 542.4 265.4 544.2 265.5 545.9 265.6 547.6 265.6 549.4 265.6 551.1 265.7 552.9 265.7 554.6 266.7 554.6 266.7 552.9 266.8 551.1 266.8 549.4 266.8 547.6 266.9 545.9 267.0 544.2 267.1 542.4 267.2 540.7 267.3 539.0 267.4 537.2 267.6 535.5 267.8 533.7 268.0 532.0 268.2 530.3 268.5 528.5 268.8 526.8 269.1 525.0 269.4 523.3 269.7 521.6 269.9 519.8 270.2 518.1 270.4 516.3 270.6 514.6 270.7 512.9 270.7 511.1 270.8 509.4 270.8 507.7 270.5 505.9 270.3 504.2 270.0 502.4 269.8 500.7 269.5 499.0 269.2 497.2 268.9 495.5 268.5 493.7 268.2 492.0 267.9 490.3 267.7 488.5 267.4 486.8 267.3 485.0 267.1 483.3 267.0 481.6 266.9 479.8 266.9 478.1 266.8 476.4 266.8 474.6 266.8 472.9 266.7 471.1 266.7 469.4Z" fill="#ff8000"/><path d="M277.7 485.8 277.6 487.1 277.6 488.3 277.5 489.6 277.5 490.9 277.4 492.1 277.2 493.4 277.0 494.7 276.8 495.9 276.6 497.2 276.4 498.5 276.2 499.7 276.0 501.0 275.8 502.2 275.5 503.5 275.3 504.8 275.1 506.0 274.9 507.3 274.7 508.6 274.5 509.8 274.4 511.1 274.2 512.4 274.0 513.6 274.1 514.9 274.1 516.2 274.2 517.4 274.3 518.7 274.4 520.0 274.6 521.2 274.9 522.5 275.1 523.8 275.3 525.0 275.6 526.3 275.8 527.6 276.0 528.8 276.2 530.1 276.4 531.4 276.6 532.6 276.8 533.9 277.0 535.1 277.1 536.4 277.3 537.7 277.4 538.9 277.5 540.2 277.5 541.5 277.6 542.7 277.6 544.0 277.6 545.3 277.7 546.5 277.7 547.8 278.7 547.8 278.7 546.5 278.8 545.3 278.8 544.0 278.8 542.7 278.9 541.5 278.9 540.2 279.0 538.9 279.1 537.7 279.3 536.4 279.4 535.1 279.6 533.9 279.8 532.6 280.0 531.4 280.2 530.1 280.4 528.8 280.6 527.6 280.8 526.3 281.1 525.0 281.3 523.8 281.5 522.5 281.8 521.2 282.0 520.0 282.1 518.7 282.2 517.4 282.3 516.2 282.3 514.9 282.4 513.6 282.2 512.4 282.0 511.1 281.9 509.8 281.7 508.6 281.5 507.3 281.3 506.0 281.1 504.8 280.9 503.5 280.6 502.2 280.4 501.0 280.2 499.7 280.0 498.5 279.8 497.2 279.6 495.9 279.4 494.7 279.2 493.4 279.0 492.1 278.9 490.9 278.9 489.6 278.8 488.3 278.8 487.1 278.7 485.8Z" fill="#ff8000"/><path d="M290.0 508.7h0M287.5 520.2h0M293.8 523.1h0M290.9 499.5h0M293.0 510.5h0M291.7 536.2h0M292.0 505.2h0M288.3 509.0h0M288.5 537.0h0M287.6 523.9h0M289.5 517.9h0M292.2 521.3h0M289.8 524.8h0M290.4 514.9h0M291.7 509.2h0M287.4 529.4h0M291.8 525.4h0M285.8 521.0h0M288.6 529.6h0M292.4 522.2h0M290.7 544.3h0M289.6 512.0h0M288.3 522.4h0M293.6 521.4h0M288.4 517.2h0M285.8 522.8h0M288.4 514.1h0M287.0 529.7h0M292.1 531.2h0M288.2 509.2h0M294.8 519.4h0M288.0 514.8h0M289.4 506.1h0M290.7 533.2h0M288.5 519.5h0M289.6 510.6h0M287.0 524.5h0M289.5 512.9h0M287.8 533.1h0M288.4 512.8h0M291.3 500.4h0M288.8 512.1h0M288.4 516.9h0M292.0 520.1h0M292.1 534.1h0M288.6 524.3h0M289.3 516.1h0M290.8 496.3h0M292.0 510.8h0M290.6 546.2h0M287.3 520.4h0M287.6 525.1h0M291.2 502.6h0M290.8 500.3h0M292.8 530.0h0M293.0 522.6h0M289.7 515.5h0M287.4 515.1h0M292.1 505.5h0M291.6 512.0h0M290.5 498.1h0M291.5 530.4h0M289.2 519.4h0M289.4 509.0h0M290.9 527.2h0M290.2 510.7h0M291.1 504.0h0M294.4 522.1h0M292.1 533.2h0M290.0 498.4h0M289.4 528.4h0M293.1 510.9h0M289.8 507.1h0M291.0 496.7h0M287.0 515.6h0M289.9 525.6h0M290.5 520.2h0M292.1 531.8h0M292.9 513.3h0M287.5 516.1h0M291.2 513.9h0M290.6 543.4h0M289.0 538.0h0M293.1 516.7h0M290.8 520.0h0M294.0 515.3h0M287.8 525.8h0M290.4 501.9h0M289.6 503.9h0M291.6 518.5h0M291.1 514.6h0M290.4 531.2h0M288.9 526.3h0M290.3 521.7h0M289.2 525.7h0M293.6 525.6h0M290.0 528.5h0M290.2 536.1h0M288.9 510.3h0M288.1 523.5h0M293.0 509.5h0M288.5 519.2h0M293.0 528.1h0M290.8 533.0h0M293.8 528.1h0M289.5 500.4h0M294.0 516.8h0M291.9 510.7h0M290.5 546.4h0M291.6 510.0h0M292.0 513.6h0M289.9 517.5h0M290.8 504.5h0M288.7 531.6h0M286.0 523.1h0M291.4 510.2h0M290.0 520.8h0M292.1 505.3h0M288.2 522.9h0M292.5 512.6h0M291.5 500.6h0M292.5 508.7h0M294.7 522.9h0M287.2 524.3h0M287.5 517.5h0M287.9 524.1h0M289.1 516.8h0M288.2 508.7h0M287.5 515.3h0M286.0 518.0h0M292.4 533.9h0M289.5 509.1h0M290.9 505.5h0M289.9 521.5h0M290.9 540.0h0M291.8 534.9h0M289.3 524.9h0M290.4 504.3h0M287.5 529.4h0M288.5 524.5h0M288.6 509.2h0M288.5 519.7h0M289.7 503.2h0M290.8 529.7h0M289.0 526.3h0M289.1 529.6h0M292.7 527.0h0M286.6 513.3h0M286.9 529.3h0M287.0 513.7h0M292.3 507.9h0M291.5 517.6h0M292.6 520.7h0M294.0 515.2h0M287.8 523.8h0M294.1 524.3h0M288.4 513.9h0M290.5 523.2h0M291.8 517.0h0M292.7 525.6h0M288.3 515.3h0M290.1 528.8h0M286.2 518.0h0M288.3 521.6h0M294.4 525.1h0M294.3 521.1h0M290.9 514.5h0M291.0 543.5h0M292.3 507.0h0M288.9 517.1h0" stroke="#ff8000" stroke-width="1.6" stroke-linecap="round"/><path d="M302.0 544.2h0M305.3 523.8h0M301.3 514.2h0M305.6 526.3h0M298.2 527.6h0M300.5 528.7h0M299.6 528.5h0M302.4 504.9h0M301.1 527.6h0M302.0 537.5h0M305.5 529.4h0M302.7 542.1h0M303.4 525.1h0M301.8 532.1h0M304.0 514.5h0M302.5 534.6h0M304.5 524.4h0M304.8 535.8h0M303.3 521.2h0M301.9 527.5h0M301.1 533.2h0M305.8 529.7h0M304.9 527.9h0M303.2 542.1h0M301.4 511.6h0M302.2 511.8h0M305.9 526.4h0M301.7 540.2h0M305.2 529.3h0M302.8 520.9h0M301.3 513.2h0M301.5 523.8h0M298.9 525.1h0M303.9 524.5h0M304.6 528.1h0M299.4 520.4h0M301.4 535.9h0M304.4 521.0h0M301.2 512.9h0M302.8 522.4h0M303.8 537.0h0M302.8 515.1h0M300.0 519.4h0M304.3 537.3h0M304.3 521.5h0M302.9 533.2h0M302.1 507.1h0M303.0 535.5h0M301.8 518.9h0M300.5 515.8h0M299.5 530.3h0M301.4 544.2h0M301.5 540.1h0M300.5 530.9h0M303.2 536.8h0M302.7 545.4h0M303.3 526.4h0M304.1 515.2h0M300.0 533.4h0M301.6 523.3h0M299.6 520.2h0M301.8 525.7h0M301.5 504.2h0M301.5 501.5h0M299.9 519.4h0M301.5 528.4h0M304.6 530.4h0M301.8 539.8h0M304.1 532.2h0M301.5 538.4h0M300.5 528.6h0M302.3 531.2h0M298.6 527.8h0M302.3 510.7h0M302.8 509.5h0M304.9 531.1h0M299.9 516.9h0M304.7 531.9h0M303.1 524.1h0M302.7 500.1h0M298.5 526.6h0M305.6 524.8h0M301.7 510.5h0M302.8 519.2h0M302.8 521.4h0M305.5 521.8h0M303.3 529.8h0M305.1 515.4h0M300.3 524.4h0M304.0 528.2h0" stroke="#ff8000" stroke-width="1.6" stroke-linecap="round"/><path d="M314.0 475.2 313.9 476.8 313.9 478.4 313.8 480.1 313.7 481.7 313.6 483.3 313.4 484.9 313.2 486.5 313.1 488.2 312.9 489.8 312.6 491.4 312.3 493.0 312.0 494.6 311.6 496.3 311.3 497.9 311.0 499.5 310.7 501.1 310.4 502.7 310.1 504.4 309.9 506.0 309.7 507.6 309.6 509.2 309.6 510.8 309.7 512.5 309.9 514.1 310.0 515.7 310.2 517.3 310.4 519.0 310.7 520.6 311.0 522.2 311.3 523.8 311.6 525.4 311.8 527.1 312.1 528.7 312.4 530.3 312.7 531.9 312.9 533.5 313.0 535.2 313.2 536.8 313.3 538.4 313.5 540.0 313.6 541.6 313.6 543.3 313.7 544.9 313.7 546.5 313.8 548.1 313.8 549.7 313.9 551.4 313.9 553.0 314.0 554.6 315.0 554.6 315.1 553.0 315.1 551.4 315.2 549.7 315.2 548.1 315.3 546.5 315.3 544.9 315.4 543.3 315.4 541.6 315.5 540.0 315.7 538.4 315.8 536.8 316.0 535.2 316.1 533.5 316.3 531.9 316.6 530.3 316.9 528.7 317.2 527.1 317.4 525.4 317.7 523.8 318.0 522.2 318.3 520.6 318.6 519.0 318.8 517.3 319.0 515.7 319.1 514.1 319.3 512.5 319.4 510.8 319.4 509.2 319.3 507.6 319.1 506.0 318.9 504.4 318.6 502.7 318.3 501.1 318.0 499.5 317.7 497.9 317.4 496.3 317.0 494.6 316.7 493.0 316.4 491.4 316.1 489.8 315.9 488.2 315.8 486.5 315.6 484.9 315.4 483.3 315.3 481.7 315.2 480.1 315.1 478.4 315.1 476.8 315.0 475.2Z" fill="#3eaad8"/><path d="M326.2 479.0 326.1 480.4 326.1 481.8 326.0 483.3 326.0 484.7 325.9 486.1 325.9 487.5 325.8 489.0 325.7 490.4 325.6 491.8 325.4 493.2 325.2 494.7 325.0 496.1 324.8 497.5 324.6 498.9 324.4 500.4 324.2 501.8 323.9 503.2 323.7 504.6 323.4 506.1 323.2 507.5 323.0 508.9 322.8 510.3 322.7 511.8 322.5 513.2 322.3 514.6 322.4 516.0 322.6 517.5 322.7 518.9 322.9 520.3 323.1 521.7 323.3 523.2 323.6 524.6 323.8 526.0 324.1 527.4 324.3 528.9 324.5 530.3 324.8 531.7 325.0 533.1 325.2 534.6 325.4 536.0 325.6 537.4 325.7 538.8 325.8 540.3 325.9 541.7 325.9 543.1 326.0 544.5 326.1 546.0 326.1 547.4 326.2 548.8 327.2 548.8 327.3 547.4 327.3 546.0 327.4 544.5 327.5 543.1 327.5 541.7 327.6 540.3 327.7 538.8 327.8 537.4 328.0 536.0 328.2 534.6 328.4 533.1 328.6 531.7 328.9 530.3 329.1 528.9 329.3 527.4 329.6 526.0 329.8 524.6 330.1 523.2 330.3 521.7 330.5 520.3 330.7 518.9 330.8 517.5 331.0 516.0 331.1 514.6 330.9 513.2 330.7 511.8 330.6 510.3 330.4 508.9 330.2 507.5 330.0 506.1 329.7 504.6 329.5 503.2 329.2 501.8 329.0 500.4 328.8 498.9 328.6 497.5 328.4 496.1 328.2 494.7 328.0 493.2 327.8 491.8 327.7 490.4 327.6 489.0 327.5 487.5 327.5 486.1 327.4 484.7 327.4 483.3 327.3 481.8 327.3 480.4 327.2 479.0Z" fill="#3eaad8"/><path d="M343.5 522.5h0M342.9 520.7h0M335.7 523.1h0M335.1 521.9h0M337.0 516.1h0M335.3 522.9h0M339.8 501.8h0M341.9 520.8h0M335.5 519.0h0M335.8 510.9h0M336.9 522.1h0M340.4 525.0h0M340.2 506.0h0M338.4 513.3h0M339.2 499.6h0M342.7 523.6h0M340.2 501.1h0M336.1 510.9h0M340.6 518.5h0M341.2 519.1h0M339.7 495.1h0M338.4 538.6h0M336.4 511.1h0M338.5 523.0h0M337.8 510.0h0M337.7 522.8h0M341.2 515.1h0M339.9 513.9h0M340.4 519.9h0M340.2 521.3h0M335.3 523.8h0M334.8 524.8h0M337.9 512.8h0M340.3 502.3h0M339.8 512.5h0M341.1 515.2h0M339.9 523.9h0M341.1 517.2h0M342.5 514.1h0M339.7 502.0h0M342.1 523.8h0M341.0 504.1h0M341.0 520.6h0M341.5 525.5h0M334.7 522.8h0M336.0 506.7h0M342.1 515.8h0M337.6 538.4h0M337.8 503.3h0M335.5 524.9h0M339.9 519.1h0M334.2 522.6h0M341.3 516.3h0M337.6 506.0h0M341.1 521.8h0M339.7 487.3h0M339.8 532.5h0M338.2 529.7h0M339.8 517.8h0M342.2 521.5h0M340.8 521.6h0M338.1 544.2h0M337.4 497.1h0M341.6 513.3h0M339.8 517.3h0M335.3 528.0h0M339.1 526.4h0M339.5 518.2h0M338.2 488.3h0M342.4 523.5h0M336.5 516.8h0M336.9 504.3h0M336.9 523.6h0M337.2 519.2h0M341.6 513.9h0M339.8 512.0h0M335.1 520.9h0M337.9 511.7h0M335.3 516.3h0M339.6 538.3h0M342.1 519.8h0M335.8 511.7h0M338.7 520.0h0M337.5 535.8h0M337.4 532.7h0M340.9 525.5h0M341.2 534.2h0M337.0 527.5h0M339.1 524.5h0M337.0 519.3h0M336.1 507.4h0M339.6 526.3h0M335.4 523.8h0M339.2 543.1h0M340.7 515.4h0M336.6 533.4h0M339.4 510.3h0M337.7 539.0h0M339.3 548.9h0M338.0 497.5h0M340.2 515.1h0M339.1 548.3h0M338.9 542.1h0M336.2 525.5h0M340.5 506.3h0M338.4 487.8h0M340.7 512.0h0M338.6 538.0h0M338.3 530.3h0M340.6 518.7h0M337.5 528.5h0M340.1 534.1h0M338.3 514.3h0M340.1 533.4h0M340.1 512.1h0M342.3 515.0h0M338.5 495.6h0M337.8 507.7h0M343.6 522.0h0M338.7 490.8h0M337.9 521.8h0M339.9 508.2h0M336.6 525.8h0M341.2 505.3h0M340.4 509.9h0M339.8 512.1h0M336.6 521.6h0M340.9 530.3h0M341.9 527.4h0M341.1 526.1h0M342.4 525.7h0M334.6 521.0h0M340.7 515.0h0M341.0 508.9h0M338.6 532.1h0M335.1 516.7h0M339.1 525.1h0M337.8 499.7h0M334.9 515.6h0M340.7 502.9h0M341.4 515.6h0M339.8 525.8h0M340.7 515.7h0M340.2 525.1h0M338.5 503.8h0M335.5 516.9h0M336.9 516.6h0M338.8 520.8h0M339.3 510.3h0M336.9 524.4h0M336.5 533.4h0M337.6 530.1h0M337.9 493.7h0M342.8 520.5h0M336.4 515.3h0M337.6 521.7h0M338.9 501.2h0M336.6 526.7h0M338.7 519.3h0M338.9 537.3h0M337.6 490.4h0M342.7 517.8h0M339.1 519.7h0M336.4 532.0h0M342.4 527.7h0M336.6 509.1h0M340.4 514.5h0M338.6 526.8h0M336.5 518.6h0M337.8 512.6h0" stroke="#3eaad8" stroke-width="1.6" stroke-linecap="round"/><path d="M347.5 525.6h0M353.0 523.5h0M350.1 517.3h0M347.7 525.0h0M348.8 524.2h0M348.7 531.9h0M352.7 516.5h0M350.2 502.3h0M352.7 537.4h0M350.2 507.6h0M353.9 529.4h0M353.9 527.0h0M350.5 550.8h0M351.9 514.3h0M349.3 540.3h0M348.5 511.1h0M350.9 514.8h0M346.9 530.0h0M350.1 515.5h0M351.3 529.7h0M352.4 530.2h0M352.2 512.4h0M348.4 534.8h0M353.2 524.7h0M350.3 548.9h0M350.6 496.1h0M350.2 507.3h0M353.1 528.8h0M349.0 517.6h0M346.5 522.9h0M351.7 542.0h0M351.5 522.0h0M350.9 503.7h0M348.4 513.0h0M347.8 526.8h0M351.1 534.8h0M352.0 532.9h0M351.7 525.5h0M350.9 518.4h0M351.0 511.2h0M348.2 516.7h0M350.0 516.2h0M349.6 541.1h0M352.2 524.3h0M350.4 511.7h0M352.0 530.5h0M351.9 523.7h0M351.3 499.4h0M351.2 553.1h0M349.0 545.4h0M351.4 517.4h0M349.6 537.0h0M347.1 524.0h0M350.1 530.2h0M352.9 531.4h0M352.3 533.4h0M347.1 525.0h0M348.8 513.6h0M351.5 534.5h0M354.1 523.9h0M346.9 523.6h0M347.5 533.8h0M351.7 532.8h0M350.6 553.3h0M352.7 522.0h0M348.0 529.8h0M350.3 508.3h0M351.6 509.7h0M349.6 518.8h0M349.6 520.1h0M346.5 525.0h0M352.1 516.6h0M350.1 545.2h0M349.3 524.7h0M351.5 522.4h0M351.8 541.8h0M352.6 534.9h0M349.2 533.6h0M350.7 543.6h0M349.5 533.3h0" stroke="#3eaad8" stroke-width="1.6" stroke-linecap="round"/><rect x="261.9" y="510.4" width="8.6" height="2.5" fill="#0a4ee0" /><rect x="273.9" y="514.6" width="8.6" height="2.5" fill="#0a4ee0" /><rect x="286" y="520.9" width="8.6" height="2.5" fill="#0a4ee0" /><rect x="298.2" y="527.8" width="8.6" height="2.5" fill="#0a4ee0" /><rect x="310.2" y="509.1" width="8.6" height="2.5" fill="#0a4ee0" /><rect x="322.4" y="515.5" width="8.6" height="2.5" fill="#0a4ee0" /><rect x="334.4" y="522" width="8.6" height="2.5" fill="#0a4ee0" /><rect x="346" y="526.6" width="8.6" height="2.5" fill="#0a4ee0" /><rect x="257.6" y="452.2" width="102.1" height="113.0" fill="none" stroke="#444" stroke-width="0.9"/><line x1="309.2" y1="452.2" x2="309.2" y2="565.2" stroke="#444" stroke-width="1.1" /><line x1="257.6" y1="519.9" x2="359.7" y2="519.9" stroke="#444" stroke-width="0.9" stroke-dasharray="1.2 1.2"/><line x1="254.8" y1="452" x2="257.6" y2="452" stroke="#333" stroke-width="0.9" /><text x="254.2" y="455.5" font-size="9.9" text-anchor="end">15</text><line x1="254.8" y1="474.6" x2="257.6" y2="474.6" stroke="#333" stroke-width="0.9" /><text x="254.2" y="478.1" font-size="9.9" text-anchor="end">10</text><line x1="254.8" y1="497.2" x2="257.6" y2="497.2" stroke="#333" stroke-width="0.9" /><text x="254.2" y="500.7" font-size="9.9" text-anchor="end">5</text><line x1="254.8" y1="519.8" x2="257.6" y2="519.8" stroke="#333" stroke-width="0.9" /><text x="254.2" y="523.3" font-size="9.9" text-anchor="end">0</text><line x1="254.8" y1="542.4" x2="257.6" y2="542.4" stroke="#333" stroke-width="0.9" /><text x="254.2" y="545.9" font-size="9.9" text-anchor="end">-5</text><line x1="254.8" y1="565" x2="257.6" y2="565" stroke="#333" stroke-width="0.9" /><text x="254.2" y="568.5" font-size="9.9" text-anchor="end">-10</text><line x1="265.2" y1="465.8" x2="305" y2="465.8" stroke="#444" stroke-width="0.8" /><text x="285.1" y="463.5" font-size="5.3" text-anchor="middle" fill="#333">p&lt;2.22e-16</text><line x1="277.1" y1="481.1" x2="305" y2="481.1" stroke="#444" stroke-width="0.8" /><text x="291.1" y="478.8" font-size="5.3" text-anchor="middle" fill="#333">p=1.1e-12</text><line x1="285.6" y1="492.4" x2="305" y2="492.4" stroke="#444" stroke-width="0.8" /><text x="295.3" y="490.1" font-size="5.3" text-anchor="middle" fill="#333">p=0.0073</text><line x1="313.2" y1="465.5" x2="352.9" y2="465.5" stroke="#444" stroke-width="0.8" /><text x="333" y="463.2" font-size="5.3" text-anchor="middle" fill="#333">p&lt;2.22e-16</text><line x1="325" y1="474.4" x2="352.9" y2="474.4" stroke="#444" stroke-width="0.8" /><text x="338.9" y="472.1" font-size="5.3" text-anchor="middle" fill="#333">p=4.7e-8</text><line x1="332.3" y1="483.9" x2="352.9" y2="483.9" stroke="#444" stroke-width="0.8" /><text x="342.6" y="481.6" font-size="5.3" text-anchor="middle" fill="#333">p=0.0865</text><line x1="276.8" y1="549.8" x2="292.9" y2="549.8" stroke="#444" stroke-width="0.8" /><text x="284.9" y="554.5" font-size="5.3" text-anchor="middle" fill="#333">p=1.6e-10</text><line x1="263.9" y1="557.6" x2="292.1" y2="557.6" stroke="#444" stroke-width="0.8" /><text x="278" y="562.6" font-size="5.3" text-anchor="middle" fill="#333">p&lt;2.22e-16</text><line x1="324.5" y1="549.8" x2="342" y2="549.8" stroke="#444" stroke-width="0.8" /><text x="333.2" y="554.5" font-size="5.3" text-anchor="middle" fill="#333">p=1.3e-8</text><line x1="313" y1="557.6" x2="343" y2="557.6" stroke="#444" stroke-width="0.8" /><text x="328" y="562.6" font-size="5.3" text-anchor="middle" fill="#333">p&lt;2.22e-16</text><circle cx="259" cy="445.6" r="2.6" fill="#ff8000" /><text x="262.3" y="449.2">Inflorescence</text><circle cx="322" cy="445.6" r="2.6" fill="#3eaad8" /><text x="325.3" y="449.2">Seedling</text><line x1="266.2" y1="565.2" x2="266.2" y2="568.2" stroke="#333" stroke-width="0.9" /><text x="269.1" y="576.4" font-size="10.4" text-anchor="end" transform="rotate(-45 269.1 576.4)">IF_All</text><line x1="278.2" y1="565.2" x2="278.2" y2="568.2" stroke="#333" stroke-width="0.9" /><text x="281.1" y="576.4" font-size="10.4" text-anchor="end" transform="rotate(-45 281.1 576.4)">All_Plastid</text><line x1="290.3" y1="565.2" x2="290.3" y2="568.2" stroke="#333" stroke-width="0.9" /><text x="293.2" y="576.4" font-size="10.4" text-anchor="end" transform="rotate(-45 293.2 576.4)">PhANGs</text><line x1="302.5" y1="565.2" x2="302.5" y2="568.2" stroke="#333" stroke-width="0.9" /><text x="305.4" y="576.4" font-size="10.4" text-anchor="end" transform="rotate(-45 305.4 576.4)">PS apparatus</text><line x1="314.5" y1="565.2" x2="314.5" y2="568.2" stroke="#333" stroke-width="0.9" /><text x="317.4" y="576.4" font-size="10.4" text-anchor="end" transform="rotate(-45 317.4 576.4)">S_All</text><line x1="326.7" y1="565.2" x2="326.7" y2="568.2" stroke="#333" stroke-width="0.9" /><text x="329.6" y="576.4" font-size="10.4" text-anchor="end" transform="rotate(-45 329.6 576.4)">All_Plastid</text><line x1="338.7" y1="565.2" x2="338.7" y2="568.2" stroke="#333" stroke-width="0.9" /><text x="341.6" y="576.4" font-size="10.4" text-anchor="end" transform="rotate(-45 341.6 576.4)">PhANGs</text><line x1="350.3" y1="565.2" x2="350.3" y2="568.2" stroke="#333" stroke-width="0.9" /><text x="353.2" y="576.4" font-size="10.4" text-anchor="end" transform="rotate(-45 353.2 576.4)">PS apparatus</text><text x="242.5" y="511" font-size="11" text-anchor="middle" font-weight="bold" transform="rotate(-90 242.5 511)">Log2 rPS in WT</text></g><g id="pj"><text x="364.5" y="452" font-size="14" font-weight="bold">j</text><path d="M417.7 476.0 417.1 477.5 416.8 479.0 416.7 480.5 416.5 481.9 416.4 483.4 416.2 484.9 416.1 486.4 415.9 487.9 415.8 489.4 415.6 490.8 415.5 492.3 415.4 493.8 415.2 495.3 415.1 496.8 415.0 498.3 414.8 499.7 414.7 501.2 414.6 502.7 414.4 504.2 414.3 505.7 414.2 507.2 414.0 508.6 413.9 510.1 413.8 511.6 413.7 513.1 413.5 514.6 413.6 516.1 413.7 517.5 413.7 519.0 413.9 520.5 414.2 522.0 414.6 523.5 414.9 525.0 415.2 526.4 415.6 527.9 416.0 529.4 416.2 530.9 416.5 532.4 416.7 533.9 416.9 535.3 417.0 536.8 417.2 538.3 417.3 539.8 417.3 541.3 417.4 542.8 417.4 544.2 417.5 545.7 417.5 547.2 417.6 548.7 419.4 548.7 419.5 547.2 419.5 545.7 419.6 544.2 419.6 542.8 419.7 541.3 419.7 539.8 419.8 538.3 420.0 536.8 420.1 535.3 420.3 533.9 420.5 532.4 420.8 530.9 421.0 529.4 421.4 527.9 421.8 526.4 422.1 525.0 422.4 523.5 422.8 522.0 423.1 520.5 423.3 519.0 423.3 517.5 423.4 516.1 423.5 514.6 423.3 513.1 423.2 511.6 423.1 510.1 423.0 508.6 422.8 507.2 422.7 505.7 422.6 504.2 422.4 502.7 422.3 501.2 422.2 499.7 422.0 498.3 421.9 496.8 421.8 495.3 421.6 493.8 421.5 492.3 421.4 490.8 421.2 489.4 421.1 487.9 420.9 486.4 420.8 484.9 420.6 483.4 420.5 481.9 420.3 480.5 420.2 479.0 419.9 477.5 419.3 476.0Z" fill="#ff8000"/><g fill="#fff" stroke="#ff8000" stroke-width="0.6"><circle cx="418.5" cy="541.0" r="1.2"/><circle cx="418.5" cy="543.5" r="1.2"/><circle cx="418.5" cy="546.0" r="1.2"/><circle cx="418.5" cy="548.5" r="1.2"/></g><path d="M430.3 480.0 429.9 481.1 429.6 482.1 429.5 483.2 429.3 484.2 429.2 485.3 429.1 486.4 429.0 487.4 428.9 488.5 428.7 489.6 428.6 490.6 428.5 491.7 428.4 492.7 428.2 493.8 428.1 494.9 428.0 495.9 427.9 497.0 427.8 498.0 427.7 499.1 427.6 500.2 427.5 501.2 427.4 502.3 427.3 503.3 427.2 504.4 427.1 505.5 427.0 506.5 426.9 507.6 426.8 508.7 426.7 509.7 426.6 510.8 426.6 511.8 426.5 512.9 426.4 514.0 426.3 515.0 426.4 516.1 426.5 517.1 426.6 518.2 426.6 519.3 426.8 520.3 427.0 521.4 427.2 522.4 427.4 523.5 427.6 524.6 427.9 525.6 428.2 526.7 428.5 527.8 428.8 528.8 429.1 529.9 429.5 530.9 429.9 532.0 432.3 532.0 432.7 530.9 433.1 529.9 433.4 528.8 433.7 527.8 434.0 526.7 434.3 525.6 434.6 524.6 434.8 523.5 435.0 522.4 435.2 521.4 435.4 520.3 435.6 519.3 435.6 518.2 435.7 517.1 435.8 516.1 435.9 515.0 435.8 514.0 435.7 512.9 435.6 511.8 435.6 510.8 435.5 509.7 435.4 508.7 435.3 507.6 435.2 506.5 435.1 505.5 435.0 504.4 434.9 503.3 434.8 502.3 434.7 501.2 434.6 500.2 434.5 499.1 434.4 498.0 434.3 497.0 434.2 495.9 434.1 494.9 434.0 493.8 433.8 492.7 433.7 491.7 433.6 490.6 433.5 489.6 433.3 488.5 433.2 487.4 433.1 486.4 433.0 485.3 432.9 484.2 432.7 483.2 432.6 482.1 432.3 481.1 431.9 480.0Z" fill="#ff8000"/><g fill="#fff" stroke="#ff8000" stroke-width="0.6"><circle cx="431.1" cy="527.0" r="1.2"/><circle cx="431.1" cy="530.0" r="1.2"/><circle cx="431.1" cy="533.0" r="1.2"/></g><g fill="none" stroke="#ff8000" stroke-width="0.6"><circle cx="444.5" cy="510.6" r="1.3"/><circle cx="445.4" cy="508.3" r="1.3"/><circle cx="444.3" cy="505.1" r="1.3"/><circle cx="443.0" cy="509.3" r="1.3"/><circle cx="442.8" cy="502.1" r="1.3"/><circle cx="448.6" cy="502.8" r="1.3"/><circle cx="442.6" cy="493.2" r="1.3"/><circle cx="441.2" cy="507.6" r="1.3"/><circle cx="447.6" cy="496.8" r="1.3"/><circle cx="448.2" cy="504.0" r="1.3"/><circle cx="445.1" cy="479.8" r="1.3"/><circle cx="444.5" cy="499.2" r="1.3"/><circle cx="448.5" cy="505.2" r="1.3"/><circle cx="444.0" cy="504.8" r="1.3"/><circle cx="440.3" cy="503.2" r="1.3"/><circle cx="444.3" cy="496.9" r="1.3"/><circle cx="444.9" cy="506.0" r="1.3"/><circle cx="445.1" cy="505.5" r="1.3"/><circle cx="448.2" cy="503.7" r="1.3"/><circle cx="441.3" cy="500.2" r="1.3"/><circle cx="446.7" cy="493.5" r="1.3"/><circle cx="444.9" cy="503.7" r="1.3"/><circle cx="445.5" cy="488.8" r="1.3"/><circle cx="444.4" cy="514.1" r="1.3"/><circle cx="443.1" cy="500.3" r="1.3"/><circle cx="443.5" cy="498.3" r="1.3"/><circle cx="442.8" cy="501.5" r="1.3"/><circle cx="444.5" cy="491.6" r="1.3"/><circle cx="445.2" cy="511.6" r="1.3"/><circle cx="445.4" cy="522.4" r="1.3"/><circle cx="442.7" cy="509.4" r="1.3"/><circle cx="444.2" cy="502.6" r="1.3"/><circle cx="444.8" cy="515.5" r="1.3"/><circle cx="447.1" cy="498.3" r="1.3"/><circle cx="446.6" cy="502.7" r="1.3"/><circle cx="445.4" cy="493.6" r="1.3"/><circle cx="446.2" cy="500.7" r="1.3"/><circle cx="444.5" cy="515.5" r="1.3"/><circle cx="447.1" cy="505.1" r="1.3"/><circle cx="447.7" cy="503.0" r="1.3"/><circle cx="445.3" cy="502.9" r="1.3"/><circle cx="441.5" cy="503.8" r="1.3"/><circle cx="444.1" cy="504.9" r="1.3"/><circle cx="442.7" cy="500.7" r="1.3"/><circle cx="442.0" cy="502.0" r="1.3"/><circle cx="443.8" cy="491.4" r="1.3"/><circle cx="447.4" cy="500.3" r="1.3"/><circle cx="443.5" cy="506.2" r="1.3"/><circle cx="444.2" cy="495.7" r="1.3"/><circle cx="443.9" cy="497.2" r="1.3"/><circle cx="442.8" cy="509.5" r="1.3"/><circle cx="445.1" cy="492.6" r="1.3"/><circle cx="444.2" cy="495.2" r="1.3"/><circle cx="447.3" cy="508.9" r="1.3"/><circle cx="445.3" cy="492.9" r="1.3"/><circle cx="448.3" cy="498.4" r="1.3"/><circle cx="446.1" cy="513.8" r="1.3"/><circle cx="444.6" cy="500.2" r="1.3"/><circle cx="441.8" cy="508.4" r="1.3"/><circle cx="442.8" cy="508.0" r="1.3"/><circle cx="443.9" cy="484.0" r="1.3"/><circle cx="446.3" cy="497.1" r="1.3"/><circle cx="443.3" cy="514.3" r="1.3"/><circle cx="445.8" cy="498.7" r="1.3"/><circle cx="443.2" cy="501.2" r="1.3"/><circle cx="444.6" cy="515.3" r="1.3"/><circle cx="445.9" cy="492.0" r="1.3"/><circle cx="444.3" cy="521.6" r="1.3"/><circle cx="441.9" cy="504.2" r="1.3"/><circle cx="442.9" cy="504.4" r="1.3"/><circle cx="445.6" cy="480.4" r="1.3"/><circle cx="445.1" cy="504.0" r="1.3"/><circle cx="443.4" cy="508.5" r="1.3"/><circle cx="441.9" cy="500.5" r="1.3"/><circle cx="443.1" cy="488.6" r="1.3"/><circle cx="443.8" cy="493.5" r="1.3"/><circle cx="445.2" cy="491.2" r="1.3"/><circle cx="444.3" cy="500.5" r="1.3"/><circle cx="446.6" cy="509.6" r="1.3"/><circle cx="446.3" cy="487.8" r="1.3"/><circle cx="445.3" cy="500.6" r="1.3"/><circle cx="443.5" cy="500.6" r="1.3"/><circle cx="447.0" cy="500.5" r="1.3"/><circle cx="441.0" cy="503.8" r="1.3"/><circle cx="447.0" cy="503.2" r="1.3"/><circle cx="447.0" cy="495.9" r="1.3"/><circle cx="446.4" cy="509.3" r="1.3"/><circle cx="441.1" cy="502.9" r="1.3"/><circle cx="445.3" cy="500.2" r="1.3"/><circle cx="445.3" cy="518.9" r="1.3"/><circle cx="444.0" cy="506.1" r="1.3"/><circle cx="446.6" cy="494.5" r="1.3"/><circle cx="444.0" cy="520.3" r="1.3"/><circle cx="445.0" cy="503.5" r="1.3"/><circle cx="445.1" cy="497.9" r="1.3"/><circle cx="446.6" cy="496.9" r="1.3"/><circle cx="444.4" cy="489.2" r="1.3"/><circle cx="443.1" cy="495.8" r="1.3"/><circle cx="446.2" cy="497.0" r="1.3"/><circle cx="441.8" cy="498.2" r="1.3"/><circle cx="444.4" cy="523.7" r="1.3"/><circle cx="444.4" cy="502.6" r="1.3"/><circle cx="446.4" cy="495.8" r="1.3"/><circle cx="444.1" cy="499.1" r="1.3"/><circle cx="445.2" cy="501.4" r="1.3"/><circle cx="445.4" cy="490.1" r="1.3"/><circle cx="446.3" cy="502.2" r="1.3"/><circle cx="448.8" cy="501.7" r="1.3"/><circle cx="444.6" cy="514.5" r="1.3"/><circle cx="445.3" cy="500.4" r="1.3"/></g><g fill="none" stroke="#ff8000" stroke-width="0.6"><circle cx="457.0" cy="483.5" r="1.3"/><circle cx="458.3" cy="494.0" r="1.3"/><circle cx="460.7" cy="495.5" r="1.3"/><circle cx="459.1" cy="494.2" r="1.3"/><circle cx="454.7" cy="500.3" r="1.3"/><circle cx="454.6" cy="493.3" r="1.3"/><circle cx="455.8" cy="501.7" r="1.3"/><circle cx="457.5" cy="507.6" r="1.3"/><circle cx="456.4" cy="489.2" r="1.3"/><circle cx="459.2" cy="494.1" r="1.3"/><circle cx="455.1" cy="500.5" r="1.3"/><circle cx="456.1" cy="487.6" r="1.3"/><circle cx="457.9" cy="493.2" r="1.3"/><circle cx="459.5" cy="501.1" r="1.3"/><circle cx="454.9" cy="498.7" r="1.3"/><circle cx="456.6" cy="510.1" r="1.3"/><circle cx="455.2" cy="501.9" r="1.3"/><circle cx="454.3" cy="506.0" r="1.3"/><circle cx="458.7" cy="496.4" r="1.3"/><circle cx="453.6" cy="498.8" r="1.3"/><circle cx="457.8" cy="508.1" r="1.3"/><circle cx="458.3" cy="502.7" r="1.3"/><circle cx="457.4" cy="510.5" r="1.3"/><circle cx="454.0" cy="496.2" r="1.3"/><circle cx="454.9" cy="492.2" r="1.3"/><circle cx="457.4" cy="502.8" r="1.3"/><circle cx="457.3" cy="491.4" r="1.3"/><circle cx="455.3" cy="490.2" r="1.3"/><circle cx="453.3" cy="498.0" r="1.3"/><circle cx="459.3" cy="502.8" r="1.3"/><circle cx="455.8" cy="497.4" r="1.3"/><circle cx="458.7" cy="504.9" r="1.3"/><circle cx="454.7" cy="498.5" r="1.3"/><circle cx="455.6" cy="495.7" r="1.3"/><circle cx="460.9" cy="500.6" r="1.3"/><circle cx="454.9" cy="502.3" r="1.3"/><circle cx="456.8" cy="492.1" r="1.3"/><circle cx="457.3" cy="501.0" r="1.3"/><circle cx="458.5" cy="492.7" r="1.3"/><circle cx="456.9" cy="517.2" r="1.3"/><circle cx="458.7" cy="500.4" r="1.3"/><circle cx="455.6" cy="494.1" r="1.3"/><circle cx="457.9" cy="487.8" r="1.3"/><circle cx="454.1" cy="494.9" r="1.3"/><circle cx="454.9" cy="496.2" r="1.3"/><circle cx="453.6" cy="501.7" r="1.3"/><circle cx="454.3" cy="503.9" r="1.3"/><circle cx="459.0" cy="504.8" r="1.3"/><circle cx="457.0" cy="499.0" r="1.3"/><circle cx="459.6" cy="503.0" r="1.3"/><circle cx="461.4" cy="500.6" r="1.3"/><circle cx="454.9" cy="497.4" r="1.3"/><circle cx="459.1" cy="495.0" r="1.3"/><circle cx="461.2" cy="498.4" r="1.3"/><circle cx="455.9" cy="502.7" r="1.3"/><circle cx="455.1" cy="492.4" r="1.3"/><circle cx="457.0" cy="501.6" r="1.3"/><circle cx="457.4" cy="483.7" r="1.3"/><circle cx="458.5" cy="493.8" r="1.3"/><circle cx="457.8" cy="503.5" r="1.3"/><circle cx="456.1" cy="506.1" r="1.3"/><circle cx="455.1" cy="505.2" r="1.3"/><circle cx="456.1" cy="504.1" r="1.3"/><circle cx="457.1" cy="495.6" r="1.3"/><circle cx="456.7" cy="520.4" r="1.3"/><circle cx="455.7" cy="501.7" r="1.3"/><circle cx="458.8" cy="511.0" r="1.3"/><circle cx="457.1" cy="513.3" r="1.3"/><circle cx="454.8" cy="495.3" r="1.3"/><circle cx="457.6" cy="516.8" r="1.3"/></g><path d="M475.0 468.0 474.7 469.7 474.5 471.4 474.2 473.1 473.9 474.9 473.7 476.6 473.4 478.3 473.1 480.0 472.9 481.7 472.8 483.4 472.6 485.1 472.4 486.9 472.2 488.6 472.1 490.3 471.9 492.0 471.8 493.7 471.7 495.4 471.5 497.1 471.4 498.9 471.3 500.6 471.1 502.3 471.0 504.0 470.9 505.7 470.7 507.4 470.6 509.1 470.5 510.9 470.4 512.6 470.5 514.3 470.6 516.0 470.7 517.7 470.8 519.4 470.9 521.1 471.0 522.9 471.1 524.6 471.3 526.3 471.6 528.0 471.8 529.7 472.1 531.4 472.3 533.1 472.6 534.9 472.9 536.6 473.3 538.3 473.6 540.0 473.8 541.7 473.9 543.4 474.1 545.1 474.3 546.9 474.5 548.6 474.6 550.3 474.8 552.0 476.4 552.0 476.6 550.3 476.7 548.6 476.9 546.9 477.1 545.1 477.3 543.4 477.4 541.7 477.6 540.0 477.9 538.3 478.3 536.6 478.6 534.9 478.9 533.1 479.1 531.4 479.4 529.7 479.7 528.0 479.9 526.3 480.1 524.6 480.2 522.9 480.3 521.1 480.4 519.4 480.5 517.7 480.6 516.0 480.7 514.3 480.8 512.6 480.7 510.9 480.6 509.1 480.5 507.4 480.3 505.7 480.2 504.0 480.1 502.3 479.9 500.6 479.8 498.9 479.7 497.1 479.5 495.4 479.4 493.7 479.3 492.0 479.1 490.3 479.0 488.6 478.8 486.9 478.6 485.1 478.4 483.4 478.3 481.7 478.1 480.0 477.8 478.3 477.5 476.6 477.3 474.9 477.0 473.1 476.7 471.4 476.5 469.7 476.2 468.0Z" fill="#3eaad8"/><g fill="#fff" stroke="#3eaad8" stroke-width="0.6"><circle cx="475.6" cy="463.5" r="1.2"/><circle cx="475.6" cy="468.0" r="1.2"/><circle cx="475.6" cy="471.0" r="1.2"/><circle cx="475.6" cy="474.0" r="1.2"/><circle cx="475.6" cy="545.0" r="1.2"/><circle cx="475.6" cy="548.0" r="1.2"/><circle cx="475.6" cy="550.5" r="1.2"/><circle cx="475.6" cy="552.6" r="1.2"/></g><path d="M487.4 476.0 487.0 477.2 486.6 478.4 486.4 479.7 486.2 480.9 486.0 482.1 485.8 483.3 485.6 484.6 485.4 485.8 485.2 487.0 485.0 488.2 484.8 489.5 484.6 490.7 484.5 491.9 484.4 493.1 484.3 494.4 484.1 495.6 484.0 496.8 483.9 498.0 483.8 499.3 483.7 500.5 483.6 501.7 483.5 502.9 483.4 504.2 483.4 505.4 483.3 506.6 483.2 507.8 483.3 509.1 483.4 510.3 483.5 511.5 483.6 512.7 483.7 514.0 483.8 515.2 483.9 516.4 484.0 517.6 484.1 518.9 484.2 520.1 484.4 521.3 484.6 522.5 484.8 523.8 484.9 525.0 485.1 526.2 485.3 527.4 485.5 528.7 485.7 529.9 485.9 531.1 486.2 532.3 486.5 533.6 486.7 534.8 487.0 536.0 489.4 536.0 489.7 534.8 489.9 533.6 490.2 532.3 490.5 531.1 490.7 529.9 490.9 528.7 491.1 527.4 491.3 526.2 491.5 525.0 491.6 523.8 491.8 522.5 492.0 521.3 492.2 520.1 492.3 518.9 492.4 517.6 492.5 516.4 492.6 515.2 492.7 514.0 492.8 512.7 492.9 511.5 493.0 510.3 493.1 509.1 493.2 507.8 493.1 506.6 493.0 505.4 493.0 504.2 492.9 502.9 492.8 501.7 492.7 500.5 492.6 499.3 492.5 498.0 492.4 496.8 492.3 495.6 492.1 494.4 492.0 493.1 491.9 491.9 491.8 490.7 491.6 489.5 491.4 488.2 491.2 487.0 491.0 485.8 490.8 484.6 490.6 483.3 490.4 482.1 490.2 480.9 490.0 479.7 489.8 478.4 489.4 477.2 489.0 476.0Z" fill="#3eaad8"/><g fill="#fff" stroke="#3eaad8" stroke-width="0.6"><circle cx="488.2" cy="473.2" r="1.2"/><circle cx="488.2" cy="476.0" r="1.2"/><circle cx="488.2" cy="531.0" r="1.2"/><circle cx="488.2" cy="534.0" r="1.2"/><circle cx="488.2" cy="537.0" r="1.2"/></g><g fill="none" stroke="#3eaad8" stroke-width="0.6"><circle cx="500.8" cy="498.9" r="1.3"/><circle cx="497.7" cy="501.3" r="1.3"/><circle cx="502.0" cy="498.2" r="1.3"/><circle cx="503.8" cy="490.6" r="1.3"/><circle cx="501.3" cy="507.8" r="1.3"/><circle cx="498.4" cy="503.7" r="1.3"/><circle cx="500.4" cy="534.7" r="1.3"/><circle cx="501.3" cy="477.2" r="1.3"/><circle cx="503.2" cy="503.7" r="1.3"/><circle cx="504.1" cy="500.2" r="1.3"/><circle cx="503.6" cy="499.9" r="1.3"/><circle cx="501.0" cy="507.7" r="1.3"/><circle cx="504.1" cy="495.5" r="1.3"/><circle cx="501.6" cy="498.7" r="1.3"/><circle cx="502.3" cy="490.2" r="1.3"/><circle cx="497.1" cy="503.6" r="1.3"/><circle cx="501.1" cy="500.2" r="1.3"/><circle cx="499.9" cy="484.3" r="1.3"/><circle cx="499.2" cy="494.6" r="1.3"/><circle cx="499.4" cy="498.4" r="1.3"/><circle cx="501.9" cy="502.1" r="1.3"/><circle cx="499.0" cy="489.0" r="1.3"/><circle cx="502.8" cy="504.8" r="1.3"/><circle cx="500.6" cy="510.3" r="1.3"/><circle cx="498.8" cy="496.6" r="1.3"/><circle cx="503.2" cy="487.5" r="1.3"/><circle cx="502.1" cy="490.3" r="1.3"/><circle cx="500.2" cy="509.7" r="1.3"/><circle cx="497.8" cy="501.5" r="1.3"/><circle cx="501.1" cy="490.6" r="1.3"/><circle cx="502.9" cy="492.5" r="1.3"/><circle cx="501.3" cy="512.0" r="1.3"/><circle cx="499.8" cy="506.1" r="1.3"/><circle cx="498.4" cy="506.3" r="1.3"/><circle cx="499.6" cy="491.0" r="1.3"/><circle cx="501.8" cy="535.3" r="1.3"/><circle cx="498.6" cy="495.9" r="1.3"/><circle cx="505.5" cy="499.1" r="1.3"/><circle cx="503.0" cy="496.2" r="1.3"/><circle cx="501.0" cy="523.3" r="1.3"/><circle cx="498.8" cy="505.4" r="1.3"/><circle cx="500.9" cy="502.3" r="1.3"/><circle cx="505.3" cy="498.8" r="1.3"/><circle cx="498.7" cy="507.2" r="1.3"/><circle cx="498.7" cy="500.3" r="1.3"/><circle cx="497.2" cy="500.1" r="1.3"/><circle cx="502.6" cy="492.7" r="1.3"/><circle cx="503.7" cy="510.5" r="1.3"/><circle cx="501.5" cy="488.6" r="1.3"/><circle cx="500.5" cy="516.8" r="1.3"/><circle cx="502.7" cy="519.3" r="1.3"/><circle cx="502.0" cy="501.3" r="1.3"/><circle cx="504.2" cy="492.3" r="1.3"/><circle cx="500.3" cy="494.2" r="1.3"/><circle cx="499.2" cy="490.5" r="1.3"/><circle cx="498.1" cy="506.1" r="1.3"/><circle cx="499.1" cy="498.8" r="1.3"/><circle cx="501.1" cy="534.3" r="1.3"/><circle cx="503.4" cy="497.7" r="1.3"/><circle cx="500.9" cy="497.1" r="1.3"/><circle cx="499.6" cy="507.0" r="1.3"/><circle cx="502.8" cy="515.1" r="1.3"/><circle cx="501.9" cy="501.8" r="1.3"/><circle cx="501.8" cy="491.3" r="1.3"/><circle cx="503.3" cy="491.7" r="1.3"/><circle cx="502.4" cy="506.7" r="1.3"/><circle cx="499.6" cy="509.8" r="1.3"/><circle cx="502.1" cy="535.6" r="1.3"/><circle cx="498.4" cy="503.8" r="1.3"/><circle cx="499.1" cy="509.6" r="1.3"/><circle cx="502.3" cy="506.0" r="1.3"/><circle cx="501.9" cy="502.1" r="1.3"/><circle cx="499.7" cy="510.9" r="1.3"/><circle cx="502.6" cy="494.2" r="1.3"/><circle cx="498.6" cy="493.2" r="1.3"/><circle cx="501.0" cy="497.3" r="1.3"/><circle cx="505.2" cy="499.0" r="1.3"/><circle cx="502.0" cy="525.2" r="1.3"/><circle cx="501.7" cy="511.9" r="1.3"/><circle cx="503.1" cy="507.0" r="1.3"/><circle cx="501.9" cy="514.8" r="1.3"/><circle cx="498.8" cy="498.5" r="1.3"/><circle cx="501.9" cy="534.7" r="1.3"/><circle cx="501.6" cy="516.9" r="1.3"/><circle cx="501.8" cy="493.1" r="1.3"/><circle cx="505.3" cy="498.2" r="1.3"/><circle cx="501.7" cy="496.4" r="1.3"/><circle cx="500.0" cy="493.8" r="1.3"/><circle cx="501.0" cy="522.2" r="1.3"/><circle cx="501.7" cy="499.3" r="1.3"/><circle cx="502.9" cy="514.0" r="1.3"/><circle cx="504.1" cy="503.0" r="1.3"/><circle cx="500.8" cy="486.7" r="1.3"/><circle cx="501.1" cy="500.0" r="1.3"/><circle cx="498.5" cy="509.0" r="1.3"/><circle cx="502.4" cy="497.4" r="1.3"/><circle cx="503.7" cy="496.3" r="1.3"/><circle cx="499.6" cy="489.8" r="1.3"/><circle cx="502.5" cy="500.8" r="1.3"/><circle cx="500.5" cy="522.5" r="1.3"/><circle cx="501.9" cy="482.1" r="1.3"/><circle cx="502.1" cy="514.7" r="1.3"/><circle cx="504.8" cy="502.6" r="1.3"/><circle cx="499.5" cy="495.1" r="1.3"/><circle cx="500.0" cy="517.8" r="1.3"/><circle cx="501.4" cy="519.4" r="1.3"/><circle cx="500.3" cy="530.8" r="1.3"/><circle cx="504.3" cy="500.0" r="1.3"/><circle cx="498.4" cy="499.6" r="1.3"/><circle cx="498.4" cy="505.5" r="1.3"/><circle cx="499.8" cy="515.0" r="1.3"/><circle cx="503.0" cy="499.2" r="1.3"/><circle cx="497.4" cy="497.1" r="1.3"/><circle cx="500.5" cy="498.9" r="1.3"/><circle cx="500.6" cy="482.0" r="1.3"/><circle cx="502.6" cy="512.7" r="1.3"/><circle cx="496.9" cy="500.6" r="1.3"/><circle cx="498.3" cy="500.7" r="1.3"/><circle cx="503.3" cy="504.1" r="1.3"/><circle cx="501.3" cy="510.2" r="1.3"/></g><g fill="none" stroke="#3eaad8" stroke-width="0.6"><circle cx="514.1" cy="486.7" r="1.3"/><circle cx="514.6" cy="517.1" r="1.3"/><circle cx="515.7" cy="492.5" r="1.3"/><circle cx="511.5" cy="493.0" r="1.3"/><circle cx="513.8" cy="500.7" r="1.3"/><circle cx="512.5" cy="494.3" r="1.3"/><circle cx="514.2" cy="502.4" r="1.3"/><circle cx="516.5" cy="496.0" r="1.3"/><circle cx="511.7" cy="491.2" r="1.3"/><circle cx="514.7" cy="495.1" r="1.3"/><circle cx="514.3" cy="502.4" r="1.3"/><circle cx="513.4" cy="491.9" r="1.3"/><circle cx="516.8" cy="498.0" r="1.3"/><circle cx="513.1" cy="496.4" r="1.3"/><circle cx="516.4" cy="498.5" r="1.3"/><circle cx="510.7" cy="493.1" r="1.3"/><circle cx="513.9" cy="488.8" r="1.3"/><circle cx="511.4" cy="497.5" r="1.3"/><circle cx="516.1" cy="502.9" r="1.3"/><circle cx="515.8" cy="495.2" r="1.3"/><circle cx="512.7" cy="487.1" r="1.3"/><circle cx="513.6" cy="501.3" r="1.3"/><circle cx="511.2" cy="496.2" r="1.3"/><circle cx="517.0" cy="499.2" r="1.3"/><circle cx="516.3" cy="485.8" r="1.3"/><circle cx="516.7" cy="501.4" r="1.3"/><circle cx="515.2" cy="492.9" r="1.3"/><circle cx="513.3" cy="505.0" r="1.3"/><circle cx="514.0" cy="490.7" r="1.3"/><circle cx="514.6" cy="478.0" r="1.3"/><circle cx="513.7" cy="492.1" r="1.3"/><circle cx="511.2" cy="499.6" r="1.3"/><circle cx="514.5" cy="498.7" r="1.3"/><circle cx="512.2" cy="502.4" r="1.3"/><circle cx="512.5" cy="489.3" r="1.3"/><circle cx="516.8" cy="497.0" r="1.3"/><circle cx="514.8" cy="485.0" r="1.3"/><circle cx="516.3" cy="489.0" r="1.3"/><circle cx="514.9" cy="482.8" r="1.3"/><circle cx="515.5" cy="497.4" r="1.3"/><circle cx="513.2" cy="505.5" r="1.3"/><circle cx="515.9" cy="496.2" r="1.3"/><circle cx="511.3" cy="496.5" r="1.3"/><circle cx="512.4" cy="505.9" r="1.3"/><circle cx="513.0" cy="491.0" r="1.3"/><circle cx="511.4" cy="496.3" r="1.3"/><circle cx="515.4" cy="501.7" r="1.3"/><circle cx="512.8" cy="489.6" r="1.3"/><circle cx="511.1" cy="498.7" r="1.3"/><circle cx="515.5" cy="484.7" r="1.3"/><circle cx="518.0" cy="491.9" r="1.3"/><circle cx="515.6" cy="488.8" r="1.3"/><circle cx="518.4" cy="493.9" r="1.3"/><circle cx="516.2" cy="489.5" r="1.3"/><circle cx="516.0" cy="483.8" r="1.3"/><circle cx="515.9" cy="493.4" r="1.3"/><circle cx="516.7" cy="492.7" r="1.3"/><circle cx="516.2" cy="499.5" r="1.3"/><circle cx="513.5" cy="479.2" r="1.3"/><circle cx="513.0" cy="498.4" r="1.3"/><circle cx="514.7" cy="482.7" r="1.3"/><circle cx="512.7" cy="495.4" r="1.3"/><circle cx="515.0" cy="480.1" r="1.3"/><circle cx="512.6" cy="507.0" r="1.3"/><circle cx="511.0" cy="495.5" r="1.3"/><circle cx="512.8" cy="494.0" r="1.3"/><circle cx="513.7" cy="484.6" r="1.3"/><circle cx="516.3" cy="500.6" r="1.3"/><circle cx="510.7" cy="490.8" r="1.3"/><circle cx="517.2" cy="495.4" r="1.3"/></g><rect x="414.2" y="511" width="8.6" height="2.5" fill="#0a4ee0" /><rect x="426.8" y="509.4" width="8.6" height="2.5" fill="#0a4ee0" /><rect x="440.4" y="500.4" width="8.6" height="2.5" fill="#0a4ee0" /><rect x="453" y="497.1" width="8.6" height="2.5" fill="#0a4ee0" /><rect x="471.3" y="511.6" width="8.6" height="2.5" fill="#0a4ee0" /><rect x="483.9" y="505.4" width="8.6" height="2.5" fill="#0a4ee0" /><rect x="496.9" y="497.8" width="8.6" height="2.5" fill="#0a4ee0" /><rect x="510" y="493.6" width="8.6" height="2.5" fill="#0a4ee0" /><rect x="409.8" y="451.3" width="113.4" height="113.2" fill="none" stroke="#444" stroke-width="0.9"/><line x1="466.9" y1="451.3" x2="466.9" y2="564.5" stroke="#444" stroke-width="1.1" /><line x1="409.8" y1="515.9" x2="523.2" y2="515.9" stroke="#444" stroke-width="0.9" stroke-dasharray="1.2 1.2"/><line x1="407" y1="451.4" x2="409.8" y2="451.4" stroke="#333" stroke-width="0.9" /><text x="405.4" y="454.9" font-size="9.9" text-anchor="end">8</text><line x1="407" y1="467.5" x2="409.8" y2="467.5" stroke="#333" stroke-width="0.9" /><text x="405.4" y="471" font-size="9.9" text-anchor="end">6</text><line x1="407" y1="483.6" x2="409.8" y2="483.6" stroke="#333" stroke-width="0.9" /><text x="405.4" y="487.1" font-size="9.9" text-anchor="end">4</text><line x1="407" y1="499.7" x2="409.8" y2="499.7" stroke="#333" stroke-width="0.9" /><text x="405.4" y="503.2" font-size="9.9" text-anchor="end">2</text><line x1="407" y1="515.8" x2="409.8" y2="515.8" stroke="#333" stroke-width="0.9" /><text x="405.4" y="519.3" font-size="9.9" text-anchor="end">0</text><line x1="407" y1="531.9" x2="409.8" y2="531.9" stroke="#333" stroke-width="0.9" /><text x="405.4" y="535.4" font-size="9.9" text-anchor="end">-2</text><line x1="407" y1="548" x2="409.8" y2="548" stroke="#333" stroke-width="0.9" /><text x="405.4" y="551.5" font-size="9.9" text-anchor="end">-4</text><line x1="407" y1="564.1" x2="409.8" y2="564.1" stroke="#333" stroke-width="0.9" /><text x="405.4" y="567.6" font-size="9.9" text-anchor="end">-6</text><line x1="418.4" y1="460.5" x2="458.7" y2="460.5" stroke="#444" stroke-width="0.8" /><text x="438.5" y="458.2" font-size="5.3" text-anchor="middle" fill="#333">p=1.2e-15</text><line x1="430.2" y1="468.5" x2="458.7" y2="468.5" stroke="#444" stroke-width="0.8" /><text x="444.4" y="466.2" font-size="5.3" text-anchor="middle" fill="#333">p=1.7e-10</text><line x1="441.8" y1="477.4" x2="458.7" y2="477.4" stroke="#444" stroke-width="0.8" /><text x="450.2" y="475.1" font-size="5.3" text-anchor="middle" fill="#333">p=0.0291</text><line x1="475.3" y1="459.4" x2="514.8" y2="459.4" stroke="#444" stroke-width="0.8" /><text x="495" y="457.1" font-size="5.3" text-anchor="middle" fill="#333">p&lt;2.22e-16</text><line x1="486.6" y1="466.6" x2="514.8" y2="466.6" stroke="#444" stroke-width="0.8" /><text x="500.7" y="464.3" font-size="5.3" text-anchor="middle" fill="#333">p=5.8e-12</text><line x1="499" y1="474.2" x2="514.8" y2="474.2" stroke="#444" stroke-width="0.8" /><text x="506.9" y="471.9" font-size="5.3" text-anchor="middle" fill="#333">p=0.0342</text><line x1="429.8" y1="537.5" x2="445.6" y2="537.5" stroke="#444" stroke-width="0.8" /><text x="437.7" y="542.3" font-size="5.3" text-anchor="middle" fill="#333">p=1.2e-10</text><line x1="417" y1="551.6" x2="444.7" y2="551.6" stroke="#444" stroke-width="0.8" /><text x="430.9" y="556.4" font-size="5.3" text-anchor="middle" fill="#333">p&lt;2.22e-16</text><line x1="485.9" y1="541" x2="502.7" y2="541" stroke="#444" stroke-width="0.8" /><text x="494.3" y="545.8" font-size="5.3" text-anchor="middle" fill="#333">p=1.3e-11</text><line x1="474.3" y1="555.5" x2="502.7" y2="555.5" stroke="#444" stroke-width="0.8" /><text x="488.5" y="560.3" font-size="5.3" text-anchor="middle" fill="#333">p&lt;2.22e-16</text><circle cx="413.5" cy="445.3" r="2.6" fill="#ff8000" /><text x="416.8" y="448.9">Inflorescence</text><circle cx="481.3" cy="445.3" r="2.6" fill="#3eaad8" /><text x="484.6" y="448.9">Seedling</text><line x1="418.5" y1="564.5" x2="418.5" y2="567.5" stroke="#333" stroke-width="0.9" /><text x="421.4" y="575.7" font-size="10.4" text-anchor="end" transform="rotate(-45 421.4 575.7)">IF_All</text><line x1="431.1" y1="564.5" x2="431.1" y2="567.5" stroke="#333" stroke-width="0.9" /><text x="434" y="575.7" font-size="10.4" text-anchor="end" transform="rotate(-45 434 575.7)">All_Plastid</text><line x1="444.7" y1="564.5" x2="444.7" y2="567.5" stroke="#333" stroke-width="0.9" /><text x="447.6" y="575.7" font-size="10.4" text-anchor="end" transform="rotate(-45 447.6 575.7)">PhANGs</text><line x1="457.3" y1="564.5" x2="457.3" y2="567.5" stroke="#333" stroke-width="0.9" /><text x="460.2" y="575.7" font-size="10.4" text-anchor="end" transform="rotate(-45 460.2 575.7)">PS apparatus</text><line x1="475.6" y1="564.5" x2="475.6" y2="567.5" stroke="#333" stroke-width="0.9" /><text x="478.5" y="575.7" font-size="10.4" text-anchor="end" transform="rotate(-45 478.5 575.7)">S_All</text><line x1="488.2" y1="564.5" x2="488.2" y2="567.5" stroke="#333" stroke-width="0.9" /><text x="491.1" y="575.7" font-size="10.4" text-anchor="end" transform="rotate(-45 491.1 575.7)">All_Plastid</text><line x1="501.2" y1="564.5" x2="501.2" y2="567.5" stroke="#333" stroke-width="0.9" /><text x="504.1" y="575.7" font-size="10.4" text-anchor="end" transform="rotate(-45 504.1 575.7)">PhANGs</text><line x1="514.3" y1="564.5" x2="514.3" y2="567.5" stroke="#333" stroke-width="0.9" /><text x="517.2" y="575.7" font-size="10.4" text-anchor="end" transform="rotate(-45 517.2 575.7)">PS apparatus</text><text x="382.6" y="503" font-size="10.8" font-weight="bold" text-anchor="middle" transform="rotate(-90 382.6 503)">Log2 fold change of rPS</text><text x="394.2" y="507.3" font-size="10.8" font-weight="bold" text-anchor="middle" transform="rotate(-90 394.2 507.3)">(<tspan font-style="italic">hot3-2</tspan>/WT)</text></g><g id="pk"><text x="527.7" y="449.7" font-size="14" font-weight="bold">k</text><path d="M578.9 472.0 578.9 473.3 578.9 474.6 578.9 476.0 578.9 477.3 578.8 478.6 578.7 479.9 578.6 481.3 578.5 482.6 578.4 483.9 578.3 485.2 578.3 486.5 578.2 487.9 578.1 489.2 578.0 490.5 578.0 491.8 577.9 493.2 577.8 494.5 577.8 495.8 577.7 497.1 577.6 498.4 577.6 499.8 577.5 501.1 577.4 502.4 577.4 503.7 577.3 505.1 577.2 506.4 576.8 507.7 576.4 509.0 575.9 510.3 575.3 511.7 574.7 513.0 575.3 514.3 575.8 515.6 576.3 516.9 576.8 518.3 577.2 519.6 577.4 520.9 577.4 522.2 577.5 523.6 577.6 524.9 577.6 526.2 577.7 527.5 577.8 528.8 577.8 530.2 577.9 531.5 578.0 532.8 578.1 534.1 578.2 535.5 578.2 536.8 578.3 538.1 578.4 539.4 578.5 540.7 578.6 542.1 578.7 543.4 578.9 544.7 578.9 546.0 578.9 547.4 578.9 548.7 578.9 550.0 580.5 550.0 580.5 548.7 580.5 547.4 580.5 546.0 580.5 544.7 580.7 543.4 580.8 542.1 580.9 540.7 581.0 539.4 581.1 538.1 581.2 536.8 581.2 535.5 581.3 534.1 581.4 532.8 581.5 531.5 581.6 530.2 581.6 528.8 581.7 527.5 581.8 526.2 581.8 524.9 581.9 523.6 582.0 522.2 582.0 520.9 582.2 519.6 582.6 518.3 583.1 516.9 583.6 515.6 584.1 514.3 584.7 513.0 584.1 511.7 583.5 510.3 583.0 509.0 582.6 507.7 582.2 506.4 582.1 505.1 582.0 503.7 582.0 502.4 581.9 501.1 581.8 499.8 581.8 498.4 581.7 497.1 581.6 495.8 581.6 494.5 581.5 493.2 581.4 491.8 581.4 490.5 581.3 489.2 581.2 487.9 581.1 486.5 581.1 485.2 581.0 483.9 580.9 482.6 580.8 481.3 580.7 479.9 580.6 478.6 580.5 477.3 580.5 476.0 580.5 474.6 580.5 473.3 580.5 472.0Z" fill="#ff8000"/><g fill="#fff" stroke="#ff8000" stroke-width="0.6"><circle cx="579.7" cy="465.0" r="1.2"/><circle cx="579.7" cy="469.0" r="1.2"/></g><path d="M591.8 486.0 591.8 486.9 591.8 487.8 591.8 488.7 591.8 489.7 591.8 490.6 591.8 491.5 591.8 492.4 591.7 493.3 591.6 494.2 591.6 495.2 591.5 496.1 591.5 497.0 591.4 497.9 591.3 498.8 591.3 499.7 591.2 500.6 591.2 501.6 591.1 502.5 591.1 503.4 591.1 504.3 591.0 505.2 591.0 506.1 590.8 507.1 590.5 508.0 590.2 508.9 589.9 509.8 589.5 510.7 589.1 511.6 588.6 512.5 588.1 513.5 588.0 514.4 588.6 515.3 589.1 516.2 589.5 517.1 589.9 518.0 590.3 518.9 590.6 519.9 590.9 520.8 591.0 521.7 591.0 522.6 591.1 523.5 591.1 524.4 591.2 525.4 591.2 526.3 591.3 527.2 591.3 528.1 591.4 529.0 591.5 529.9 591.5 530.8 591.6 531.8 591.7 532.7 591.7 533.6 591.8 534.5 591.8 535.4 591.8 536.3 591.8 537.3 591.8 538.2 591.8 539.1 591.8 540.0 593.4 540.0 593.4 539.1 593.4 538.2 593.4 537.3 593.4 536.3 593.4 535.4 593.4 534.5 593.5 533.6 593.5 532.7 593.6 531.8 593.7 530.8 593.7 529.9 593.8 529.0 593.9 528.1 593.9 527.2 594.0 526.3 594.0 525.4 594.1 524.4 594.1 523.5 594.2 522.6 594.2 521.7 594.3 520.8 594.6 519.9 594.9 518.9 595.3 518.0 595.7 517.1 596.1 516.2 596.6 515.3 597.2 514.4 597.1 513.5 596.6 512.5 596.1 511.6 595.7 510.7 595.3 509.8 595.0 508.9 594.7 508.0 594.4 507.1 594.2 506.1 594.2 505.2 594.1 504.3 594.1 503.4 594.1 502.5 594.0 501.6 594.0 500.6 593.9 499.7 593.9 498.8 593.8 497.9 593.7 497.0 593.7 496.1 593.6 495.2 593.6 494.2 593.5 493.3 593.4 492.4 593.4 491.5 593.4 490.6 593.4 489.7 593.4 488.7 593.4 487.8 593.4 486.9 593.4 486.0Z" fill="#ff8000"/><g fill="#fff" stroke="#ff8000" stroke-width="0.6"><circle cx="592.6" cy="479.0" r="1.2"/><circle cx="592.6" cy="484.0" r="1.2"/><circle cx="592.6" cy="489.0" r="1.2"/><circle cx="592.6" cy="492.0" r="1.2"/><circle cx="592.6" cy="545.0" r="1.2"/><circle cx="592.6" cy="549.0" r="1.2"/><circle cx="592.6" cy="553.0" r="1.2"/><circle cx="592.6" cy="556.0" r="1.2"/><circle cx="592.6" cy="560.0" r="1.2"/></g><g fill="none" stroke="#ff8000" stroke-width="0.6"><circle cx="605.5" cy="527.8" r="1.3"/><circle cx="605.2" cy="506.2" r="1.3"/><circle cx="605.2" cy="525.4" r="1.3"/><circle cx="607.2" cy="516.5" r="1.3"/><circle cx="605.3" cy="509.7" r="1.3"/><circle cx="606.4" cy="517.8" r="1.3"/><circle cx="603.4" cy="509.8" r="1.3"/><circle cx="602.1" cy="513.0" r="1.3"/><circle cx="603.2" cy="512.9" r="1.3"/><circle cx="606.0" cy="512.9" r="1.3"/><circle cx="605.7" cy="511.4" r="1.3"/><circle cx="608.2" cy="514.1" r="1.3"/><circle cx="608.7" cy="515.8" r="1.3"/><circle cx="608.2" cy="513.6" r="1.3"/><circle cx="603.8" cy="514.7" r="1.3"/><circle cx="604.0" cy="520.6" r="1.3"/><circle cx="606.9" cy="518.3" r="1.3"/><circle cx="607.0" cy="510.6" r="1.3"/><circle cx="602.1" cy="516.6" r="1.3"/><circle cx="602.5" cy="517.4" r="1.3"/><circle cx="604.6" cy="520.9" r="1.3"/><circle cx="604.0" cy="513.6" r="1.3"/><circle cx="605.7" cy="522.9" r="1.3"/><circle cx="604.9" cy="515.3" r="1.3"/><circle cx="606.8" cy="514.1" r="1.3"/><circle cx="608.0" cy="515.7" r="1.3"/><circle cx="602.3" cy="513.7" r="1.3"/><circle cx="604.0" cy="516.5" r="1.3"/><circle cx="609.4" cy="514.4" r="1.3"/><circle cx="605.4" cy="520.3" r="1.3"/><circle cx="605.2" cy="514.9" r="1.3"/><circle cx="605.4" cy="505.2" r="1.3"/><circle cx="605.5" cy="511.6" r="1.3"/><circle cx="607.4" cy="515.0" r="1.3"/><circle cx="608.7" cy="513.9" r="1.3"/><circle cx="605.9" cy="519.0" r="1.3"/><circle cx="606.4" cy="514.8" r="1.3"/><circle cx="605.7" cy="511.5" r="1.3"/><circle cx="603.2" cy="513.6" r="1.3"/><circle cx="607.6" cy="514.9" r="1.3"/><circle cx="603.6" cy="517.6" r="1.3"/><circle cx="603.7" cy="515.9" r="1.3"/><circle cx="604.1" cy="515.9" r="1.3"/><circle cx="605.5" cy="512.7" r="1.3"/><circle cx="608.1" cy="515.3" r="1.3"/><circle cx="604.3" cy="513.1" r="1.3"/><circle cx="605.5" cy="507.8" r="1.3"/><circle cx="604.9" cy="518.0" r="1.3"/><circle cx="604.9" cy="516.5" r="1.3"/><circle cx="606.0" cy="530.0" r="1.3"/><circle cx="606.1" cy="516.9" r="1.3"/><circle cx="602.0" cy="513.0" r="1.3"/><circle cx="605.9" cy="502.5" r="1.3"/><circle cx="605.3" cy="515.0" r="1.3"/><circle cx="609.0" cy="513.5" r="1.3"/><circle cx="602.0" cy="514.7" r="1.3"/><circle cx="609.0" cy="512.8" r="1.3"/><circle cx="605.5" cy="506.1" r="1.3"/><circle cx="605.5" cy="508.5" r="1.3"/><circle cx="605.3" cy="512.9" r="1.3"/><circle cx="609.4" cy="515.5" r="1.3"/><circle cx="606.9" cy="510.5" r="1.3"/><circle cx="605.4" cy="512.2" r="1.3"/><circle cx="604.4" cy="512.8" r="1.3"/><circle cx="604.6" cy="516.9" r="1.3"/><circle cx="605.2" cy="516.9" r="1.3"/><circle cx="602.3" cy="514.8" r="1.3"/><circle cx="604.9" cy="506.8" r="1.3"/><circle cx="605.6" cy="525.2" r="1.3"/><circle cx="606.2" cy="519.7" r="1.3"/><circle cx="608.5" cy="513.1" r="1.3"/><circle cx="604.8" cy="500.9" r="1.3"/><circle cx="603.5" cy="514.6" r="1.3"/><circle cx="603.8" cy="511.5" r="1.3"/><circle cx="606.3" cy="513.4" r="1.3"/><circle cx="603.5" cy="514.5" r="1.3"/><circle cx="603.9" cy="513.7" r="1.3"/><circle cx="604.3" cy="521.6" r="1.3"/><circle cx="607.8" cy="514.7" r="1.3"/><circle cx="607.0" cy="510.0" r="1.3"/><circle cx="602.1" cy="514.7" r="1.3"/><circle cx="605.3" cy="519.5" r="1.3"/><circle cx="607.2" cy="513.2" r="1.3"/><circle cx="608.5" cy="515.9" r="1.3"/><circle cx="604.1" cy="513.2" r="1.3"/><circle cx="601.9" cy="516.1" r="1.3"/><circle cx="607.4" cy="513.6" r="1.3"/><circle cx="606.7" cy="513.3" r="1.3"/><circle cx="605.1" cy="526.2" r="1.3"/><circle cx="607.7" cy="518.5" r="1.3"/><circle cx="606.7" cy="517.3" r="1.3"/><circle cx="605.8" cy="516.6" r="1.3"/><circle cx="605.4" cy="523.7" r="1.3"/><circle cx="604.6" cy="506.3" r="1.3"/><circle cx="609.6" cy="514.9" r="1.3"/><circle cx="609.0" cy="516.6" r="1.3"/><circle cx="604.0" cy="509.9" r="1.3"/><circle cx="605.7" cy="531.6" r="1.3"/><circle cx="605.8" cy="516.1" r="1.3"/><circle cx="604.7" cy="516.8" r="1.3"/><circle cx="605.4" cy="526.3" r="1.3"/><circle cx="602.0" cy="514.4" r="1.3"/><circle cx="605.0" cy="520.8" r="1.3"/><circle cx="604.0" cy="513.1" r="1.3"/><circle cx="605.6" cy="521.9" r="1.3"/><circle cx="605.5" cy="515.9" r="1.3"/><circle cx="602.6" cy="518.0" r="1.3"/><circle cx="603.9" cy="512.1" r="1.3"/><circle cx="604.2" cy="513.8" r="1.3"/><circle cx="604.1" cy="515.4" r="1.3"/></g><g fill="#fff" stroke="#ff8000" stroke-width="0.6"><circle cx="605.3" cy="531.5" r="1.2"/></g><g fill="none" stroke="#ff8000" stroke-width="0.6"><circle cx="616.6" cy="520.9" r="1.3"/><circle cx="616.8" cy="520.0" r="1.3"/><circle cx="619.2" cy="525.3" r="1.3"/><circle cx="619.4" cy="523.7" r="1.3"/><circle cx="615.7" cy="518.6" r="1.3"/><circle cx="617.5" cy="517.6" r="1.3"/><circle cx="620.0" cy="518.0" r="1.3"/><circle cx="615.6" cy="517.6" r="1.3"/><circle cx="617.9" cy="508.3" r="1.3"/><circle cx="619.8" cy="514.3" r="1.3"/><circle cx="617.5" cy="520.6" r="1.3"/><circle cx="621.4" cy="519.6" r="1.3"/><circle cx="618.7" cy="516.5" r="1.3"/><circle cx="619.0" cy="514.9" r="1.3"/><circle cx="618.9" cy="517.8" r="1.3"/><circle cx="618.6" cy="520.6" r="1.3"/><circle cx="618.2" cy="510.3" r="1.3"/><circle cx="619.5" cy="519.5" r="1.3"/><circle cx="618.3" cy="515.0" r="1.3"/><circle cx="620.6" cy="516.6" r="1.3"/><circle cx="616.8" cy="518.1" r="1.3"/><circle cx="617.3" cy="514.3" r="1.3"/><circle cx="620.8" cy="518.8" r="1.3"/><circle cx="618.7" cy="512.3" r="1.3"/><circle cx="616.3" cy="518.5" r="1.3"/><circle cx="620.6" cy="518.6" r="1.3"/><circle cx="617.7" cy="520.0" r="1.3"/><circle cx="620.4" cy="518.6" r="1.3"/><circle cx="619.2" cy="513.9" r="1.3"/><circle cx="617.5" cy="520.9" r="1.3"/><circle cx="618.8" cy="524.5" r="1.3"/><circle cx="618.6" cy="509.0" r="1.3"/><circle cx="617.4" cy="522.8" r="1.3"/><circle cx="622.5" cy="518.8" r="1.3"/><circle cx="616.7" cy="518.3" r="1.3"/><circle cx="617.7" cy="517.1" r="1.3"/><circle cx="620.2" cy="515.3" r="1.3"/><circle cx="620.1" cy="517.9" r="1.3"/><circle cx="617.6" cy="521.2" r="1.3"/><circle cx="618.8" cy="508.4" r="1.3"/><circle cx="614.7" cy="518.2" r="1.3"/><circle cx="620.4" cy="519.1" r="1.3"/><circle cx="618.8" cy="522.9" r="1.3"/><circle cx="618.9" cy="507.6" r="1.3"/><circle cx="619.1" cy="517.6" r="1.3"/><circle cx="618.1" cy="513.7" r="1.3"/><circle cx="619.6" cy="517.1" r="1.3"/><circle cx="618.5" cy="522.2" r="1.3"/><circle cx="619.7" cy="515.0" r="1.3"/><circle cx="615.1" cy="517.2" r="1.3"/><circle cx="617.6" cy="521.3" r="1.3"/><circle cx="616.5" cy="519.4" r="1.3"/><circle cx="618.6" cy="523.0" r="1.3"/><circle cx="619.0" cy="515.0" r="1.3"/><circle cx="618.2" cy="511.4" r="1.3"/><circle cx="620.8" cy="515.9" r="1.3"/><circle cx="617.5" cy="518.4" r="1.3"/><circle cx="615.2" cy="518.5" r="1.3"/><circle cx="619.3" cy="513.6" r="1.3"/><circle cx="615.5" cy="519.0" r="1.3"/><circle cx="616.2" cy="515.9" r="1.3"/><circle cx="618.3" cy="526.6" r="1.3"/><circle cx="618.3" cy="518.5" r="1.3"/><circle cx="617.7" cy="514.1" r="1.3"/><circle cx="617.9" cy="521.2" r="1.3"/><circle cx="615.5" cy="517.5" r="1.3"/><circle cx="617.7" cy="519.7" r="1.3"/><circle cx="621.0" cy="517.9" r="1.3"/><circle cx="618.0" cy="521.8" r="1.3"/><circle cx="619.1" cy="515.9" r="1.3"/></g><g fill="#fff" stroke="#ff8000" stroke-width="0.6"><circle cx="618.6" cy="533.5" r="1.2"/></g><path d="M634.9 468.0 634.9 469.6 634.9 471.2 634.9 472.7 634.9 474.3 634.8 475.9 634.7 477.5 634.6 479.0 634.5 480.6 634.4 482.2 634.3 483.8 634.2 485.3 634.1 486.9 634.1 488.5 634.0 490.1 633.9 491.6 633.8 493.2 633.8 494.8 633.7 496.4 633.6 497.9 633.6 499.5 633.5 501.1 633.4 502.7 633.3 504.3 632.8 505.8 632.3 507.4 631.7 509.0 631.0 510.6 630.4 512.1 631.0 513.7 631.6 515.3 632.1 516.9 632.6 518.4 633.1 520.0 633.4 521.6 633.5 523.2 633.5 524.7 633.6 526.3 633.6 527.9 633.7 529.5 633.8 531.1 633.8 532.6 633.9 534.2 634.0 535.8 634.0 537.4 634.1 538.9 634.2 540.5 634.2 542.1 634.3 543.7 634.4 545.2 634.5 546.8 634.5 548.4 634.6 550.0 634.7 551.5 634.8 553.1 634.9 554.7 634.9 556.3 634.9 557.8 634.9 559.4 634.9 561.0 636.5 561.0 636.5 559.4 636.5 557.8 636.5 556.3 636.5 554.7 636.6 553.1 636.7 551.5 636.8 550.0 636.9 548.4 636.9 546.8 637.0 545.2 637.1 543.7 637.2 542.1 637.2 540.5 637.3 538.9 637.4 537.4 637.4 535.8 637.5 534.2 637.6 532.6 637.6 531.1 637.7 529.5 637.8 527.9 637.8 526.3 637.9 524.7 637.9 523.2 638.0 521.6 638.3 520.0 638.8 518.4 639.3 516.9 639.8 515.3 640.4 513.7 641.0 512.1 640.4 510.6 639.7 509.0 639.1 507.4 638.6 505.8 638.1 504.3 638.0 502.7 637.9 501.1 637.8 499.5 637.8 497.9 637.7 496.4 637.6 494.8 637.6 493.2 637.5 491.6 637.4 490.1 637.3 488.5 637.3 486.9 637.2 485.3 637.1 483.8 637.0 482.2 636.9 480.6 636.8 479.0 636.7 477.5 636.6 475.9 636.5 474.3 636.5 472.7 636.5 471.2 636.5 469.6 636.5 468.0Z" fill="#3eaad8"/><g fill="#fff" stroke="#3eaad8" stroke-width="0.6"><circle cx="635.7" cy="461.0" r="1.2"/><circle cx="635.7" cy="464.0" r="1.2"/><circle cx="635.7" cy="467.0" r="1.2"/><circle cx="635.7" cy="551.0" r="1.2"/><circle cx="635.7" cy="554.0" r="1.2"/><circle cx="635.7" cy="557.0" r="1.2"/><circle cx="635.7" cy="560.0" r="1.2"/></g><path d="M647.2 478.0 647.2 479.1 647.2 480.1 647.2 481.2 647.2 482.2 647.2 483.3 647.2 484.3 647.2 485.4 647.1 486.4 647.0 487.5 646.9 488.5 646.9 489.6 646.8 490.6 646.8 491.7 646.7 492.7 646.7 493.8 646.6 494.8 646.6 495.9 646.5 496.9 646.5 498.0 646.4 499.0 646.4 500.1 646.3 501.1 646.3 502.2 646.2 503.2 646.2 504.3 646.1 505.3 646.0 506.4 645.7 507.4 645.3 508.5 645.0 509.5 644.6 510.6 644.1 511.6 643.7 512.7 643.1 513.7 643.5 514.8 644.2 515.8 644.7 516.9 645.2 517.9 645.7 519.0 646.1 520.0 646.2 521.1 646.2 522.1 646.3 523.2 646.4 524.2 646.4 525.3 646.5 526.3 646.6 527.4 646.6 528.4 646.7 529.5 646.8 530.5 646.9 531.6 647.0 532.6 647.1 533.7 647.2 534.7 647.2 535.8 647.2 536.8 647.2 537.9 647.2 538.9 647.2 540.0 648.8 540.0 648.8 538.9 648.8 537.9 648.8 536.8 648.8 535.8 648.8 534.7 648.9 533.7 649.0 532.6 649.1 531.6 649.2 530.5 649.3 529.5 649.4 528.4 649.4 527.4 649.5 526.3 649.6 525.3 649.6 524.2 649.7 523.2 649.8 522.1 649.8 521.1 649.9 520.0 650.3 519.0 650.8 517.9 651.3 516.9 651.8 515.8 652.5 514.8 652.9 513.7 652.3 512.7 651.9 511.6 651.4 510.6 651.0 509.5 650.7 508.5 650.3 507.4 650.0 506.4 649.9 505.3 649.8 504.3 649.8 503.2 649.7 502.2 649.7 501.1 649.6 500.1 649.6 499.0 649.5 498.0 649.5 496.9 649.4 495.9 649.4 494.8 649.3 493.8 649.3 492.7 649.2 491.7 649.2 490.6 649.1 489.6 649.1 488.5 649.0 487.5 648.9 486.4 648.8 485.4 648.8 484.3 648.8 483.3 648.8 482.2 648.8 481.2 648.8 480.1 648.8 479.1 648.8 478.0Z" fill="#3eaad8"/><g fill="#fff" stroke="#3eaad8" stroke-width="0.6"><circle cx="648.0" cy="475.0" r="1.2"/><circle cx="648.0" cy="536.0" r="1.2"/><circle cx="648.0" cy="539.0" r="1.2"/><circle cx="648.0" cy="542.0" r="1.2"/><circle cx="648.0" cy="550.0" r="1.2"/><circle cx="648.0" cy="553.0" r="1.2"/><circle cx="648.0" cy="556.0" r="1.2"/></g><g fill="none" stroke="#3eaad8" stroke-width="0.6"><circle cx="661.0" cy="507.9" r="1.3"/><circle cx="661.4" cy="504.9" r="1.3"/><circle cx="659.9" cy="509.7" r="1.3"/><circle cx="661.9" cy="487.3" r="1.3"/><circle cx="664.5" cy="512.5" r="1.3"/><circle cx="658.2" cy="516.3" r="1.3"/><circle cx="662.8" cy="512.3" r="1.3"/><circle cx="661.0" cy="509.6" r="1.3"/><circle cx="663.1" cy="510.4" r="1.3"/><circle cx="664.1" cy="518.3" r="1.3"/><circle cx="661.3" cy="508.9" r="1.3"/><circle cx="662.1" cy="511.6" r="1.3"/><circle cx="660.1" cy="515.5" r="1.3"/><circle cx="662.1" cy="509.7" r="1.3"/><circle cx="663.1" cy="520.1" r="1.3"/><circle cx="660.7" cy="506.1" r="1.3"/><circle cx="660.6" cy="484.3" r="1.3"/><circle cx="664.6" cy="513.0" r="1.3"/><circle cx="657.5" cy="514.3" r="1.3"/><circle cx="662.8" cy="514.6" r="1.3"/><circle cx="661.7" cy="511.3" r="1.3"/><circle cx="660.5" cy="517.6" r="1.3"/><circle cx="664.0" cy="517.8" r="1.3"/><circle cx="658.3" cy="514.2" r="1.3"/><circle cx="659.7" cy="518.2" r="1.3"/><circle cx="663.4" cy="518.6" r="1.3"/><circle cx="659.5" cy="506.7" r="1.3"/><circle cx="660.6" cy="504.8" r="1.3"/><circle cx="660.4" cy="503.4" r="1.3"/><circle cx="661.2" cy="497.4" r="1.3"/><circle cx="663.2" cy="517.1" r="1.3"/><circle cx="664.1" cy="511.3" r="1.3"/><circle cx="660.5" cy="505.3" r="1.3"/><circle cx="657.4" cy="514.1" r="1.3"/><circle cx="662.6" cy="511.2" r="1.3"/><circle cx="661.9" cy="490.3" r="1.3"/><circle cx="657.9" cy="513.8" r="1.3"/><circle cx="662.0" cy="518.2" r="1.3"/><circle cx="662.0" cy="516.9" r="1.3"/><circle cx="661.4" cy="529.2" r="1.3"/><circle cx="662.2" cy="512.9" r="1.3"/><circle cx="661.0" cy="524.7" r="1.3"/><circle cx="663.8" cy="511.0" r="1.3"/><circle cx="659.1" cy="513.8" r="1.3"/><circle cx="664.8" cy="516.6" r="1.3"/><circle cx="664.5" cy="512.6" r="1.3"/><circle cx="662.5" cy="506.5" r="1.3"/><circle cx="660.4" cy="517.5" r="1.3"/><circle cx="663.0" cy="520.3" r="1.3"/><circle cx="659.5" cy="511.0" r="1.3"/><circle cx="661.2" cy="513.2" r="1.3"/><circle cx="661.3" cy="510.3" r="1.3"/><circle cx="658.1" cy="514.9" r="1.3"/><circle cx="665.2" cy="514.7" r="1.3"/><circle cx="659.8" cy="509.9" r="1.3"/><circle cx="661.2" cy="519.9" r="1.3"/><circle cx="660.7" cy="484.0" r="1.3"/><circle cx="659.9" cy="518.6" r="1.3"/><circle cx="662.9" cy="520.2" r="1.3"/><circle cx="661.6" cy="499.7" r="1.3"/><circle cx="661.1" cy="484.2" r="1.3"/><circle cx="662.6" cy="515.9" r="1.3"/><circle cx="658.4" cy="516.3" r="1.3"/><circle cx="661.9" cy="507.2" r="1.3"/><circle cx="664.1" cy="513.1" r="1.3"/><circle cx="660.6" cy="500.5" r="1.3"/><circle cx="659.9" cy="512.6" r="1.3"/><circle cx="659.4" cy="514.1" r="1.3"/><circle cx="659.3" cy="518.9" r="1.3"/><circle cx="663.9" cy="511.6" r="1.3"/><circle cx="661.9" cy="505.9" r="1.3"/><circle cx="661.6" cy="521.8" r="1.3"/><circle cx="662.3" cy="516.2" r="1.3"/><circle cx="661.8" cy="503.6" r="1.3"/><circle cx="661.0" cy="492.8" r="1.3"/><circle cx="659.4" cy="511.3" r="1.3"/><circle cx="659.3" cy="509.4" r="1.3"/><circle cx="659.1" cy="512.2" r="1.3"/><circle cx="659.6" cy="511.1" r="1.3"/><circle cx="662.4" cy="521.2" r="1.3"/><circle cx="660.2" cy="517.6" r="1.3"/><circle cx="660.3" cy="515.9" r="1.3"/><circle cx="661.6" cy="498.6" r="1.3"/><circle cx="665.0" cy="516.9" r="1.3"/><circle cx="658.5" cy="512.5" r="1.3"/><circle cx="661.7" cy="519.4" r="1.3"/><circle cx="661.2" cy="491.5" r="1.3"/><circle cx="660.3" cy="504.7" r="1.3"/><circle cx="660.9" cy="504.2" r="1.3"/><circle cx="663.1" cy="518.8" r="1.3"/><circle cx="660.9" cy="523.4" r="1.3"/><circle cx="661.8" cy="516.6" r="1.3"/><circle cx="661.1" cy="510.0" r="1.3"/><circle cx="660.6" cy="491.2" r="1.3"/><circle cx="661.8" cy="524.4" r="1.3"/><circle cx="662.6" cy="507.0" r="1.3"/><circle cx="663.4" cy="518.6" r="1.3"/><circle cx="660.8" cy="513.4" r="1.3"/><circle cx="660.9" cy="512.2" r="1.3"/><circle cx="662.5" cy="513.5" r="1.3"/><circle cx="662.0" cy="496.7" r="1.3"/><circle cx="661.3" cy="502.4" r="1.3"/><circle cx="660.3" cy="519.6" r="1.3"/><circle cx="661.1" cy="512.9" r="1.3"/><circle cx="661.9" cy="514.9" r="1.3"/><circle cx="662.1" cy="512.0" r="1.3"/><circle cx="664.8" cy="513.8" r="1.3"/><circle cx="661.8" cy="518.5" r="1.3"/><circle cx="664.2" cy="515.7" r="1.3"/><circle cx="661.1" cy="512.4" r="1.3"/></g><g fill="#fff" stroke="#3eaad8" stroke-width="0.6"><circle cx="661.3" cy="483.0" r="1.2"/><circle cx="661.3" cy="486.0" r="1.2"/><circle cx="661.3" cy="490.0" r="1.2"/></g><g fill="none" stroke="#3eaad8" stroke-width="0.6"><circle cx="672.6" cy="513.2" r="1.3"/><circle cx="676.1" cy="519.5" r="1.3"/><circle cx="676.0" cy="510.1" r="1.3"/><circle cx="676.3" cy="510.7" r="1.3"/><circle cx="675.3" cy="514.9" r="1.3"/><circle cx="674.3" cy="500.9" r="1.3"/><circle cx="673.7" cy="506.4" r="1.3"/><circle cx="673.6" cy="514.1" r="1.3"/><circle cx="671.1" cy="515.8" r="1.3"/><circle cx="674.3" cy="524.7" r="1.3"/><circle cx="674.3" cy="501.0" r="1.3"/><circle cx="674.1" cy="487.7" r="1.3"/><circle cx="671.7" cy="516.7" r="1.3"/><circle cx="672.7" cy="519.5" r="1.3"/><circle cx="674.4" cy="497.2" r="1.3"/><circle cx="676.9" cy="511.0" r="1.3"/><circle cx="678.5" cy="515.6" r="1.3"/><circle cx="671.3" cy="516.5" r="1.3"/><circle cx="675.2" cy="519.0" r="1.3"/><circle cx="670.4" cy="516.4" r="1.3"/><circle cx="675.2" cy="521.0" r="1.3"/><circle cx="675.3" cy="511.2" r="1.3"/><circle cx="674.7" cy="516.4" r="1.3"/><circle cx="672.7" cy="516.2" r="1.3"/><circle cx="674.4" cy="512.2" r="1.3"/><circle cx="670.5" cy="516.8" r="1.3"/><circle cx="675.6" cy="518.5" r="1.3"/><circle cx="676.7" cy="514.3" r="1.3"/><circle cx="670.9" cy="517.9" r="1.3"/><circle cx="678.0" cy="513.7" r="1.3"/><circle cx="672.4" cy="518.8" r="1.3"/><circle cx="677.1" cy="511.7" r="1.3"/><circle cx="678.6" cy="515.2" r="1.3"/><circle cx="674.0" cy="515.4" r="1.3"/><circle cx="677.2" cy="514.2" r="1.3"/><circle cx="674.9" cy="519.6" r="1.3"/><circle cx="672.6" cy="517.4" r="1.3"/><circle cx="676.2" cy="516.6" r="1.3"/><circle cx="673.3" cy="516.5" r="1.3"/><circle cx="671.5" cy="517.1" r="1.3"/><circle cx="676.1" cy="511.4" r="1.3"/><circle cx="672.9" cy="511.0" r="1.3"/><circle cx="678.3" cy="515.3" r="1.3"/><circle cx="673.9" cy="503.3" r="1.3"/><circle cx="673.4" cy="517.6" r="1.3"/><circle cx="677.3" cy="516.9" r="1.3"/><circle cx="677.4" cy="515.4" r="1.3"/><circle cx="674.1" cy="511.8" r="1.3"/><circle cx="674.8" cy="524.6" r="1.3"/><circle cx="678.5" cy="516.5" r="1.3"/><circle cx="673.2" cy="518.6" r="1.3"/><circle cx="672.5" cy="517.2" r="1.3"/><circle cx="671.6" cy="515.3" r="1.3"/><circle cx="675.5" cy="509.4" r="1.3"/><circle cx="675.2" cy="506.1" r="1.3"/><circle cx="672.1" cy="518.3" r="1.3"/><circle cx="676.4" cy="516.0" r="1.3"/><circle cx="673.7" cy="508.1" r="1.3"/><circle cx="674.6" cy="508.0" r="1.3"/><circle cx="675.0" cy="513.0" r="1.3"/><circle cx="675.3" cy="515.9" r="1.3"/><circle cx="675.1" cy="517.3" r="1.3"/><circle cx="673.9" cy="513.4" r="1.3"/><circle cx="675.6" cy="509.7" r="1.3"/><circle cx="672.2" cy="516.3" r="1.3"/><circle cx="675.5" cy="503.9" r="1.3"/><circle cx="674.2" cy="506.6" r="1.3"/><circle cx="676.3" cy="512.8" r="1.3"/><circle cx="675.4" cy="515.4" r="1.3"/><circle cx="674.5" cy="484.6" r="1.3"/><circle cx="674.5" cy="503.8" r="1.3"/><circle cx="674.8" cy="517.8" r="1.3"/><circle cx="674.0" cy="514.3" r="1.3"/><circle cx="675.0" cy="514.1" r="1.3"/><circle cx="674.4" cy="513.1" r="1.3"/><circle cx="675.7" cy="507.0" r="1.3"/><circle cx="674.1" cy="522.2" r="1.3"/><circle cx="675.8" cy="519.6" r="1.3"/><circle cx="673.9" cy="515.4" r="1.3"/><circle cx="675.1" cy="497.3" r="1.3"/><circle cx="677.4" cy="516.5" r="1.3"/><circle cx="670.8" cy="516.8" r="1.3"/><circle cx="676.9" cy="511.1" r="1.3"/><circle cx="675.5" cy="505.0" r="1.3"/><circle cx="676.0" cy="517.0" r="1.3"/><circle cx="672.0" cy="515.8" r="1.3"/><circle cx="676.6" cy="512.0" r="1.3"/><circle cx="675.1" cy="511.8" r="1.3"/><circle cx="673.3" cy="519.6" r="1.3"/><circle cx="674.8" cy="497.5" r="1.3"/></g><g fill="#fff" stroke="#3eaad8" stroke-width="0.6"><circle cx="674.6" cy="483.0" r="1.2"/><circle cx="674.6" cy="486.0" r="1.2"/><circle cx="674.6" cy="490.0" r="1.2"/><circle cx="674.6" cy="495.0" r="1.2"/></g><rect x="575.4" y="511.5" width="8.6" height="2.5" fill="#0a4ee0" /><rect x="588.3" y="512.8" width="8.6" height="2.5" fill="#0a4ee0" /><rect x="601" y="514.6" width="8.6" height="2.5" fill="#0a4ee0" /><rect x="614.3" y="517.5" width="8.6" height="2.5" fill="#0a4ee0" /><rect x="631.4" y="510.9" width="8.6" height="2.5" fill="#0a4ee0" /><rect x="643.7" y="512.8" width="8.6" height="2.5" fill="#0a4ee0" /><rect x="657" y="515" width="8.6" height="2.5" fill="#0a4ee0" /><rect x="670.3" y="516" width="8.6" height="2.5" fill="#0a4ee0" /><rect x="571.7" y="451.8" width="110.1" height="112.2" fill="none" stroke="#444" stroke-width="0.9"/><line x1="626.7" y1="451.8" x2="626.7" y2="564" stroke="#444" stroke-width="1.1" /><line x1="571.7" y1="514" x2="681.8" y2="514" stroke="#444" stroke-width="0.9" stroke-dasharray="1.2 1.2"/><line x1="568.9" y1="451.5" x2="571.7" y2="451.5" stroke="#333" stroke-width="0.9" /><text x="567.5" y="455" font-size="9.9" text-anchor="end">5</text><line x1="568.9" y1="464" x2="571.7" y2="464" stroke="#333" stroke-width="0.9" /><text x="567.5" y="467.5" font-size="9.9" text-anchor="end">4</text><line x1="568.9" y1="476.5" x2="571.7" y2="476.5" stroke="#333" stroke-width="0.9" /><text x="567.5" y="480" font-size="9.9" text-anchor="end">3</text><line x1="568.9" y1="489" x2="571.7" y2="489" stroke="#333" stroke-width="0.9" /><text x="567.5" y="492.5" font-size="9.9" text-anchor="end">2</text><line x1="568.9" y1="501.5" x2="571.7" y2="501.5" stroke="#333" stroke-width="0.9" /><text x="567.5" y="505" font-size="9.9" text-anchor="end">1</text><line x1="568.9" y1="514" x2="571.7" y2="514" stroke="#333" stroke-width="0.9" /><text x="567.5" y="517.5" font-size="9.9" text-anchor="end">0</text><line x1="568.9" y1="526.5" x2="571.7" y2="526.5" stroke="#333" stroke-width="0.9" /><text x="567.5" y="530" font-size="9.9" text-anchor="end">-1</text><line x1="568.9" y1="539" x2="571.7" y2="539" stroke="#333" stroke-width="0.9" /><text x="567.5" y="542.5" font-size="9.9" text-anchor="end">-2</text><line x1="568.9" y1="551.5" x2="571.7" y2="551.5" stroke="#333" stroke-width="0.9" /><text x="567.5" y="555" font-size="9.9" text-anchor="end">-3</text><line x1="568.9" y1="564" x2="571.7" y2="564" stroke="#333" stroke-width="0.9" /><text x="567.5" y="567.5" font-size="9.9" text-anchor="end">-4</text><line x1="578.7" y1="460.3" x2="619.1" y2="460.3" stroke="#444" stroke-width="0.8" /><text x="598.9" y="458" font-size="5.3" text-anchor="middle" fill="#333">p=5.8e-16</text><line x1="591.1" y1="470" x2="619.1" y2="470" stroke="#444" stroke-width="0.8" /><text x="605.1" y="467.7" font-size="5.3" text-anchor="middle" fill="#333">p=4.9e-11</text><line x1="601.5" y1="498.5" x2="619.1" y2="498.5" stroke="#444" stroke-width="0.8" /><text x="610.3" y="496.2" font-size="5.3" text-anchor="middle" fill="#333">p=0.0042</text><line x1="634.7" y1="460" x2="675" y2="460" stroke="#444" stroke-width="0.8" /><text x="654.9" y="457.7" font-size="5.3" text-anchor="middle" fill="#333">p=3.2e-6</text><line x1="647" y1="469.4" x2="675" y2="469.4" stroke="#444" stroke-width="0.8" /><text x="661" y="467.1" font-size="5.3" text-anchor="middle" fill="#333">p=0.0018</text><line x1="659.8" y1="478.9" x2="675" y2="478.9" stroke="#444" stroke-width="0.8" /><text x="667.4" y="476.6" font-size="5.3" text-anchor="middle" fill="#333">p=0.1535</text><line x1="591.1" y1="547.1" x2="607.8" y2="547.1" stroke="#444" stroke-width="0.8" /><text x="599.5" y="551.5" font-size="5.3" text-anchor="middle" fill="#333">p=2.8e-07</text><line x1="577.8" y1="556.6" x2="607.2" y2="556.6" stroke="#444" stroke-width="0.8" /><text x="592.5" y="561" font-size="5.3" text-anchor="middle" fill="#333">p=4.3e-16</text><line x1="648" y1="541.3" x2="663.2" y2="541.3" stroke="#444" stroke-width="0.8" /><text x="655.6" y="545.7" font-size="5.3" text-anchor="middle" fill="#333">p=0.0345</text><line x1="634.7" y1="554.2" x2="662.8" y2="554.2" stroke="#444" stroke-width="0.8" /><text x="648.8" y="558.6" font-size="5.3" text-anchor="middle" fill="#333">p=2e-07</text><circle cx="574" cy="444.7" r="2.6" fill="#ff8000" /><text x="577.3" y="448.3">Inflorescence</text><circle cx="641.4" cy="444.7" r="2.6" fill="#3eaad8" /><text x="644.7" y="448.3">Seedling</text><line x1="579.7" y1="564" x2="579.7" y2="567" stroke="#333" stroke-width="0.9" /><text x="582.6" y="575.2" font-size="10.4" text-anchor="end" transform="rotate(-45 582.6 575.2)">IF_All</text><line x1="592.6" y1="564" x2="592.6" y2="567" stroke="#333" stroke-width="0.9" /><text x="595.5" y="575.2" font-size="10.4" text-anchor="end" transform="rotate(-45 595.5 575.2)">All_Plastid</text><line x1="605.3" y1="564" x2="605.3" y2="567" stroke="#333" stroke-width="0.9" /><text x="608.2" y="575.2" font-size="10.4" text-anchor="end" transform="rotate(-45 608.2 575.2)">PhANGs</text><line x1="618.6" y1="564" x2="618.6" y2="567" stroke="#333" stroke-width="0.9" /><text x="621.5" y="575.2" font-size="10.4" text-anchor="end" transform="rotate(-45 621.5 575.2)">PS apparatus</text><line x1="635.7" y1="564" x2="635.7" y2="567" stroke="#333" stroke-width="0.9" /><text x="638.6" y="575.2" font-size="10.4" text-anchor="end" transform="rotate(-45 638.6 575.2)">S_All</text><line x1="648" y1="564" x2="648" y2="567" stroke="#333" stroke-width="0.9" /><text x="650.9" y="575.2" font-size="10.4" text-anchor="end" transform="rotate(-45 650.9 575.2)">All_Plastid</text><line x1="661.3" y1="564" x2="661.3" y2="567" stroke="#333" stroke-width="0.9" /><text x="664.2" y="575.2" font-size="10.4" text-anchor="end" transform="rotate(-45 664.2 575.2)">PhANGs</text><line x1="674.6" y1="564" x2="674.6" y2="567" stroke="#333" stroke-width="0.9" /><text x="677.5" y="575.2" font-size="10.4" text-anchor="end" transform="rotate(-45 677.5 575.2)">PS apparatus</text><text x="542.6" y="510.3" font-size="10.8" font-weight="bold" text-anchor="middle" transform="rotate(-90 542.6 510.3)">Log2 fold cahnge of TE</text><text x="556.3" y="511" font-size="10.8" font-weight="bold" text-anchor="middle" transform="rotate(-90 556.3 511)">(<tspan font-style="italic">hot3-2</tspan>/WT)</text></g></svg></body></html>
